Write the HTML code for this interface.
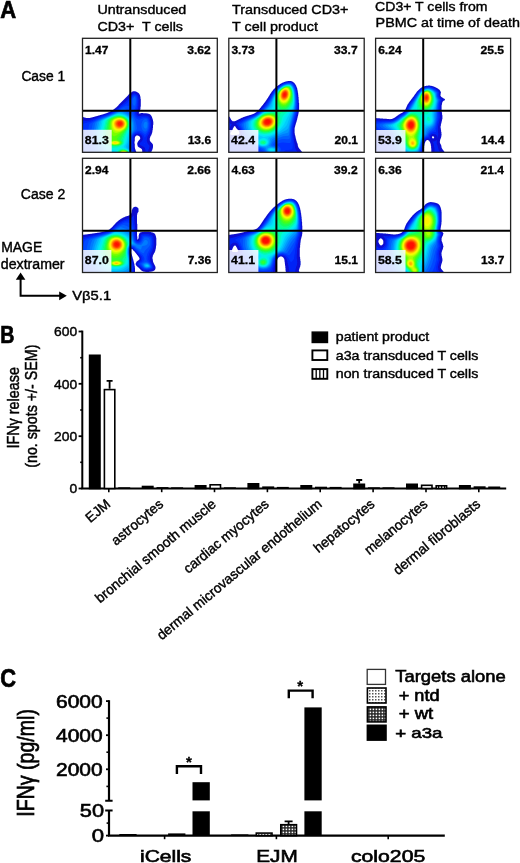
<!DOCTYPE html>
<html><head><meta charset="utf-8"><title>Figure</title>
<style>html,body{margin:0;padding:0;background:#fff;overflow:hidden}svg{display:block}text{font-family:'Liberation Sans', Arial, Helvetica, sans-serif;fill:#000;stroke:#000;stroke-width:0.4px}text[font-weight=bold]{stroke-width:0.3px}</style>
</head><body>
<svg width="520" height="863" viewBox="0 0 520 863">
<defs>
<filter id="bl" x="-20%" y="-20%" width="140%" height="140%"><feGaussianBlur stdDeviation="0.7"/></filter>
<filter id="bl2" x="-20%" y="-20%" width="140%" height="140%"><feGaussianBlur stdDeviation="0.5"/></filter>
<pattern id="pNtd" width="3" height="3" patternUnits="userSpaceOnUse"><rect width="3" height="3" fill="#fff"/><rect x="0" y="0" width="1.5" height="1.5" fill="#555"/></pattern>
<pattern id="pWt" width="3" height="3" patternUnits="userSpaceOnUse"><rect width="3" height="3" fill="#222"/><rect x="0.6" y="0.6" width="1.6" height="1.6" fill="#fff"/></pattern>
<pattern id="pHatch" width="3" height="10" patternUnits="userSpaceOnUse"><rect width="3" height="10" fill="#fff"/><rect x="0" y="0" width="1.2" height="10" fill="#000"/></pattern>
<clipPath id="cb1"><rect x="82.5" y="38.3" width="134.8" height="114.0"/></clipPath>
<clipPath id="cb2"><rect x="228.8" y="38.3" width="135.4" height="114.0"/></clipPath>
<clipPath id="cb3"><rect x="375.6" y="38.3" width="135.0" height="114.0"/></clipPath>
<clipPath id="cb4"><rect x="82.5" y="158.3" width="134.8" height="114.2"/></clipPath>
<clipPath id="cb5"><rect x="228.8" y="158.3" width="135.4" height="114.2"/></clipPath>
<clipPath id="cb6"><rect x="375.6" y="158.3" width="135.0" height="114.2"/></clipPath>
</defs>
<rect width="520" height="863" fill="#fff"/>
<text x="0.2" y="17.9" font-size="24" font-weight="bold" textLength="15.9" lengthAdjust="spacingAndGlyphs" style="stroke-width:0.7px">A</text>
<text x="97.4" y="14.4" font-size="13.6" textLength="88.9" lengthAdjust="spacingAndGlyphs">Untransduced</text>
<text x="97.4" y="31.3" font-size="13.6" textLength="85.6" lengthAdjust="spacingAndGlyphs">CD3+&#160; T cells</text>
<text x="232.1" y="14.4" font-size="13.6" textLength="116.3" lengthAdjust="spacingAndGlyphs">Transduced CD3+</text>
<text x="232.1" y="31.2" font-size="13.6" textLength="85.9" lengthAdjust="spacingAndGlyphs">T cell product</text>
<text x="375.1" y="10.8" font-size="13.6" textLength="112.5" lengthAdjust="spacingAndGlyphs">CD3+ T cells from</text>
<text x="375.6" y="26.5" font-size="13.6" textLength="144.4" lengthAdjust="spacingAndGlyphs">PBMC at time of death</text>
<text x="21.4" y="80.9" font-size="14" textLength="43.8" lengthAdjust="spacingAndGlyphs">Case 1</text>
<text x="20.8" y="198.8" font-size="14" textLength="44.4" lengthAdjust="spacingAndGlyphs">Case 2</text>
<text x="1.2" y="251.6" font-size="14" textLength="41.1" lengthAdjust="spacingAndGlyphs">MAGE</text>
<text x="0.8" y="268.8" font-size="14" textLength="63.8" lengthAdjust="spacingAndGlyphs">dextramer</text>
<text x="72.2" y="300.2" font-size="12.6" textLength="39.0" lengthAdjust="spacingAndGlyphs">V&#946;5.1</text>
<path d="M20.6,279 V295.7 H60" fill="none" stroke="#000" stroke-width="2"/>
<path d="M20.6,272.4 L15.8,279.8 L25.4,279.8Z" fill="#000"/>
<path d="M66.8,295.8 L59.2,291.4 L59.2,300.2Z" fill="#000"/>
<g clip-path="url(#cb1)">
<path d="M155.0,155.3 123.8,155.4 79.5,155.3 79.5,116.0 79.8,116.0 80.0,116.3 80.8,116.3 81.0,116.5 81.8,116.5 82.0,116.8 82.5,116.8 82.8,117.0 83.2,117.0 83.5,117.3 84.0,117.3 84.2,117.5 84.8,117.5 85.0,117.8 86.0,117.8 86.2,118.0 90.0,118.0 90.2,117.8 91.0,117.8 91.2,117.5 92.0,117.5 92.2,117.3 93.0,117.3 93.2,117.0 93.8,117.0 94.0,116.8 94.8,116.8 95.0,116.5 95.5,116.5 95.8,116.3 96.5,116.3 96.8,116.0 97.5,116.0 97.8,115.8 98.2,115.8 98.5,115.5 99.2,115.5 99.5,115.3 100.0,115.3 100.2,115.0 101.0,115.0 101.2,114.8 101.8,114.8 102.0,114.5 102.8,114.5 103.0,114.3 103.5,114.3 103.8,114.0 104.2,114.0 104.5,113.8 105.0,113.8 105.2,113.5 105.8,113.5 106.0,113.3 106.5,113.3 106.8,113.0 107.2,113.0 108.5,112.3 109.0,112.3 109.8,111.8 110.5,111.5 111.0,111.0 111.8,110.8 112.0,110.5 112.2,110.5 112.8,110.0 113.0,110.0 113.8,109.3 114.0,109.3 114.8,108.5 115.0,108.5 116.0,107.5 116.2,107.5 118.7,105.0 118.7,104.8 128.2,95.3 128.2,95.0 131.0,92.5 131.2,92.5 132.5,91.5 133.0,91.5 133.2,91.3 135.2,91.3 135.5,91.5 136.0,91.5 137.2,92.3 137.5,92.3 138.0,92.8 138.2,92.8 139.3,93.8 139.3,94.0 139.8,94.8 139.8,95.0 140.0,95.3 140.0,95.8 140.3,96.0 140.3,97.0 140.5,97.3 140.5,98.8 140.8,99.0 140.8,106.5 140.5,106.8 140.5,108.8 140.3,109.0 140.3,110.0 140.0,110.3 140.0,110.8 139.5,111.5 139.3,112.3 138.8,112.8 138.8,113.3 139.0,113.5 140.0,113.5 140.2,113.3 141.0,113.3 141.2,113.0 143.0,113.0 143.2,113.3 146.5,113.3 146.8,113.5 148.0,113.5 148.2,113.8 148.8,113.8 149.0,114.0 149.5,114.0 150.0,114.5 150.2,114.5 150.5,114.8 150.8,115.0 150.8,115.3 151.5,116.0 151.5,116.3 152.0,117.0 152.0,117.5 152.3,117.8 152.3,118.3 152.5,118.5 152.5,119.0 152.8,119.3 152.8,119.8 153.0,120.0 153.0,121.3 153.3,121.5 153.3,124.8 153.0,125.0 153.0,127.8 152.8,128.1 152.8,129.8 152.5,130.1 152.5,131.3 152.3,131.6 152.3,132.6 152.0,132.8 152.0,133.3 151.8,133.6 151.8,134.1 151.5,134.3 151.5,134.8 151.3,135.1 151.3,135.3 150.8,135.8 150.5,136.6 150.3,136.8 150.3,137.3 150.0,137.6 150.0,138.1 149.8,138.3 149.8,140.6 150.0,140.8 150.0,141.1 150.5,141.6 150.5,141.8 152.3,143.6 152.3,143.8 152.8,144.3 152.8,144.6 153.0,144.8 153.0,147.6 152.8,147.8 152.8,148.6 152.5,148.8 152.5,149.3 152.3,149.6 152.3,150.1 151.5,151.3 151.5,152.6 153.2,154.0 153.5,154.0 154.0,154.5 154.2,154.5 155.0,155.3ZM141.2,153.3 141.5,153.3 142.2,152.6 142.2,150.3 142.0,150.1 142.0,149.6 141.5,148.8 141.2,148.8 140.8,148.3 140.0,148.1 139.5,147.6 138.8,147.3 137.7,146.3 137.7,145.8 137.5,145.6 137.5,144.8 137.2,144.6 137.2,143.3 137.5,143.1 137.5,142.6 137.7,142.3 138.0,141.6 138.7,140.8 138.7,140.6 140.0,139.3 140.0,139.1 140.2,138.8 140.2,137.8 140.0,137.6 140.0,137.1 139.0,136.1 138.2,135.8 138.0,135.6 136.5,135.6 136.2,135.8 136.0,135.8 135.3,136.6 135.3,136.8 135.0,137.1 135.0,137.6 134.8,137.8 134.8,141.3 134.5,141.6 134.5,143.6 134.8,143.8 134.8,147.6 135.0,147.8 135.0,148.8 135.3,149.1 135.3,149.6 135.5,149.8 135.5,150.3 135.8,150.6 135.8,151.1 136.0,151.3 136.0,151.6 136.5,152.1 136.5,152.3 137.2,153.0 137.5,153.0 137.8,153.3 138.2,153.3 138.5,153.5 141.0,153.5 141.2,153.3Z" fill="#0a10d0" fill-rule="evenodd" filter="url(#bl2)"/>
<g filter="url(#bl)">
<path d="M149.0,155.3 144.2,155.3 145.0,154.4 145.4,153.3 145.4,150.3 145.2,149.3 144.8,148.1 144.0,147.0 143.2,146.5 140.0,145.1 139.7,144.1 139.7,143.6 140.1,142.8 142.0,140.9 142.6,139.8 142.7,139.1 142.5,137.3 141.9,135.8 140.5,134.6 139.0,133.9 138.2,133.7 136.2,133.9 135.0,134.6 134.1,135.8 133.4,137.6 133.4,140.6 133.2,141.3 133.1,143.6 133.3,144.6 133.2,147.8 133.4,149.3 134.4,152.8 135.5,154.6 136.3,155.3 123.8,155.4 79.5,155.3 79.5,119.6 84.0,120.6 85.8,120.8 90.2,120.2 96.5,117.8 103.2,115.6 109.5,113.2 113.0,111.5 117.4,108.5 120.0,106.3 120.5,105.7 127.2,100.2 129.2,98.0 130.8,96.0 132.1,94.5 133.0,93.9 133.5,93.5 134.2,93.3 135.2,93.5 136.0,93.9 137.3,94.8 137.9,96.0 138.4,98.0 138.7,100.0 138.5,105.5 138.3,106.5 138.2,107.8 137.7,109.8 136.7,111.8 136.5,112.5 136.5,113.8 136.8,114.5 137.7,115.5 138.8,115.9 140.2,116.0 142.2,115.5 143.0,115.6 145.5,115.5 147.2,115.9 148.2,116.3 148.8,116.6 149.6,117.8 150.7,120.8 151.0,122.5 151.1,123.8 150.9,124.8 150.9,126.8 150.5,129.1 149.9,131.8 149.4,133.1 149.1,133.8 147.9,135.8 147.2,137.6 146.8,140.6 146.9,141.6 147.4,142.8 148.0,143.9 149.2,145.4 149.6,146.1 149.2,148.1 148.3,150.1 148.1,151.1 148.2,153.3 148.5,154.3 149.2,155.3 149.0,155.3Z" fill="#0222f5" fill-rule="evenodd"/>
<path d="M134.0,155.3 123.8,155.4 86.8,155.3 84.6,150.3 83.1,145.1 82.2,139.6 81.9,133.8 82.2,128.6 82.6,125.3 83.0,123.7 90.5,121.7 96.8,118.8 101.0,117.1 108.0,114.7 113.5,112.1 118.0,109.3 120.8,107.3 121.8,106.4 127.5,102.5 129.2,100.6 131.5,97.0 132.8,95.5 134.2,94.6 135.5,95.0 136.5,95.7 137.1,97.0 137.6,100.0 137.4,104.8 136.9,107.5 136.4,109.3 135.4,111.0 135.0,112.3 135.1,113.8 135.6,115.3 136.1,116.0 136.9,116.8 137.8,117.4 138.5,117.6 140.2,117.7 142.2,117.1 145.2,116.9 147.0,117.2 147.8,117.5 148.5,118.3 149.4,120.5 149.9,122.5 150.0,123.5 149.8,126.8 149.4,128.8 148.7,131.6 147.8,133.3 146.6,135.1 145.5,136.8 145.0,138.0 144.3,136.6 142.9,134.6 141.2,133.2 139.2,132.4 138.0,132.3 135.8,132.9 134.4,133.8 133.3,135.3 132.6,137.6 132.5,140.3 132.2,141.3 132.1,143.6 132.3,144.8 132.1,147.8 132.4,149.8 133.3,153.1 134.1,155.3 134.0,155.3ZM144.8,143.8 143.3,143.6 144.5,142.7 144.8,143.8Z" fill="#0033ff" fill-rule="evenodd"/>
<path d="M132.8,155.3 123.8,155.4 94.5,155.3 92.9,152.8 91.6,150.3 90.5,147.6 89.6,144.8 88.9,141.8 88.4,138.8 88.1,135.8 88.1,132.8 88.6,127.5 89.2,124.3 89.5,124.0 92.8,121.9 96.8,119.7 101.2,117.8 108.2,115.2 113.8,112.6 118.5,109.9 122.6,107.3 124.0,106.6 126.8,105.6 128.2,106.0 128.8,106.0 129.2,105.8 129.8,104.8 130.4,101.8 132.2,97.8 133.5,96.3 134.2,95.8 134.5,95.7 135.7,96.3 136.0,96.8 136.5,98.5 136.8,100.5 136.6,103.0 136.3,105.3 135.2,108.5 134.0,110.3 133.6,111.5 133.5,112.5 133.7,113.8 134.4,115.8 135.3,117.0 136.5,118.4 137.8,119.3 138.8,119.7 140.0,119.6 142.2,118.6 144.2,118.1 145.2,118.0 147.0,118.3 147.5,118.8 148.5,120.8 149.0,122.8 149.1,123.5 148.9,126.5 148.6,128.6 148.1,130.1 147.6,131.3 147.0,132.4 145.2,134.2 145.0,134.3 142.0,132.0 140.8,131.3 139.8,130.9 138.8,130.8 136.5,131.4 135.2,132.0 133.8,133.3 132.7,134.8 132.2,136.0 131.9,137.6 131.8,140.3 131.5,141.3 131.4,143.6 131.5,145.1 131.3,147.8 131.5,149.6 132.7,154.3 132.9,155.3 132.8,155.3Z" fill="#0049ff" fill-rule="evenodd"/>
<path d="M134.2,105.9 133.5,105.3 132.8,104.0 132.4,102.5 132.4,100.8 132.4,100.0 133.0,98.5 134.0,97.3 134.5,97.0 135.0,97.3 135.5,98.5 135.8,100.8 135.7,102.8 135.2,104.5 135.0,105.1 134.2,105.9ZM131.8,155.3 123.8,155.4 99.0,155.3 96.6,152.3 94.6,148.8 93.1,145.1 91.9,140.8 91.4,136.8 91.3,132.6 91.7,128.6 92.7,123.8 93.7,122.8 95.3,121.5 97.0,120.5 99.5,119.2 103.0,117.7 110.4,114.8 114.0,113.1 120.8,109.6 123.5,108.5 124.0,108.4 124.8,108.7 127.0,110.1 129.2,111.7 131.0,113.3 132.2,114.8 133.2,116.3 134.6,118.8 135.4,120.8 136.1,123.3 136.6,125.8 136.9,128.6 136.9,129.3 133.8,132.2 132.5,133.8 131.8,135.5 131.3,137.1 131.1,140.1 130.9,141.3 130.7,143.6 130.8,145.1 130.5,147.8 130.8,149.6 131.9,153.3 132.0,155.1 132.0,155.3 131.8,155.3ZM145.8,131.6 145.0,131.6 144.2,131.4 143.5,130.9 142.8,130.3 141.8,128.6 141.3,126.3 141.5,123.8 142.3,121.5 143.0,120.5 143.8,119.7 145.0,119.2 146.2,119.3 146.8,119.7 147.7,121.3 148.2,123.3 148.1,126.3 147.7,128.3 146.8,130.5 146.2,131.2 145.8,131.6Z" fill="#0061ff" fill-rule="evenodd"/>
<path d="M131.0,155.3 102.8,155.3 102.0,154.6 99.4,151.8 97.1,148.3 95.4,144.6 94.2,140.3 93.7,136.1 93.7,131.8 94.4,127.0 95.2,123.3 95.5,122.8 97.3,121.3 99.8,119.8 101.5,118.9 110.5,115.2 118.5,111.4 121.5,110.3 122.8,110.2 124.8,111.2 127.2,112.7 129.5,114.5 130.8,115.7 131.8,117.0 132.6,118.3 133.3,119.8 134.2,122.8 134.6,126.5 134.6,129.6 131.8,133.9 131.1,135.6 130.7,137.3 130.5,140.1 130.2,141.3 130.0,143.8 129.8,147.8 130.0,148.8 130.9,151.6 131.3,153.1 131.3,154.8 131.2,155.3 131.0,155.3ZM146.0,128.6 145.5,128.6 145.0,128.5 144.2,127.8 143.8,126.8 143.5,125.5 143.7,124.0 144.2,122.8 145.0,121.9 145.8,121.7 146.2,121.8 146.8,122.2 147.2,123.0 147.3,123.5 147.2,126.3 146.5,128.3 146.0,128.6Z" fill="#007bff" fill-rule="evenodd"/>
<path d="M130.5,155.3 106.9,155.3 104.5,153.8 102.2,151.8 100.0,149.1 98.1,145.8 96.7,142.1 95.8,138.3 95.5,134.6 95.7,130.6 96.2,127.8 97.3,122.8 97.8,122.0 100.0,120.4 103.2,118.7 110.8,115.6 117.5,112.5 119.0,111.9 120.8,111.5 121.2,111.4 122.2,111.7 125.2,113.0 127.5,114.4 129.5,116.1 131.1,118.0 132.3,120.3 133.0,122.8 133.3,125.5 133.0,130.3 131.1,133.8 130.2,136.8 129.0,146.8 129.1,148.3 130.5,151.6 130.8,152.8 130.9,154.3 130.8,154.9 130.5,155.3Z" fill="#0097ff" fill-rule="evenodd"/>
<path d="M129.8,155.3 113.5,155.3 110.0,154.4 107.5,153.4 105.0,151.7 102.7,149.6 100.7,146.8 99.0,143.6 97.9,140.1 97.3,136.6 97.2,133.1 97.6,129.3 99.3,122.0 100.0,121.3 101.8,120.0 106.0,117.9 116.5,113.4 119.8,112.4 120.5,112.4 122.0,112.8 125.0,114.0 127.5,115.5 129.4,117.3 130.7,119.0 131.5,120.8 132.0,122.8 132.2,125.0 132.1,127.5 131.5,131.3 130.4,133.8 129.7,136.3 129.3,139.8 128.5,144.4 127.7,146.8 127.9,147.8 129.8,150.9 130.4,152.6 130.4,154.3 129.9,155.3 129.8,155.3Z" fill="#00b4ff" fill-rule="evenodd"/>
<path d="M129.2,155.3 116.3,155.3 115.0,154.2 114.0,153.7 109.8,152.4 107.5,151.3 105.2,149.7 103.2,147.6 101.4,144.8 100.1,142.1 99.2,138.8 98.8,135.3 98.8,132.1 99.3,128.8 101.0,121.8 101.0,121.5 101.8,120.8 103.5,119.7 107.0,117.9 116.8,113.8 119.2,113.2 122.0,113.7 124.8,114.7 127.2,116.3 129.1,118.0 130.2,119.8 131.0,121.8 131.4,124.0 131.3,126.3 130.9,129.1 129.0,136.3 128.5,139.8 128.2,141.0 127.6,143.1 126.2,145.8 126.0,146.8 126.1,147.3 126.4,147.8 128.8,150.1 129.8,151.8 130.0,152.8 130.1,153.8 129.7,154.8 129.4,155.3 129.2,155.3Z" fill="#00cefc" fill-rule="evenodd"/>
<path d="M128.8,155.3 117.4,155.3 115.5,152.8 114.8,152.1 113.8,151.6 110.2,150.7 108.0,149.6 105.6,147.8 103.5,145.3 102.1,143.1 101.0,140.1 100.4,137.1 100.2,133.8 100.3,131.8 100.6,129.8 102.4,122.0 102.7,121.0 103.6,120.3 107.0,118.4 113.8,115.4 117.0,114.2 118.5,113.9 121.8,114.4 124.5,115.3 125.8,116.0 127.0,116.9 128.9,118.8 129.9,120.5 130.5,122.5 130.7,124.5 130.5,126.8 130.0,128.8 128.5,133.8 126.4,142.6 125.7,144.1 124.3,146.1 124.1,146.8 124.2,147.3 124.7,147.8 127.8,149.8 128.5,150.6 129.2,151.5 129.6,152.6 129.7,153.6 129.3,154.8 129.0,155.3 128.8,155.3Z" fill="#00e5f8" fill-rule="evenodd"/>
<path d="M128.5,155.3 118.2,155.3 117.1,153.8 116.7,152.8 116.3,150.8 115.9,150.3 115.0,149.9 111.2,149.2 109.0,148.3 107.8,147.5 106.2,146.3 105.0,145.0 104.1,143.8 103.0,141.6 102.0,138.3 101.6,135.6 101.6,132.6 102.0,129.6 104.0,121.5 104.5,120.5 105.8,119.6 108.0,118.4 114.0,115.7 117.0,114.7 118.2,114.6 121.5,114.9 123.0,115.3 124.5,115.9 125.8,116.7 126.9,117.5 127.9,118.5 128.7,119.5 129.5,121.3 130.0,123.0 130.1,125.0 129.7,127.3 129.2,129.1 127.1,134.6 125.5,140.3 125.0,143.1 124.2,144.3 122.1,146.6 121.8,147.3 122.0,147.6 122.5,147.9 125.2,148.9 126.8,149.6 127.8,150.3 128.5,151.1 129.1,152.1 129.3,153.3 129.1,154.3 128.5,155.3Z" fill="#00f4e0" fill-rule="evenodd"/>
<path d="M116.0,147.8 113.2,147.9 112.0,147.7 110.5,147.2 107.8,145.8 106.5,144.8 105.8,144.1 104.8,142.3 103.3,137.6 102.9,134.6 103.1,131.6 103.5,129.3 104.7,125.0 105.3,122.0 105.6,121.0 106.2,120.0 107.7,119.0 110.5,117.6 114.8,115.8 117.0,115.2 118.8,115.1 120.5,115.3 122.5,115.7 124.5,116.5 126.1,117.5 127.5,118.8 128.5,120.3 129.1,121.8 129.5,123.5 129.4,125.5 129.1,127.0 128.6,128.6 126.4,133.3 125.4,135.8 124.2,139.8 124.0,142.6 123.7,143.6 122.8,144.6 120.8,146.0 118.2,147.2 116.0,147.8ZM128.0,155.3 118.8,155.3 118.0,154.3 117.6,153.3 117.5,152.1 117.8,151.1 118.2,150.3 118.8,149.8 119.5,149.3 120.5,149.0 121.8,148.8 123.0,148.9 124.5,149.2 125.8,149.6 126.8,150.1 127.7,150.8 128.4,151.6 128.8,152.3 129.0,153.1 128.9,154.1 128.5,154.8 128.1,155.3 128.0,155.3Z" fill="#00fbb5" fill-rule="evenodd"/>
<path d="M115.5,146.6 112.8,146.5 110.2,145.9 108.0,144.8 106.7,143.6 106.2,142.6 104.5,136.3 104.3,133.6 104.6,130.8 105.9,125.5 106.7,121.8 107.2,120.5 108.2,119.3 110.8,117.9 115.2,116.1 118.2,115.7 121.2,115.9 123.0,116.4 124.8,117.2 126.2,118.2 127.5,119.5 128.3,121.0 128.8,122.5 129.0,124.0 128.8,125.8 128.0,128.5 124.7,134.3 123.0,138.8 122.7,140.3 123.1,142.6 122.8,143.6 121.8,144.6 120.0,145.5 117.8,146.2 115.5,146.6ZM127.5,155.3 119.4,155.3 118.7,154.6 118.2,153.6 118.1,152.6 118.3,151.8 118.7,151.1 119.2,150.5 120.0,150.0 121.0,149.6 122.0,149.4 123.2,149.4 124.5,149.6 125.8,150.0 126.8,150.5 127.5,151.1 128.2,151.8 128.5,152.6 128.6,153.6 128.4,154.3 127.8,155.3 127.5,155.3Z" fill="#08ff88" fill-rule="evenodd"/>
<path d="M116.5,145.8 113.8,145.9 111.2,145.5 109.0,144.6 107.7,143.6 107.3,142.6 107.2,140.1 106.3,137.6 105.9,135.8 105.8,133.8 105.9,131.6 107.2,125.8 107.8,122.0 108.3,120.8 109.0,119.8 109.9,119.0 111.0,118.3 114.2,116.9 117.5,116.2 120.5,116.2 122.2,116.6 124.0,117.3 125.5,118.2 126.7,119.3 127.6,120.5 128.2,122.0 128.5,123.5 128.4,125.3 128.1,126.8 127.3,128.6 126.4,130.1 123.5,134.3 121.4,138.8 121.2,139.6 121.2,140.1 122.2,142.1 122.3,142.8 122.2,143.3 121.2,144.3 120.0,144.9 118.5,145.4 116.5,145.8ZM127.2,155.3 119.9,155.3 119.1,154.6 118.8,153.8 118.6,152.8 118.8,152.1 119.2,151.3 119.8,150.8 120.5,150.3 121.5,149.9 123.5,149.8 125.5,150.2 126.5,150.6 127.2,151.2 127.8,151.8 128.2,152.6 128.3,153.3 128.2,154.1 127.8,154.8 127.2,155.3Z" fill="#18ff58" fill-rule="evenodd"/>
<path d="M117.0,145.3 114.2,145.5 111.8,145.1 109.8,144.4 108.9,143.8 108.5,143.3 108.3,142.3 108.9,140.6 109.0,139.8 108.0,137.3 107.5,135.6 107.3,133.6 107.5,131.3 108.3,126.5 108.8,122.3 109.3,121.0 110.0,120.0 110.7,119.3 111.8,118.5 113.2,117.8 114.8,117.2 117.8,116.6 120.5,116.6 122.2,117.0 123.8,117.6 125.2,118.5 126.3,119.5 127.2,120.8 127.7,122.0 128.0,123.5 128.0,125.0 127.5,126.9 126.6,128.8 125.5,130.3 121.9,134.6 119.6,138.8 119.4,139.6 119.7,140.1 121.0,141.4 121.4,142.1 121.6,142.8 121.4,143.3 120.8,144.0 119.8,144.6 118.5,145.0 117.0,145.3ZM126.8,155.3 120.3,155.3 119.6,154.6 119.2,153.8 119.1,153.1 119.2,152.3 119.5,151.7 120.0,151.1 121.5,150.3 123.5,150.1 125.5,150.5 126.5,151.0 127.2,151.6 127.6,152.1 128.0,152.8 128.0,153.6 127.8,154.3 127.2,155.1 127.0,155.3 126.8,155.3Z" fill="#30ff30" fill-rule="evenodd"/>
<path d="M116.5,145.1 114.0,145.1 111.8,144.7 110.2,144.1 109.5,143.6 109.2,143.1 109.1,142.6 109.4,141.8 111.2,140.1 111.5,139.6 111.5,139.3 109.8,136.6 109.4,135.3 109.2,134.1 109.1,131.1 109.7,122.8 110.1,121.5 110.8,120.3 111.8,119.3 113.2,118.4 115.0,117.6 117.0,117.1 119.0,117.0 120.8,117.1 122.2,117.4 123.8,118.0 125.0,118.8 126.0,119.8 126.9,121.0 127.4,122.3 127.6,123.5 127.5,125.0 126.8,127.3 125.6,129.3 124.2,130.8 120.3,134.6 117.0,138.8 116.9,139.3 117.1,139.6 119.8,141.2 120.5,141.8 120.9,142.6 120.8,143.3 120.2,143.9 119.2,144.4 118.0,144.8 116.5,145.1ZM126.5,155.3 120.8,155.3 120.0,154.6 119.6,153.8 119.5,153.1 119.6,152.3 119.9,151.8 120.5,151.2 122.0,150.5 123.0,150.4 124.0,150.4 125.8,150.9 127.1,151.8 127.5,152.4 127.7,153.1 127.7,153.8 127.5,154.3 127.0,154.9 126.5,155.3Z" fill="#50ff10" fill-rule="evenodd"/>
<path d="M115.2,136.1 114.0,136.2 113.0,135.8 112.0,134.7 111.3,133.1 110.8,130.2 110.5,126.8 110.5,123.5 110.9,121.5 111.7,120.3 112.8,119.3 114.2,118.5 116.0,117.8 118.0,117.4 119.8,117.4 121.5,117.6 123.0,118.1 124.2,118.8 125.2,119.6 126.1,120.5 126.7,121.8 127.1,123.0 127.1,124.3 127.0,125.5 126.5,126.8 125.2,128.9 123.2,130.8 117.0,135.1 115.2,136.1ZM116.0,144.8 113.5,144.7 111.5,144.3 110.6,143.8 110.1,143.3 109.9,142.8 110.0,142.3 110.6,141.6 111.8,140.9 113.2,140.4 114.8,140.3 116.2,140.4 118.0,140.9 119.4,141.6 120.2,142.3 120.3,143.1 119.9,143.6 119.5,143.9 118.0,144.5 116.0,144.8ZM126.0,155.3 121.3,155.3 120.4,154.6 119.9,153.8 119.8,153.1 120.0,152.3 120.4,151.8 121.0,151.3 122.5,150.7 124.2,150.7 125.8,151.1 127.0,152.1 127.3,152.6 127.4,153.3 127.3,154.1 127.0,154.6 126.5,155.1 126.0,155.3Z" fill="#78ff00" fill-rule="evenodd"/>
<path d="M117.5,132.8 116.0,133.0 114.8,132.8 113.6,132.1 112.7,130.8 111.8,128.8 111.4,126.5 111.3,124.0 111.6,122.0 112.0,121.0 112.8,120.0 114.0,119.1 115.5,118.4 117.0,118.0 118.8,117.7 120.5,117.8 122.0,118.1 123.2,118.6 124.3,119.3 125.2,120.1 125.9,121.0 126.4,122.0 126.7,123.3 126.7,124.5 126.4,125.8 125.9,127.0 125.2,128.1 124.2,129.2 123.2,130.1 120.5,131.7 117.5,132.8ZM115.8,144.6 113.8,144.5 111.9,144.1 110.8,143.3 110.6,142.6 111.0,142.0 112.0,141.4 113.5,141.0 115.0,140.9 116.5,141.0 118.0,141.4 119.0,141.8 119.6,142.6 119.7,143.1 119.5,143.3 118.9,143.8 117.5,144.3 115.8,144.6ZM125.5,155.3 121.8,155.3 121.5,155.1 120.7,154.6 120.3,153.8 120.2,153.1 120.4,152.3 120.9,151.8 121.5,151.3 123.0,150.9 124.5,151.0 126.0,151.6 126.6,152.1 127.0,152.6 127.1,153.6 126.7,154.6 126.1,155.1 125.5,155.3Z" fill="#a8ff00" fill-rule="evenodd"/>
<path d="M119.0,131.4 117.5,131.5 116.0,131.4 114.8,130.8 113.9,130.1 113.0,128.8 112.4,127.3 112.1,125.5 112.0,123.5 112.2,122.3 112.6,121.3 113.4,120.3 114.3,119.5 115.5,118.9 117.0,118.4 118.5,118.1 120.0,118.1 121.2,118.3 122.5,118.7 123.7,119.3 124.6,120.0 125.5,121.0 126.0,122.0 126.2,123.0 126.3,124.3 126.1,125.5 125.7,126.5 125.0,127.6 124.0,128.8 123.0,129.6 121.8,130.3 120.5,130.9 119.0,131.4ZM115.8,144.3 113.8,144.2 112.3,143.8 111.5,143.3 111.4,143.1 111.4,142.6 111.8,142.1 112.8,141.6 115.0,141.2 116.2,141.3 117.5,141.6 118.5,142.1 119.0,142.6 119.0,143.1 118.9,143.3 118.2,143.8 117.2,144.1 115.8,144.3ZM125.0,155.3 122.4,155.3 121.4,154.8 120.9,154.3 120.6,153.6 120.6,152.8 120.8,152.3 121.8,151.5 123.2,151.1 124.8,151.3 125.9,151.8 126.5,152.3 126.8,152.8 126.8,153.8 126.5,154.3 126.1,154.8 125.0,155.3Z" fill="#d0ff00" fill-rule="evenodd"/>
<path d="M118.8,130.6 117.5,130.6 116.2,130.3 115.2,129.8 114.2,128.8 113.4,127.5 112.9,126.0 112.7,124.3 112.8,122.8 113.1,121.8 113.7,120.8 114.5,120.0 115.5,119.4 116.8,118.9 118.0,118.6 119.5,118.4 120.8,118.6 122.0,118.9 123.0,119.3 124.0,120.0 124.8,120.8 125.4,121.8 125.8,122.8 125.9,123.8 125.8,124.8 125.5,125.8 125.0,126.8 124.3,127.8 123.5,128.6 122.5,129.3 121.2,129.9 120.0,130.3 118.8,130.6ZM115.8,144.1 114.2,144.0 113.0,143.7 112.2,143.3 112.0,142.8 112.1,142.6 112.5,142.2 113.2,141.8 115.2,141.6 117.2,141.9 118.0,142.2 118.3,142.6 118.4,143.1 117.8,143.6 117.0,143.9 115.8,144.1ZM125.0,155.1 123.5,155.3 122.8,155.2 121.9,154.8 121.3,154.3 121.0,153.8 120.9,153.1 121.1,152.6 121.9,151.8 123.0,151.4 124.2,151.4 125.5,151.8 126.3,152.6 126.5,153.1 126.5,153.6 126.4,154.1 126.0,154.5 125.0,155.1Z" fill="#efff00" fill-rule="evenodd"/>
<path d="M119.2,129.8 118.0,129.8 116.8,129.5 115.8,129.0 114.9,128.3 114.2,127.4 113.7,126.3 113.4,125.0 113.3,123.5 113.5,122.5 113.9,121.5 114.4,120.8 115.3,120.0 116.2,119.5 117.5,119.1 118.8,118.8 120.0,118.8 121.2,119.0 122.2,119.4 123.2,119.9 124.0,120.5 124.7,121.3 125.1,122.0 125.4,123.0 125.5,124.0 125.3,125.0 125.0,126.0 124.3,127.0 123.5,127.9 122.5,128.7 121.5,129.2 120.2,129.6 119.2,129.8ZM116.8,143.6 115.5,143.8 114.2,143.7 113.1,143.3 112.8,142.8 113.2,142.3 114.0,142.1 115.2,141.9 116.4,142.1 117.2,142.3 117.7,142.8 117.4,143.3 116.8,143.6ZM124.0,155.1 122.5,154.8 122.0,154.6 121.5,154.1 121.3,153.6 121.3,153.1 121.5,152.6 122.0,152.1 123.0,151.7 124.2,151.7 125.3,152.1 126.0,152.7 126.2,153.6 125.8,154.3 125.0,154.8 124.0,155.1Z" fill="#ffef00" fill-rule="evenodd"/>
<path d="M120.2,129.1 119.0,129.2 118.0,129.1 117.0,128.8 116.2,128.4 115.5,127.8 114.9,127.0 114.1,125.3 114.0,123.3 114.2,122.3 114.5,121.5 115.8,120.3 116.6,119.8 117.8,119.4 118.8,119.2 120.0,119.2 121.2,119.4 122.2,119.8 123.2,120.3 124.0,121.0 124.5,121.8 124.9,122.8 125.1,123.8 124.9,124.8 124.6,125.8 124.0,126.8 123.2,127.5 122.2,128.3 120.2,129.1ZM116.0,143.3 114.4,143.3 113.9,143.1 113.9,142.8 114.1,142.6 114.8,142.4 116.0,142.4 116.7,142.8 116.6,143.1 116.0,143.3ZM124.0,154.8 122.8,154.6 121.9,154.1 121.7,153.6 121.7,153.1 122.2,152.3 123.2,151.9 124.2,151.9 125.2,152.3 125.7,152.8 125.9,153.6 125.6,154.1 125.0,154.6 124.0,154.8Z" fill="#ffd000" fill-rule="evenodd"/>
<path d="M119.8,128.6 118.8,128.6 117.8,128.4 117.0,128.1 116.2,127.5 115.5,126.8 115.1,126.0 114.7,125.0 114.5,124.0 114.6,123.0 114.8,122.3 115.2,121.5 115.8,120.9 117.2,120.0 119.2,119.6 121.2,119.8 122.2,120.2 123.0,120.7 123.7,121.3 124.2,122.0 124.6,123.5 124.5,124.5 124.3,125.3 123.9,126.0 123.2,126.9 121.8,128.0 120.8,128.4 119.8,128.6ZM124.8,154.3 123.8,154.5 122.8,154.3 122.4,154.1 122.1,153.6 122.2,152.8 122.8,152.4 123.5,152.2 124.2,152.2 125.0,152.6 125.4,153.1 125.5,153.6 125.2,154.1 124.8,154.3Z" fill="#ffb000" fill-rule="evenodd"/>
<path d="M120.8,127.8 119.0,128.0 117.5,127.6 116.4,126.8 115.5,125.5 115.1,124.0 115.3,122.5 116.1,121.3 117.2,120.5 119.0,120.0 120.0,120.0 121.0,120.1 122.0,120.5 122.8,121.0 123.3,121.5 123.8,122.3 124.1,123.0 124.2,123.8 124.0,124.8 123.7,125.5 123.2,126.3 122.5,126.9 121.8,127.4 120.8,127.8ZM124.2,154.1 123.5,154.2 123.0,154.0 122.6,153.6 122.7,153.1 123.0,152.7 123.5,152.6 124.0,152.6 124.6,152.8 124.9,153.1 125.0,153.6 124.8,153.9 124.2,154.1Z" fill="#ff9000" fill-rule="evenodd"/>
<path d="M120.5,127.3 119.0,127.4 117.8,127.0 116.8,126.3 116.0,125.0 115.7,123.8 116.0,122.5 116.8,121.4 118.0,120.7 119.5,120.4 121.2,120.6 122.0,121.0 122.7,121.5 123.5,122.8 123.7,123.5 123.6,124.3 123.1,125.5 122.0,126.7 120.5,127.3ZM123.8,153.4 123.7,153.3 123.9,153.3 123.8,153.4Z" fill="#ff7000" fill-rule="evenodd"/>
<path d="M120.2,126.8 119.0,126.8 118.0,126.4 117.0,125.6 116.5,124.5 116.4,123.3 116.8,122.4 117.5,121.5 118.5,121.0 120.0,120.9 121.2,121.1 122.0,121.5 122.5,122.0 123.0,123.0 123.1,124.3 122.5,125.5 121.5,126.4 120.2,126.8Z" fill="#ff5000" fill-rule="evenodd"/>
<path d="M120.5,126.1 119.5,126.2 118.5,125.9 117.8,125.3 117.3,124.5 117.1,123.5 117.3,122.8 117.8,122.2 118.5,121.7 119.5,121.4 120.8,121.5 121.7,122.0 122.3,122.8 122.5,123.8 122.2,124.8 121.5,125.6 120.5,126.1Z" fill="#ff3400" fill-rule="evenodd"/>
<path d="M120.5,125.3 119.8,125.4 119.2,125.3 118.7,125.0 118.2,124.5 118.0,124.0 118.0,123.3 118.3,122.8 118.9,122.3 119.8,122.1 120.5,122.2 121.2,122.5 121.6,123.0 121.7,123.5 121.6,124.3 121.2,124.9 120.5,125.3Z" fill="#ff1c00" fill-rule="evenodd"/>
</g>
<rect x="82.5" y="129.8" width="29.2" height="22.5" fill="#fdfdff" fill-opacity="0.86"/>
</g>
<path d="M130.3,38.3 V152.3 M82.5,110.7 H217.3" stroke="#000" stroke-width="2" fill="none"/>
<rect x="82.5" y="38.3" width="134.8" height="114.0" fill="none" stroke="#222" stroke-width="1.3"/>
<text x="85.1" y="53.8" font-size="11.6" font-weight="bold" textLength="23.4" lengthAdjust="spacingAndGlyphs">1.47</text>
<text x="210.8" y="53.8" font-size="11.6" text-anchor="end" font-weight="bold" textLength="23.6" lengthAdjust="spacingAndGlyphs">3.62</text>
<text x="84.8" y="143.6" font-size="11.6" font-weight="bold" textLength="24.0" lengthAdjust="spacingAndGlyphs">81.3</text>
<text x="211.1" y="143.6" font-size="11.6" text-anchor="end" font-weight="bold" textLength="23.4" lengthAdjust="spacingAndGlyphs">13.6</text>
<g clip-path="url(#cb2)">
<path d="M302.8,155.3 225.8,155.3 225.8,115.0 226.6,115.5 227.1,115.5 227.8,116.0 228.3,116.0 228.8,116.5 229.1,116.5 230.1,117.5 230.1,117.8 230.8,119.0 230.8,119.3 231.1,119.5 231.1,119.8 232.6,121.3 234.8,121.3 235.1,121.0 235.6,121.0 235.8,120.8 236.1,120.8 236.3,120.5 236.6,120.5 236.8,120.3 237.1,120.3 237.3,120.0 238.1,119.8 238.3,119.5 238.6,119.5 238.8,119.3 239.6,119.0 239.8,118.8 240.6,118.5 241.8,117.8 242.3,117.8 243.6,117.0 244.1,117.0 244.3,116.8 244.8,116.8 245.1,116.5 245.6,116.5 245.8,116.3 246.3,116.3 246.6,116.0 247.1,116.0 247.3,115.8 248.1,115.8 248.3,115.5 248.8,115.5 249.1,115.3 249.6,115.3 249.8,115.0 250.6,115.0 250.8,114.8 251.3,114.8 251.6,114.5 252.1,114.5 252.8,114.0 253.3,114.0 254.1,113.5 254.8,113.3 256.1,112.3 256.3,112.3 259.8,108.8 259.8,108.5 261.0,107.3 261.0,107.0 263.0,104.8 263.0,104.5 263.8,103.8 263.8,103.5 265.3,101.8 265.3,101.5 265.8,101.0 265.8,100.8 266.5,100.0 266.5,99.8 267.0,99.3 267.0,99.0 268.0,97.8 268.3,97.0 269.3,95.8 269.5,95.0 270.0,94.5 270.0,94.3 270.5,93.8 270.5,93.5 271.0,93.0 271.0,92.8 271.5,92.3 271.5,92.0 273.0,90.3 273.0,90.0 276.1,87.0 276.3,87.0 277.3,86.0 277.6,86.0 278.3,85.3 278.6,85.3 279.1,84.8 279.3,84.8 280.6,83.8 281.3,83.5 281.8,83.0 282.1,83.0 282.8,82.5 283.3,82.5 284.1,82.0 284.6,82.0 284.8,81.8 285.3,81.8 285.6,81.5 286.3,81.5 286.6,81.3 287.6,81.3 287.8,81.0 291.1,81.0 291.3,81.3 291.8,81.3 292.6,81.8 292.8,81.8 293.6,82.5 293.8,82.5 294.1,82.8 294.6,83.3 294.6,83.5 295.3,84.3 295.6,85.0 296.1,85.5 296.1,85.8 296.3,86.0 296.3,86.5 296.8,87.3 296.8,87.8 297.1,88.0 297.1,88.5 297.3,88.8 297.3,89.8 297.6,90.0 297.6,91.0 297.8,91.3 297.8,92.5 298.1,92.8 298.1,94.5 298.3,94.8 298.3,96.8 298.6,97.0 298.6,99.5 298.8,99.8 298.8,102.8 299.1,103.0 299.1,110.3 298.8,110.5 298.8,112.3 298.6,112.5 298.6,113.5 298.3,113.8 298.3,114.8 298.1,115.0 298.1,115.8 297.8,116.0 297.8,116.8 297.6,117.0 297.6,117.8 297.3,118.0 297.3,119.0 297.1,119.3 297.1,120.0 296.8,120.3 296.8,120.8 296.6,121.0 296.6,121.8 296.3,122.0 296.3,122.5 296.1,122.8 296.1,123.3 295.8,123.5 295.8,124.0 295.6,124.3 295.6,125.0 295.3,125.3 295.3,125.8 295.1,126.0 295.1,126.8 294.8,127.0 294.8,128.1 294.6,128.3 294.6,133.1 294.8,133.3 294.8,134.6 295.1,134.8 295.1,135.6 295.3,135.8 295.3,136.6 295.6,136.8 295.6,137.8 295.8,138.1 295.8,138.8 296.1,139.1 296.1,139.8 296.3,140.1 296.3,140.8 296.6,141.1 296.6,141.6 296.8,141.8 296.8,142.3 297.3,143.1 297.3,143.6 297.6,143.8 297.6,144.3 297.8,144.6 297.8,145.8 298.1,146.1 298.1,146.8 298.6,147.6 298.6,147.8 299.3,148.6 299.3,148.8 300.6,150.1 300.6,150.3 301.6,151.3 301.6,151.6 302.3,152.3 302.6,153.1 302.8,153.3 302.8,153.8 303.1,154.1 303.1,155.1 302.8,155.3ZM237.0,134.8 238.3,134.8 238.6,134.5 238.8,134.5 239.3,134.1 239.3,132.3 239.0,132.1 239.0,131.6 238.8,131.3 238.8,131.1 238.3,130.6 238.3,130.3 236.5,128.6 236.5,128.3 236.0,127.8 236.0,127.5 235.5,127.0 235.5,126.8 235.1,126.3 234.8,126.3 234.6,126.1 233.8,126.8 233.8,127.0 233.6,127.3 233.6,127.5 232.8,128.8 232.8,129.3 232.6,129.6 232.3,130.3 231.8,130.8 231.8,131.1 230.8,132.3 230.8,132.6 230.3,133.3 230.3,134.3 230.8,134.8 231.3,134.8 231.6,135.0 236.8,135.0 237.0,134.8Z" fill="#0a10d0" fill-rule="evenodd" filter="url(#bl2)"/>
<g filter="url(#bl)">
<path d="M299.1,155.3 225.8,155.3 225.8,119.0 227.1,119.5 228.4,121.8 230.0,123.3 230.8,123.9 232.0,124.3 231.1,125.3 229.6,128.3 227.9,130.6 227.1,132.1 226.9,133.1 226.9,134.8 227.1,135.8 227.6,136.5 228.3,137.3 229.0,137.8 231.1,138.4 236.8,138.0 239.3,137.2 240.5,136.3 241.3,135.1 241.4,134.3 241.2,131.8 240.7,130.6 239.9,129.1 238.6,127.5 237.1,125.0 236.6,124.4 235.7,123.8 235.9,123.5 242.3,119.6 244.1,118.7 247.8,117.1 251.1,116.1 253.8,115.0 255.6,114.1 257.1,113.0 260.6,109.8 264.3,105.8 267.7,101.0 270.7,95.8 274.1,90.5 276.4,88.0 278.8,86.1 282.3,83.8 284.6,82.8 286.1,82.3 287.8,82.1 288.3,81.9 290.6,82.0 291.3,82.2 292.3,82.7 293.6,83.8 294.3,84.8 295.3,86.5 296.3,89.3 296.6,91.3 296.9,91.8 296.9,92.8 297.1,93.3 297.1,94.8 297.3,95.3 297.4,97.0 297.6,97.5 297.5,99.8 297.7,100.3 297.7,103.0 297.9,103.8 297.6,109.5 297.4,110.3 297.3,111.5 296.8,114.0 295.8,117.5 295.5,119.3 293.7,125.5 293.2,128.1 293.0,133.3 294.1,141.6 294.9,145.6 294.9,146.6 295.2,148.1 296.0,150.1 299.3,154.6 299.2,155.3 299.1,155.3Z" fill="#0222f5" fill-rule="evenodd"/>
<path d="M275.3,155.3 268.3,155.3 266.3,154.9 264.1,154.2 262.3,153.4 258.3,151.3 252.6,149.2 247.8,146.9 243.6,144.5 240.2,142.1 239.0,141.1 241.3,138.5 241.9,137.6 242.6,135.8 242.7,134.1 242.4,131.8 241.8,130.1 240.8,128.2 239.6,126.5 238.3,124.0 241.3,121.7 244.6,119.6 248.1,118.0 252.8,116.2 255.8,114.7 257.6,113.5 261.3,110.3 264.9,106.5 267.3,103.4 269.4,100.0 272.8,93.8 274.8,90.8 276.8,88.6 279.1,86.7 282.6,84.3 284.6,83.5 286.3,82.9 288.6,82.5 290.3,82.6 291.8,83.3 293.1,84.3 294.6,86.5 295.2,88.0 295.7,89.5 296.4,93.5 296.4,94.8 296.7,95.5 296.7,97.0 296.9,97.8 296.8,99.8 297.0,100.5 296.9,103.0 297.1,104.0 296.8,109.3 295.8,113.8 292.8,125.3 292.3,128.1 292.0,133.3 292.4,137.8 292.8,145.6 292.3,148.9 292.1,149.3 290.3,149.8 286.8,150.0 285.8,150.2 284.8,150.8 282.2,152.8 280.6,153.8 278.1,154.7 275.3,155.3Z" fill="#0033ff" fill-rule="evenodd"/>
<path d="M274.1,154.1 271.6,154.2 269.1,154.0 266.8,153.4 265.1,152.7 263.8,151.8 261.3,149.7 256.8,147.9 254.3,146.6 252.8,145.3 249.7,142.3 244.7,138.6 244.3,138.2 244.1,137.8 243.9,134.6 243.2,131.1 242.3,128.8 240.5,125.8 240.0,124.5 240.0,124.3 242.3,122.2 244.8,120.4 248.3,118.7 253.1,116.7 256.1,115.2 258.1,113.9 263.3,109.3 265.7,106.8 268.0,103.8 270.0,100.3 272.8,95.0 275.1,91.3 277.1,89.0 279.3,87.1 282.8,84.7 284.8,83.9 286.3,83.4 288.6,83.1 290.3,83.2 291.6,83.8 292.6,84.5 293.3,85.5 294.1,86.8 295.1,89.5 295.6,92.0 296.1,95.8 296.1,97.0 296.3,98.0 296.3,99.8 296.4,100.8 296.4,103.0 296.5,104.0 296.1,109.3 295.7,111.3 292.1,125.0 291.5,127.8 291.1,133.3 291.2,138.1 290.8,141.6 290.3,142.8 289.6,143.0 287.8,143.1 284.1,142.5 282.1,142.5 279.6,143.0 277.6,143.8 277.1,144.5 277.1,145.1 277.6,145.6 279.6,147.1 280.4,148.1 280.9,149.3 280.8,150.6 279.9,151.8 278.5,152.8 276.3,153.6 274.1,154.1Z" fill="#0049ff" fill-rule="evenodd"/>
<path d="M274.3,153.3 272.6,153.5 270.6,153.4 268.8,153.2 267.1,152.6 265.3,151.6 263.5,149.6 262.8,149.0 261.9,148.6 257.8,147.1 256.6,146.5 255.3,145.6 253.9,144.1 252.3,141.4 251.6,140.4 247.3,136.9 245.6,135.2 245.1,134.0 244.3,131.3 243.7,129.6 241.5,124.8 242.3,123.8 243.4,122.5 245.8,120.8 248.3,119.4 254.6,116.6 258.1,114.5 262.2,111.0 264.9,108.5 267.0,106.3 268.6,104.2 270.1,101.5 273.2,95.3 275.5,91.5 277.3,89.4 278.6,88.3 281.1,86.3 283.6,84.8 285.8,84.0 287.3,83.7 288.8,83.5 290.1,83.6 291.3,84.1 292.1,84.8 292.9,85.8 293.7,87.0 294.6,89.5 295.2,92.3 295.7,95.8 295.7,97.0 295.8,98.0 295.8,99.8 295.9,100.8 295.8,103.0 296.0,104.0 295.5,109.0 295.1,111.0 292.0,123.0 290.8,127.8 289.9,137.6 289.6,138.6 289.3,138.9 287.6,139.2 283.6,139.0 281.3,139.3 279.1,140.0 276.8,141.0 275.3,141.8 274.3,142.6 273.2,144.1 273.1,144.6 273.2,145.1 273.8,145.6 276.8,146.9 278.1,147.7 279.0,148.8 279.3,149.8 279.1,150.8 278.1,151.9 276.6,152.7 274.3,153.3Z" fill="#0061ff" fill-rule="evenodd"/>
<path d="M273.8,152.8 272.3,153.0 270.6,152.9 269.1,152.6 267.8,152.2 266.8,151.7 266.0,151.1 265.4,150.3 264.6,148.8 264.1,148.3 258.8,146.7 257.3,145.9 256.2,145.1 255.5,144.3 254.9,143.3 253.9,140.3 253.3,139.2 252.4,138.3 249.6,136.1 248.1,134.8 246.8,133.3 245.6,131.6 244.0,127.5 243.8,125.8 243.8,124.0 244.0,123.5 245.3,122.2 247.3,120.7 250.6,118.9 254.8,116.9 258.3,114.8 264.1,110.0 266.6,107.8 268.3,105.8 269.1,104.5 270.6,101.8 273.6,95.5 275.8,91.8 277.6,89.7 278.8,88.5 281.3,86.6 283.8,85.1 286.6,84.2 288.8,83.9 290.1,84.0 291.1,84.5 291.8,85.1 292.6,86.0 293.3,87.3 294.3,89.8 294.8,92.3 295.2,95.8 295.5,100.8 295.4,103.0 295.5,104.3 294.9,109.0 290.5,126.0 290.2,127.8 289.7,131.6 289.1,134.8 288.7,135.6 288.3,135.8 283.3,136.3 280.3,137.2 275.1,139.6 273.9,140.3 273.1,141.2 272.3,142.3 271.3,144.3 271.1,145.1 271.2,145.6 271.8,146.1 275.3,147.1 276.7,147.8 277.8,148.8 278.2,149.8 277.9,150.8 277.1,151.7 275.6,152.4 273.8,152.8Z" fill="#007bff" fill-rule="evenodd"/>
<path d="M273.8,152.3 272.3,152.5 270.8,152.4 269.6,152.2 268.3,151.8 267.1,151.1 266.5,150.3 266.2,149.6 266.1,148.2 265.8,147.8 265.1,147.5 261.8,147.0 259.8,146.4 258.1,145.6 256.8,144.6 256.1,143.6 255.7,142.6 255.5,139.6 255.0,138.3 254.3,137.5 251.3,135.3 249.6,133.8 248.1,132.1 247.1,130.3 246.3,128.6 245.9,126.8 245.7,124.8 245.9,123.0 247.1,121.8 248.8,120.5 255.0,117.3 258.6,115.1 264.7,110.3 267.3,108.0 268.8,106.3 269.8,104.8 271.1,102.3 273.6,96.5 275.5,93.0 277.1,90.8 279.1,88.7 281.3,86.9 283.8,85.4 285.8,84.7 287.6,84.4 288.8,84.3 290.1,84.4 290.8,84.8 291.6,85.4 292.3,86.3 292.9,87.3 293.9,89.8 294.4,92.3 294.8,96.0 295.1,101.0 294.9,103.0 295.0,104.3 294.4,109.0 290.6,122.8 289.4,127.5 288.9,130.8 288.3,132.4 287.1,132.9 283.3,133.9 281.1,134.8 273.3,138.6 272.3,139.3 271.6,140.3 270.6,143.1 269.3,145.6 269.2,146.1 269.3,146.3 270.1,146.6 273.3,147.2 275.1,147.7 276.5,148.6 276.9,149.1 277.2,149.6 277.2,150.1 277.0,150.6 276.4,151.3 275.3,151.9 273.8,152.3Z" fill="#0097ff" fill-rule="evenodd"/>
<path d="M265.3,146.6 262.8,146.5 260.6,146.1 258.7,145.3 257.3,144.1 256.8,143.1 256.6,142.1 256.7,141.1 257.2,138.8 257.1,137.9 256.6,137.3 256.1,136.8 253.1,134.8 251.6,133.5 250.1,132.1 249.1,130.6 248.1,128.6 247.6,126.5 247.5,124.5 247.8,122.5 248.6,121.5 250.8,120.0 255.1,117.7 258.8,115.3 261.3,113.4 266.5,109.5 268.6,107.8 269.5,106.8 270.4,105.3 271.3,103.3 273.6,97.5 275.8,93.3 276.5,92.0 277.9,90.3 280.1,88.3 282.3,86.6 283.6,85.8 285.3,85.2 286.6,84.8 288.8,84.6 290.3,84.9 291.3,85.7 292.0,86.5 293.1,88.5 293.6,90.0 294.1,92.5 294.5,96.0 294.7,101.0 294.5,104.3 293.9,108.8 291.4,116.8 288.3,128.2 287.5,129.1 286.3,129.9 282.6,131.9 276.8,135.3 272.1,137.6 270.8,138.3 270.3,138.8 270.1,139.3 269.7,142.6 268.9,144.3 268.1,145.3 267.3,145.9 266.3,146.4 265.3,146.6ZM272.1,152.1 269.9,151.8 268.2,151.1 267.7,150.6 267.3,149.8 267.4,149.1 267.6,148.6 268.1,148.1 269.1,147.7 271.6,147.5 273.1,147.7 274.3,148.0 275.3,148.5 275.9,149.1 276.2,149.6 276.3,150.1 276.1,150.6 275.6,151.1 274.1,151.8 272.1,152.1Z" fill="#00b4ff" fill-rule="evenodd"/>
<path d="M264.1,146.1 262.1,146.0 260.3,145.5 258.8,144.6 257.8,143.6 257.5,142.6 257.5,141.6 258.0,140.3 259.2,138.3 259.3,137.8 259.2,137.3 258.5,136.6 255.1,134.5 253.4,133.3 251.8,131.8 250.7,130.3 249.7,128.3 249.1,126.3 249.1,124.0 249.5,122.0 249.9,121.5 251.1,120.5 257.1,117.0 264.3,111.7 266.6,110.3 269.1,109.1 270.4,108.0 271.1,107.2 271.6,106.1 272.3,102.8 273.2,100.0 274.0,97.8 275.4,94.8 276.8,92.3 277.7,91.0 280.3,88.4 282.6,86.8 284.1,85.9 285.3,85.5 287.8,85.0 289.1,85.0 290.3,85.3 291.2,86.0 292.4,87.8 293.1,89.5 293.5,91.3 293.9,94.0 294.2,98.3 294.3,101.0 294.1,104.5 293.3,108.8 292.6,110.8 289.7,117.0 287.3,123.9 286.3,125.7 285.0,127.3 282.4,129.6 279.0,132.3 275.3,134.6 273.3,135.6 269.7,137.1 268.5,137.8 268.2,138.3 268.2,138.8 268.8,140.8 268.9,141.8 268.7,142.8 268.4,143.6 267.7,144.6 266.8,145.3 265.6,145.8 264.1,146.1ZM272.6,151.6 270.6,151.5 269.1,150.8 268.4,150.1 268.3,149.6 268.5,149.1 269.1,148.6 269.8,148.3 271.6,148.1 273.6,148.4 274.9,149.1 275.3,149.8 275.1,150.6 274.1,151.2 272.6,151.6Z" fill="#00cefc" fill-rule="evenodd"/>
<path d="M265.3,136.8 264.3,137.0 263.3,136.9 258.6,135.0 255.5,133.3 254.2,132.3 253.1,131.3 252.3,130.3 251.5,129.1 251.0,127.8 250.6,126.5 250.5,125.3 250.6,123.8 250.8,122.5 251.3,121.3 252.8,120.1 257.3,117.2 261.8,113.9 264.8,111.9 266.1,111.3 269.8,110.1 271.5,109.0 272.3,108.0 272.9,106.5 273.3,104.5 273.6,100.8 274.4,98.0 276.3,93.8 277.0,92.5 278.3,90.8 279.6,89.4 281.1,88.1 282.6,87.1 284.1,86.2 286.8,85.4 289.1,85.3 290.1,85.6 290.8,86.1 291.4,86.8 292.4,88.8 293.2,91.3 293.6,94.0 293.9,98.3 293.8,101.3 293.6,104.5 292.8,108.1 287.5,117.3 284.0,124.5 282.4,126.8 280.5,129.1 277.3,131.9 274.1,134.0 270.6,135.4 265.3,136.8ZM263.8,145.6 261.8,145.4 260.0,144.8 258.8,143.8 258.4,143.1 258.3,142.3 258.4,141.6 258.7,140.8 259.8,139.6 261.6,138.5 262.8,138.0 263.6,137.8 264.3,137.9 264.8,138.1 266.6,139.3 267.6,140.6 267.9,141.3 268.0,142.1 267.7,143.3 266.8,144.5 265.6,145.2 263.8,145.6ZM272.3,151.1 271.1,151.0 270.1,150.6 269.5,150.1 269.5,149.6 270.1,149.0 271.3,148.7 272.8,148.8 273.9,149.3 274.3,149.8 274.1,150.4 273.5,150.8 272.3,151.1Z" fill="#00e5f8" fill-rule="evenodd"/>
<path d="M267.1,135.1 265.3,135.2 263.8,135.2 262.3,134.9 260.6,134.5 258.8,133.8 257.3,133.1 256.1,132.3 254.8,131.3 253.8,130.2 253.0,129.1 252.4,127.8 252.0,126.5 251.9,125.3 251.9,123.8 252.2,122.5 252.6,121.3 252.9,120.8 254.8,119.3 261.8,114.3 263.6,113.2 265.1,112.4 271.1,110.8 272.2,110.3 273.1,109.7 273.9,108.5 274.3,107.0 274.5,105.3 274.6,99.5 274.8,98.3 276.0,95.0 277.7,92.0 278.6,90.9 280.6,88.8 282.8,87.2 284.1,86.5 285.6,85.9 286.8,85.7 289.1,85.6 289.8,85.8 290.7,86.5 291.8,88.0 292.5,90.0 293.1,92.5 293.4,96.0 293.5,98.5 293.4,101.3 293.1,104.5 292.7,105.8 291.6,108.1 290.1,110.5 284.8,117.5 284.1,119.1 281.7,124.8 280.5,126.8 278.9,128.8 276.3,131.3 273.6,133.0 270.6,134.3 267.1,135.1ZM263.8,145.1 262.6,145.1 261.3,144.8 260.2,144.3 259.4,143.6 259.1,142.8 259.2,141.8 259.6,141.0 260.3,140.3 261.8,139.6 263.6,139.3 264.6,139.5 265.3,139.8 266.1,140.3 266.6,140.8 267.0,141.6 267.2,142.3 267.0,143.1 266.8,143.6 266.3,144.1 265.6,144.6 263.8,145.1ZM272.3,150.1 271.6,150.1 271.4,149.8 272.1,149.7 272.4,149.8 272.3,150.1Z" fill="#00f4e0" fill-rule="evenodd"/>
<path d="M266.8,134.1 263.6,134.0 260.6,133.4 257.8,132.1 256.6,131.3 255.6,130.4 254.6,129.3 254.0,128.3 253.6,127.3 253.2,126.0 253.1,124.8 253.2,123.5 253.5,122.3 254.0,121.0 254.4,120.3 255.1,119.7 261.6,114.9 263.8,113.5 264.6,113.2 266.6,112.6 272.8,111.4 273.9,111.0 274.8,110.5 275.4,109.5 275.7,108.0 275.4,101.0 275.5,97.8 276.3,95.3 277.5,92.8 278.8,91.0 280.7,89.0 282.8,87.5 284.1,86.7 285.6,86.2 286.8,86.0 289.1,86.0 289.8,86.2 290.9,87.3 291.9,89.0 292.6,91.5 292.9,94.0 293.1,98.5 293.0,101.3 292.6,103.6 291.8,105.3 290.4,107.8 288.8,110.0 287.1,112.0 284.0,114.8 283.0,116.0 282.3,117.5 281.2,122.0 280.4,124.3 279.2,126.5 277.7,128.6 275.3,130.8 272.8,132.3 269.8,133.5 266.8,134.1ZM263.6,144.6 262.6,144.6 261.6,144.3 260.8,144.0 260.3,143.5 260.0,143.1 259.9,142.3 260.2,141.6 260.8,140.9 262.1,140.3 263.6,140.2 264.9,140.6 265.9,141.3 266.3,142.3 266.0,143.3 265.1,144.2 263.6,144.6Z" fill="#00fbb5" fill-rule="evenodd"/>
<path d="M267.3,133.1 264.3,133.2 261.3,132.6 259.8,132.0 258.6,131.4 256.6,129.8 255.2,128.1 254.7,127.0 254.4,125.8 254.3,124.5 254.4,123.3 255.1,121.0 255.8,119.8 256.7,119.0 261.3,115.5 263.6,114.1 265.6,113.5 267.8,113.0 270.6,112.7 275.8,112.4 276.8,112.2 277.5,111.8 277.9,111.0 277.8,110.0 276.5,103.5 276.1,99.8 276.3,96.5 277.1,94.3 277.7,93.0 278.9,91.3 280.8,89.3 283.1,87.6 284.3,86.9 286.6,86.3 288.1,86.2 289.6,86.4 290.6,87.3 291.6,89.3 292.2,91.5 292.6,94.3 292.7,98.5 292.5,100.8 292.1,102.0 291.3,104.1 290.4,105.8 289.4,107.3 288.3,108.6 287.1,109.9 285.1,111.3 281.3,113.1 280.4,113.8 280.1,115.0 280.2,119.8 279.8,122.3 279.4,123.8 278.7,125.3 277.1,127.8 275.1,129.8 272.8,131.3 270.1,132.5 267.3,133.1ZM264.1,143.9 262.8,144.0 262.1,143.8 261.5,143.6 260.9,142.8 260.9,142.3 261.1,141.9 261.7,141.3 262.6,141.0 263.6,141.0 264.6,141.3 265.2,142.1 265.3,142.8 264.8,143.5 264.1,143.9Z" fill="#08ff88" fill-rule="evenodd"/>
<path d="M283.3,109.8 281.8,109.8 280.6,109.2 279.3,107.9 278.4,106.0 277.5,103.5 276.9,100.8 276.8,98.0 277.0,95.5 277.9,93.3 279.0,91.5 281.1,89.3 282.3,88.3 284.3,87.1 285.8,86.6 287.8,86.5 289.3,86.7 290.1,87.3 290.9,88.5 291.6,90.0 291.9,91.5 292.3,94.3 292.4,96.3 292.2,98.5 292.0,99.5 291.4,101.5 290.6,103.3 289.6,105.0 288.6,106.5 287.3,107.8 286.1,108.7 284.6,109.5 283.3,109.8ZM266.6,132.3 263.8,132.2 261.1,131.6 258.8,130.4 257.1,128.9 255.9,127.0 255.5,126.0 255.3,124.8 255.5,122.8 256.3,120.5 257.4,119.0 261.1,116.1 262.6,115.1 264.8,114.2 267.8,113.5 271.1,113.3 274.1,113.6 275.3,113.9 276.3,114.3 277.3,115.1 278.1,116.0 278.6,117.3 279.0,118.8 279.0,120.3 278.8,122.0 278.4,123.8 277.7,125.3 276.8,126.8 275.7,128.1 274.6,129.1 273.1,130.2 271.6,131.0 270.1,131.6 268.3,132.1 266.6,132.3ZM263.3,142.9 262.6,142.8 262.6,142.5 263.1,142.2 263.5,142.3 263.6,142.6 263.5,142.8 263.3,142.9Z" fill="#18ff58" fill-rule="evenodd"/>
<path d="M284.1,107.8 282.6,107.8 281.1,107.2 279.8,106.0 278.8,104.3 277.9,102.0 277.5,99.8 277.4,97.3 277.6,95.0 278.1,93.5 279.2,91.8 280.3,90.4 281.8,89.0 283.3,87.9 284.6,87.3 286.6,86.8 288.2,86.8 289.3,87.1 289.8,87.5 290.6,88.6 291.3,90.3 291.8,92.8 292.0,94.3 291.9,96.3 291.7,97.5 291.2,99.5 290.6,101.3 289.8,102.9 288.8,104.4 287.8,105.6 286.6,106.7 285.3,107.4 284.1,107.8ZM266.3,131.6 263.8,131.4 261.6,130.8 259.5,129.8 257.8,128.3 256.8,126.5 256.3,124.5 256.4,122.5 257.2,120.5 258.0,119.3 258.9,118.3 261.0,116.5 262.8,115.5 265.1,114.6 267.8,114.0 270.6,113.9 273.1,114.2 275.1,115.0 276.1,115.6 276.9,116.5 277.6,117.8 278.0,119.0 278.1,120.5 278.0,122.0 277.6,123.5 277.0,125.0 276.2,126.3 275.1,127.7 273.8,128.8 272.6,129.7 271.1,130.5 269.6,131.0 268.1,131.4 266.3,131.6Z" fill="#30ff30" fill-rule="evenodd"/>
<path d="M284.8,106.1 283.3,106.3 281.8,105.9 280.6,105.0 279.4,103.5 278.6,101.6 278.0,99.5 277.9,97.3 278.1,95.0 278.5,93.5 279.3,92.0 280.5,90.5 281.8,89.3 283.3,88.2 284.8,87.4 286.6,87.0 288.1,87.1 289.1,87.5 289.6,88.0 290.5,89.3 291.0,90.5 291.3,91.9 291.5,93.5 291.5,95.0 291.2,96.8 290.3,100.0 289.6,101.5 288.8,102.9 287.8,104.1 286.8,105.0 285.8,105.7 284.8,106.1ZM266.8,130.8 264.6,130.8 262.3,130.3 260.3,129.3 258.8,128.1 257.8,126.5 257.2,124.8 257.2,123.0 257.8,121.0 258.8,119.3 260.5,117.5 262.3,116.3 264.6,115.2 267.1,114.6 269.6,114.4 271.8,114.6 273.8,115.2 274.8,115.8 275.8,116.6 276.5,117.5 277.0,118.8 277.3,120.0 277.3,121.5 277.0,123.0 276.5,124.3 275.9,125.5 274.9,126.8 273.8,127.9 272.7,128.8 271.3,129.6 269.8,130.2 268.3,130.6 266.8,130.8Z" fill="#50ff10" fill-rule="evenodd"/>
<path d="M284.8,104.8 283.3,105.0 282.1,104.6 280.8,103.8 279.8,102.6 279.0,101.0 278.6,99.3 278.4,97.3 278.5,95.3 278.9,93.5 279.3,92.5 280.6,90.8 281.5,89.8 283.3,88.5 284.8,87.7 286.1,87.4 287.6,87.4 288.3,87.5 289.1,88.2 289.8,89.2 290.4,90.3 290.7,91.5 291.0,93.0 290.8,96.0 290.0,99.0 289.3,100.5 288.6,101.8 287.8,102.8 286.8,103.7 285.8,104.4 284.8,104.8ZM267.8,130.1 265.6,130.2 263.6,129.9 261.6,129.2 260.1,128.2 258.8,126.8 258.1,125.3 257.9,123.5 258.2,121.8 259.0,120.0 260.1,118.5 261.8,117.1 263.6,116.1 265.6,115.4 267.8,114.9 270.1,114.9 272.1,115.2 273.3,115.7 274.3,116.3 275.2,117.0 275.9,118.0 276.3,119.0 276.6,120.3 276.6,121.5 276.3,123.0 275.8,124.3 275.1,125.5 274.3,126.6 273.3,127.6 272.1,128.5 270.8,129.1 269.3,129.7 267.8,130.1Z" fill="#78ff00" fill-rule="evenodd"/>
<path d="M284.3,103.8 283.1,103.8 281.8,103.4 280.8,102.6 280.0,101.5 279.3,100.1 278.9,98.5 278.8,96.8 279.0,94.8 279.8,92.3 280.7,91.0 282.1,89.6 283.6,88.5 284.8,87.9 286.1,87.6 287.3,87.7 288.1,88.0 288.9,88.8 289.6,89.7 290.0,90.8 290.4,92.0 290.5,93.3 290.3,96.0 289.5,98.8 288.8,100.2 288.1,101.3 287.3,102.2 286.3,103.0 285.3,103.6 284.3,103.8ZM266.8,129.6 264.8,129.5 263.1,129.1 261.4,128.3 260.1,127.1 259.1,125.8 258.7,124.3 258.6,122.8 259.1,121.0 260.0,119.5 261.3,118.1 262.8,117.0 264.6,116.1 266.6,115.5 268.6,115.3 270.6,115.4 272.3,115.9 273.3,116.3 274.3,117.1 275.1,118.0 275.6,119.0 275.9,120.0 276.0,121.3 275.8,122.5 275.4,123.8 274.8,125.0 274.1,126.0 273.1,127.0 272.1,127.8 270.8,128.5 269.6,129.0 268.3,129.4 266.8,129.6Z" fill="#a8ff00" fill-rule="evenodd"/>
<path d="M284.8,102.8 283.6,103.0 282.6,102.8 281.6,102.3 280.6,101.3 279.9,100.0 279.5,98.8 279.2,97.3 279.3,95.5 279.6,93.8 280.2,92.3 280.8,91.3 281.6,90.3 283.8,88.7 285.1,88.1 286.6,87.9 287.3,88.1 288.1,88.6 288.8,89.4 289.4,90.3 289.7,91.3 290.0,92.5 290.0,95.0 289.3,97.8 288.2,100.0 287.4,101.0 286.6,101.9 285.8,102.4 284.8,102.8ZM268.3,128.8 266.3,129.0 264.6,128.8 263.1,128.4 261.6,127.6 260.5,126.5 259.7,125.3 259.3,124.0 259.3,122.5 259.7,121.0 260.4,119.8 261.6,118.5 263.1,117.3 264.8,116.4 266.6,115.9 268.3,115.7 270.1,115.8 271.3,116.0 272.3,116.4 273.4,117.0 274.2,117.8 274.8,118.8 275.2,119.8 275.4,120.8 275.3,122.0 275.0,123.3 274.6,124.3 274.0,125.3 273.1,126.3 272.1,127.2 270.8,127.9 269.6,128.5 268.3,128.8Z" fill="#d0ff00" fill-rule="evenodd"/>
<path d="M284.6,102.1 283.6,102.2 282.6,102.0 281.6,101.4 280.8,100.6 280.2,99.5 279.8,98.2 279.6,96.8 279.7,95.3 280.0,93.8 280.4,92.5 281.1,91.3 281.7,90.5 283.1,89.4 284.1,88.8 285.1,88.4 286.3,88.3 287.1,88.5 287.8,89.0 288.6,89.8 289.0,90.5 289.6,92.5 289.6,95.0 288.9,97.5 287.8,99.7 286.3,101.2 285.6,101.7 284.6,102.1ZM268.1,128.3 266.3,128.5 264.8,128.3 263.3,127.9 262.1,127.2 261.1,126.3 260.3,125.0 259.9,123.8 259.9,122.3 260.4,120.8 261.2,119.5 262.3,118.4 263.6,117.5 265.1,116.7 266.8,116.2 268.6,116.1 270.1,116.2 271.3,116.5 272.3,116.9 273.2,117.5 273.8,118.2 274.3,119.0 274.7,120.0 274.9,121.0 274.8,122.0 274.5,123.3 274.0,124.3 272.6,126.1 270.6,127.5 269.3,128.0 268.1,128.3Z" fill="#efff00" fill-rule="evenodd"/>
<path d="M284.6,101.4 283.6,101.4 282.6,101.2 281.8,100.7 281.1,99.9 280.6,99.0 280.2,97.8 280.0,96.5 280.1,95.3 280.3,94.0 280.7,92.8 281.4,91.5 282.1,90.5 283.1,89.7 284.2,89.0 285.1,88.8 286.1,88.7 286.8,88.9 287.6,89.4 288.2,90.0 288.7,90.8 289.2,92.5 289.2,94.8 288.7,97.0 287.6,99.1 286.1,100.7 284.6,101.4ZM268.1,127.8 266.6,128.0 265.1,127.8 263.8,127.5 262.5,126.8 261.6,125.9 260.9,124.8 260.5,123.5 260.5,122.3 260.9,121.0 261.6,119.8 262.4,118.8 263.6,117.9 265.1,117.1 266.6,116.7 268.1,116.5 269.6,116.5 271.6,117.1 272.4,117.5 273.2,118.3 273.7,119.0 274.2,120.0 274.3,121.0 274.3,122.0 274.0,123.0 273.6,124.0 272.9,125.0 272.2,125.8 270.3,127.1 268.1,127.8Z" fill="#ffef00" fill-rule="evenodd"/>
<path d="M284.8,100.6 283.8,100.8 283.1,100.7 282.3,100.3 281.6,99.7 281.0,98.8 280.6,97.8 280.4,96.5 280.4,95.3 280.7,94.0 281.1,92.9 281.6,91.8 282.3,90.9 283.1,90.1 284.1,89.5 285.1,89.2 285.8,89.2 287.1,89.6 287.6,90.0 288.2,90.8 288.8,92.5 288.8,94.5 288.4,96.5 287.6,98.3 286.3,99.8 284.8,100.6ZM268.1,127.3 266.6,127.5 265.3,127.4 264.1,127.0 262.8,126.3 262.0,125.5 261.4,124.5 261.1,123.5 261.1,122.3 261.4,121.0 261.9,120.0 262.8,119.0 263.8,118.2 265.1,117.5 266.6,117.0 268.1,116.8 269.3,116.9 271.3,117.5 272.1,117.9 272.8,118.5 273.3,119.3 273.6,120.0 273.8,120.8 273.8,121.8 273.3,123.5 272.7,124.5 272.0,125.3 270.3,126.6 269.3,127.0 268.1,127.3Z" fill="#ffd000" fill-rule="evenodd"/>
<path d="M284.6,100.1 283.8,100.1 283.1,100.0 282.3,99.6 281.7,99.0 281.3,98.3 280.9,97.3 280.8,96.3 280.8,95.0 281.1,93.8 281.5,92.8 282.6,91.0 284.1,90.0 285.1,89.7 285.8,89.7 286.6,89.9 287.1,90.2 288.0,91.3 288.4,92.8 288.5,94.5 288.0,96.5 287.1,98.2 285.8,99.5 284.6,100.1ZM268.3,126.8 267.1,127.0 265.8,126.9 264.6,126.6 263.6,126.1 262.8,125.5 262.1,124.6 261.7,123.8 261.6,122.8 261.7,121.8 262.0,120.8 262.7,119.8 263.6,118.9 264.6,118.2 265.8,117.6 267.1,117.3 268.3,117.2 270.3,117.5 271.8,118.3 272.9,119.5 273.2,120.3 273.3,121.3 273.0,123.0 272.5,124.0 271.9,124.8 270.3,126.0 268.3,126.8Z" fill="#ffb000" fill-rule="evenodd"/>
<path d="M284.8,99.4 284.1,99.5 283.3,99.4 282.6,99.1 282.1,98.6 281.6,97.8 281.3,97.0 281.2,95.3 281.6,93.3 282.7,91.5 283.3,90.9 284.1,90.4 284.8,90.2 285.6,90.1 286.7,90.5 287.6,91.5 288.0,92.8 288.1,94.3 287.7,96.0 287.1,97.5 286.1,98.6 284.8,99.4ZM268.3,126.4 267.1,126.5 266.1,126.5 265.1,126.3 264.1,125.8 263.3,125.3 262.7,124.5 262.3,123.8 262.1,122.8 262.2,121.8 262.6,120.8 263.0,120.0 263.8,119.2 264.8,118.5 265.8,118.0 266.8,117.7 268.1,117.6 269.8,117.8 271.4,118.5 271.9,119.0 272.4,119.8 272.8,121.3 272.7,122.3 272.5,123.0 271.6,124.5 270.1,125.7 268.3,126.4Z" fill="#ff9000" fill-rule="evenodd"/>
<path d="M284.6,98.8 283.8,98.9 283.3,98.8 282.3,98.0 281.9,97.3 281.7,96.5 281.6,94.8 282.1,93.0 283.1,91.7 284.3,90.8 285.6,90.6 286.6,91.0 287.3,92.0 287.6,93.0 287.7,94.5 287.3,96.0 286.6,97.4 285.6,98.4 284.6,98.8ZM266.8,126.1 265.8,125.9 264.8,125.6 263.9,125.0 263.3,124.4 262.8,123.5 262.7,122.8 262.7,121.8 263.0,121.0 263.4,120.3 264.1,119.5 265.1,118.8 266.1,118.4 267.3,118.0 268.3,118.0 269.3,118.1 270.3,118.4 271.5,119.3 272.1,120.3 272.3,121.5 271.9,123.0 271.1,124.3 269.8,125.3 268.3,125.9 266.8,126.1Z" fill="#ff7000" fill-rule="evenodd"/>
<path d="M284.8,98.1 283.8,98.3 283.3,98.1 282.8,97.7 282.1,96.5 282.0,95.0 282.3,93.5 283.1,92.3 284.1,91.5 284.6,91.2 285.3,91.1 286.1,91.3 286.8,92.1 287.2,93.0 287.3,94.3 287.0,95.5 286.6,96.6 285.8,97.5 284.8,98.1ZM267.3,125.6 265.6,125.3 264.8,125.0 264.1,124.4 263.6,123.8 263.3,123.0 263.2,122.3 263.3,121.5 263.7,120.8 264.2,120.0 265.6,119.0 267.3,118.5 268.3,118.4 269.3,118.6 270.6,119.2 271.4,120.0 271.7,121.0 271.7,122.3 271.1,123.5 270.1,124.5 268.8,125.2 267.3,125.6Z" fill="#ff5000" fill-rule="evenodd"/>
<path d="M284.6,97.6 283.8,97.6 283.0,97.0 282.5,96.0 282.5,94.8 282.8,93.5 283.6,92.5 284.3,91.9 285.3,91.7 286.1,92.1 286.6,92.7 286.8,93.5 286.8,94.5 286.5,95.5 286.1,96.4 285.3,97.2 284.6,97.6ZM267.3,125.1 265.8,124.9 265.1,124.5 264.5,124.0 264.1,123.5 263.8,122.8 263.9,121.5 264.6,120.3 266.1,119.3 267.8,118.9 269.3,119.1 270.3,119.6 271.0,120.5 271.2,121.5 271.1,122.5 270.4,123.5 269.6,124.3 268.6,124.8 267.3,125.1Z" fill="#ff3400" fill-rule="evenodd"/>
<path d="M284.3,96.8 283.8,96.7 283.3,96.2 283.0,95.5 283.1,94.5 283.4,93.5 284.0,92.8 284.6,92.5 285.3,92.5 285.8,92.8 286.1,93.3 286.3,94.0 286.2,94.8 285.6,96.1 285.1,96.6 284.3,96.8ZM268.3,124.3 267.1,124.5 266.0,124.3 265.1,123.7 264.5,122.8 264.5,121.8 264.9,120.8 265.7,120.0 266.8,119.5 268.1,119.3 269.1,119.5 270.1,120.2 270.5,121.0 270.6,122.0 270.1,123.0 269.3,123.8 268.3,124.3Z" fill="#ff1c00" fill-rule="evenodd"/>
<path d="M284.8,95.6 284.3,95.7 284.1,95.5 283.8,94.8 284.1,94.0 284.5,93.5 284.8,93.5 285.3,93.7 285.5,94.3 285.3,95.0 284.8,95.6ZM267.8,123.8 266.8,123.8 266.0,123.5 265.3,122.8 265.2,122.0 265.4,121.3 266.0,120.5 266.8,120.1 267.8,119.9 268.6,120.0 269.3,120.4 269.8,121.0 269.9,121.5 269.7,122.3 269.3,123.0 268.6,123.5 267.8,123.8Z" fill="#ff1000" fill-rule="evenodd"/>
</g>
<rect x="228.8" y="130.0" width="29.6" height="22.3" fill="#fdfdff" fill-opacity="0.86"/>
</g>
<path d="M276.4,38.3 V152.3 M228.8,110.7 H364.2" stroke="#000" stroke-width="2" fill="none"/>
<rect x="228.8" y="38.3" width="135.4" height="114.0" fill="none" stroke="#222" stroke-width="1.3"/>
<text x="231.4" y="53.8" font-size="11.6" font-weight="bold" textLength="23.4" lengthAdjust="spacingAndGlyphs">3.73</text>
<text x="357.7" y="53.8" font-size="11.6" text-anchor="end" font-weight="bold" textLength="23.6" lengthAdjust="spacingAndGlyphs">33.7</text>
<text x="231.1" y="143.6" font-size="11.6" font-weight="bold" textLength="24.0" lengthAdjust="spacingAndGlyphs">42.4</text>
<text x="358.0" y="143.6" font-size="11.6" text-anchor="end" font-weight="bold" textLength="23.4" lengthAdjust="spacingAndGlyphs">20.1</text>
<g clip-path="url(#cb3)">
<path d="M445.4,155.3 430.9,155.3 431.1,155.1 431.1,154.1 431.3,153.8 431.3,148.6 431.1,148.3 431.1,145.8 430.8,145.6 430.8,144.3 430.6,144.1 430.6,143.6 430.3,143.3 430.3,142.8 429.8,142.1 429.8,141.8 429.3,141.3 429.3,141.1 428.9,140.6 428.6,140.6 427.9,140.1 426.9,140.1 425.6,141.3 425.6,141.6 425.1,142.3 425.1,142.8 424.6,143.6 424.6,144.3 424.4,144.6 424.4,145.6 424.1,145.8 424.1,147.8 423.9,148.1 423.9,154.8 424.1,155.1 424.1,155.3 372.6,155.3 372.6,117.8 372.9,117.8 373.1,118.0 376.4,118.0 376.6,118.3 379.6,118.3 379.9,118.5 382.9,118.5 383.1,118.8 386.6,118.8 386.9,119.0 389.4,119.0 389.6,119.3 390.4,119.3 390.6,119.0 391.9,119.0 392.1,118.8 392.6,118.8 393.9,118.0 394.1,118.0 394.4,117.8 394.6,117.8 395.1,117.3 395.4,117.3 396.1,116.5 396.4,116.5 396.9,116.0 397.1,116.0 397.9,115.3 398.1,115.3 398.9,114.5 399.6,114.3 400.1,113.8 400.4,113.8 401.1,113.3 401.4,113.3 401.6,113.0 402.4,112.8 402.9,112.3 403.1,112.3 404.8,110.5 404.8,110.3 405.3,109.8 405.6,109.0 405.8,108.8 405.8,108.5 406.1,108.3 406.1,107.8 406.8,106.5 406.8,106.0 407.3,105.3 407.6,104.5 408.6,103.3 408.6,103.0 409.6,101.8 409.6,101.5 410.6,100.5 410.6,100.3 411.3,99.5 411.3,99.3 412.3,98.3 412.3,98.0 413.8,96.3 413.8,96.0 414.3,95.5 414.3,95.3 414.8,94.8 414.8,94.5 415.6,93.8 415.6,93.5 416.1,93.0 416.1,92.8 416.8,92.0 416.8,91.8 420.4,88.3 420.6,88.3 421.9,87.3 422.1,87.3 422.9,86.8 423.4,86.8 424.1,86.3 424.9,86.3 425.1,86.0 425.9,86.0 426.1,85.8 427.9,85.8 428.1,85.5 429.9,85.5 430.1,85.8 431.4,85.8 431.6,86.0 432.4,86.0 432.6,86.3 433.1,86.3 433.4,86.5 433.9,86.5 435.1,87.3 435.6,87.3 435.9,87.5 436.1,87.5 436.6,88.0 437.4,88.3 437.6,88.5 437.9,88.5 438.6,89.3 438.9,89.3 439.9,90.3 439.9,90.5 440.4,91.0 440.6,91.8 440.9,92.0 440.9,93.3 440.6,93.5 440.6,94.8 440.4,95.0 440.4,95.5 440.9,96.3 440.9,96.5 442.1,97.5 442.4,97.5 442.9,98.0 443.1,98.0 443.6,98.5 444.4,98.8 444.9,99.3 444.9,99.5 445.1,99.8 444.4,100.6 443.6,100.8 442.4,102.0 442.4,102.5 442.1,102.8 442.1,103.5 441.9,103.8 441.9,105.0 441.6,105.3 441.6,111.8 441.9,112.0 441.9,113.3 442.1,113.5 442.1,115.0 442.4,115.3 442.4,119.0 442.1,119.3 442.1,120.3 441.9,120.5 441.9,121.3 441.6,121.5 441.6,122.3 441.4,122.5 441.4,123.3 441.1,123.5 441.1,124.3 440.9,124.5 440.9,125.8 440.6,126.0 440.6,128.3 440.9,128.6 440.9,130.1 441.1,130.3 441.1,131.8 441.4,132.1 441.4,134.1 441.6,134.3 441.6,135.1 441.4,135.3 441.4,136.6 441.1,136.8 441.1,137.6 440.9,137.8 440.9,138.3 440.4,139.1 440.4,139.6 440.1,139.8 440.1,140.6 439.9,140.8 439.9,143.1 440.4,143.8 440.4,144.1 440.9,144.6 440.9,144.8 441.1,145.1 441.1,145.6 441.4,145.8 441.4,147.1 441.6,147.3 441.6,147.8 442.1,148.6 442.1,148.8 442.6,149.3 442.6,149.6 443.4,150.3 443.4,150.6 444.1,151.3 444.1,151.6 444.6,152.1 444.9,152.8 445.4,153.6 445.4,155.3ZM433.3,138.6 434.1,137.8 434.1,137.1 433.6,136.6 433.4,136.6 433.1,136.3 432.6,136.3 431.9,136.8 431.9,137.3 432.1,137.6 432.1,137.8 433.1,138.8 433.3,138.6Z" fill="#0a10d0" fill-rule="evenodd" filter="url(#bl2)"/>
<g filter="url(#bl)">
<path d="M422.1,155.3 372.6,155.3 372.6,120.9 375.4,120.7 376.4,120.8 378.6,120.6 379.6,120.7 382.1,120.5 382.9,120.6 385.9,120.4 386.6,120.6 388.6,120.5 389.4,120.6 390.4,120.6 392.1,120.3 393.1,119.9 395.4,118.8 397.9,117.0 399.6,115.6 403.9,113.0 405.6,111.3 407.1,108.8 408.7,105.3 410.7,102.3 413.9,98.0 415.8,95.0 417.7,92.3 420.6,89.3 422.4,88.1 424.6,87.1 426.6,86.6 427.9,86.6 428.6,86.4 429.4,86.5 429.9,86.7 430.9,86.8 431.9,87.1 433.4,87.7 435.4,88.7 437.1,89.8 438.2,90.8 439.2,92.5 439.0,95.0 439.2,96.3 439.9,97.7 441.9,99.8 440.9,101.3 440.1,105.0 439.7,112.0 440.1,116.3 440.0,118.0 438.1,126.0 437.9,128.6 438.0,132.3 438.2,133.1 438.2,134.8 437.7,137.1 437.4,138.0 437.2,136.6 436.9,135.8 436.4,135.1 435.6,134.5 433.9,133.9 432.4,134.1 430.9,134.9 430.2,135.8 429.9,136.6 429.9,137.6 430.2,138.8 430.1,138.9 428.4,138.4 426.6,138.6 425.9,139.0 424.8,140.3 423.5,143.1 422.9,145.6 422.8,147.1 422.6,148.1 422.1,155.3ZM436.9,139.8 436.7,139.6 436.9,139.4 436.9,139.8ZM441.6,155.3 434.4,155.3 434.6,153.8 434.4,148.3 434.1,147.3 434.0,145.6 433.7,144.6 433.6,143.8 432.6,141.6 432.9,141.4 433.9,141.5 434.6,141.3 435.4,140.9 436.6,139.7 436.8,139.8 436.7,143.1 436.8,144.3 437.9,146.5 438.1,148.1 438.5,149.3 439.2,150.8 441.6,154.3 441.8,154.8 441.8,155.3 441.6,155.3Z" fill="#0222f5" fill-rule="evenodd"/>
<path d="M420.9,155.3 389.6,155.3 388.2,151.8 387.0,148.1 386.0,143.8 385.1,138.3 384.4,136.3 383.4,135.1 382.0,134.1 375.4,131.1 372.6,129.6 372.6,123.1 375.1,122.5 381.9,121.7 382.9,121.7 385.6,121.4 386.6,121.5 390.6,121.4 393.4,120.7 395.9,119.4 398.4,117.6 400.0,116.3 404.3,113.5 406.1,111.8 407.7,109.3 409.4,105.8 411.5,102.5 415.1,97.5 417.6,93.5 418.4,92.5 420.9,89.8 422.6,88.6 424.6,87.7 426.9,87.2 428.1,87.2 429.1,87.1 431.6,87.8 433.1,88.4 434.9,89.3 436.6,90.6 437.6,91.5 438.3,92.5 438.2,95.0 438.3,96.3 439.1,98.2 440.5,99.8 439.7,102.0 439.2,105.0 438.6,112.0 438.8,116.5 438.7,117.8 436.8,125.8 436.3,128.8 436.0,131.8 435.9,132.0 433.4,132.3 432.1,132.7 431.1,133.2 430.1,133.9 429.4,134.8 429.0,135.8 428.7,137.1 426.6,137.6 425.9,137.9 425.1,138.6 423.9,140.2 422.8,142.8 422.1,145.6 420.9,155.3Z" fill="#0033ff" fill-rule="evenodd"/>
<path d="M419.9,155.3 396.0,155.3 393.9,151.6 392.2,147.3 391.0,143.1 389.8,136.8 389.4,135.6 388.9,134.6 387.9,133.3 386.6,132.4 380.2,129.6 377.9,128.1 377.0,127.3 376.3,126.3 376.0,125.5 376.0,124.5 376.7,124.0 378.1,123.4 381.6,122.7 382.9,122.6 385.4,122.2 390.4,122.1 392.4,121.6 393.9,121.1 395.9,120.0 397.1,119.3 400.4,116.8 404.5,114.0 406.6,112.0 408.3,109.5 410.0,106.0 414.2,99.8 418.0,93.8 418.7,92.8 421.4,90.1 422.9,89.0 424.9,88.1 426.9,87.7 429.1,87.6 431.6,88.4 434.6,89.9 436.1,91.0 437.1,92.0 437.6,92.8 437.5,94.8 437.6,96.3 438.4,98.3 439.6,100.0 439.0,101.8 438.4,105.0 437.8,112.0 437.7,117.8 437.2,120.8 436.2,124.5 435.3,127.8 434.4,130.1 433.7,130.6 431.1,131.9 429.8,132.8 428.6,134.3 427.9,136.1 426.4,136.7 425.4,137.3 424.6,138.1 423.4,139.8 422.2,142.6 421.6,145.3 419.9,155.3Z" fill="#0049ff" fill-rule="evenodd"/>
<path d="M418.9,155.3 399.9,155.3 398.5,153.6 397.2,151.6 396.1,149.6 395.1,147.3 393.6,142.8 392.1,135.6 391.8,134.6 391.2,133.6 390.3,132.6 389.0,131.6 383.2,128.8 381.4,127.7 380.6,127.0 380.0,126.3 379.7,125.5 379.7,124.8 380.3,124.3 381.6,123.8 385.4,123.0 390.6,122.6 392.6,122.1 393.9,121.7 396.1,120.5 397.3,119.8 400.6,117.2 404.9,114.4 406.9,112.5 407.8,111.3 408.9,109.5 410.4,106.5 412.5,103.3 414.6,100.1 418.4,94.1 419.8,92.3 421.6,90.4 423.6,89.1 424.9,88.6 426.9,88.1 429.1,88.1 431.4,88.8 432.9,89.5 434.4,90.4 435.8,91.5 436.8,92.5 437.0,93.0 436.9,94.8 437.1,96.5 437.9,98.5 438.7,100.0 438.8,100.3 437.9,104.8 437.0,112.0 437.0,116.8 436.7,118.8 436.2,121.8 435.5,124.3 434.4,127.3 431.9,130.1 430.1,131.3 428.9,132.4 428.0,133.6 427.2,135.3 425.9,136.1 424.9,136.9 422.9,139.6 421.6,142.8 419.7,152.1 418.9,155.3Z" fill="#0061ff" fill-rule="evenodd"/>
<path d="M417.6,155.3 403.4,155.3 402.6,154.6 401.1,153.2 399.6,151.3 398.2,149.1 397.1,146.8 396.2,144.6 395.4,142.1 393.9,135.1 393.0,133.1 391.9,131.8 390.6,130.8 385.7,128.3 384.1,127.3 383.1,126.3 382.8,125.8 382.6,125.0 383.6,124.4 385.1,123.8 388.1,123.4 390.6,123.2 392.9,122.6 394.1,122.1 397.4,120.3 400.9,117.6 405.1,114.7 407.1,112.8 408.4,111.3 409.3,109.8 411.0,106.8 417.4,96.3 419.4,93.3 420.3,92.3 421.9,90.6 423.9,89.3 425.1,88.8 427.1,88.4 429.1,88.5 430.4,88.8 432.6,89.8 434.1,90.8 435.6,92.0 436.3,92.8 436.5,93.5 436.4,94.8 436.6,96.5 437.4,98.8 438.1,100.3 437.3,104.8 436.3,112.0 436.1,117.5 435.7,120.5 434.8,124.3 433.8,126.0 432.4,127.7 428.7,130.8 427.5,132.6 426.6,134.5 424.4,136.5 422.6,139.1 421.2,142.6 420.4,146.6 419.0,151.8 418.4,153.8 417.6,155.3Z" fill="#007bff" fill-rule="evenodd"/>
<path d="M412.9,155.3 408.4,155.3 407.1,154.9 405.9,154.4 404.5,153.6 403.4,152.6 402.1,151.4 401.0,150.1 399.9,148.4 398.0,144.8 396.8,141.1 395.4,134.7 394.4,132.6 393.4,131.3 392.2,130.3 386.6,127.0 385.6,126.0 385.4,125.2 385.4,125.0 385.9,124.8 387.3,124.3 390.9,123.7 392.9,123.1 394.6,122.4 397.8,120.5 402.3,117.0 405.4,115.0 407.7,112.8 409.8,110.0 417.8,96.3 419.6,93.5 420.7,92.3 422.1,90.9 423.9,89.7 425.1,89.2 427.1,88.8 429.1,88.8 430.4,89.2 432.6,90.3 434.0,91.3 435.8,93.0 435.9,93.3 436.0,95.0 436.2,96.8 437.6,100.5 435.2,114.0 435.0,119.5 434.7,121.8 433.9,124.0 432.6,126.0 431.1,127.3 427.9,129.3 426.9,130.3 426.2,131.8 425.6,134.1 423.9,136.1 422.3,138.6 421.4,140.6 420.9,142.3 420.0,146.6 419.0,149.8 418.4,151.6 417.6,153.0 415.4,154.4 412.9,155.3Z" fill="#0097ff" fill-rule="evenodd"/>
<path d="M412.9,153.6 411.6,153.7 410.1,153.7 408.6,153.5 407.4,153.0 406.1,152.4 404.9,151.6 402.6,149.6 400.6,146.8 399.1,143.6 397.9,140.1 396.6,134.3 395.6,132.1 394.9,131.0 393.6,129.9 389.0,126.8 388.3,126.0 388.0,125.3 393.4,123.4 396.9,121.7 405.8,115.0 408.0,113.0 410.2,110.3 412.8,106.0 418.1,96.5 419.9,93.8 421.1,92.3 422.1,91.2 422.9,90.7 423.9,90.0 425.1,89.5 427.1,89.1 429.1,89.2 431.1,89.9 432.4,90.6 433.9,91.8 435.3,93.3 435.8,96.8 437.0,100.5 435.7,108.0 435.4,109.4 434.5,111.8 434.1,113.3 434.0,115.0 434.2,119.3 433.8,121.8 433.0,123.8 432.4,124.8 431.6,125.6 430.1,126.6 426.8,128.1 426.2,128.6 425.6,129.2 424.9,131.1 424.2,134.3 421.9,138.3 421.1,140.3 420.5,142.3 419.6,146.6 418.1,150.5 417.6,151.4 416.1,152.4 414.4,153.2 412.9,153.6Z" fill="#00b4ff" fill-rule="evenodd"/>
<path d="M412.9,152.3 411.6,152.4 410.4,152.4 409.1,152.1 407.9,151.7 405.5,150.3 403.4,148.2 401.5,145.6 400.0,142.6 399.0,139.6 397.7,134.1 396.8,131.8 395.4,129.9 391.4,126.8 390.8,126.0 390.5,125.5 392.1,124.5 394.9,123.3 398.4,121.2 402.6,117.7 405.9,115.4 409.2,112.3 410.6,110.5 412.0,108.5 419.4,95.0 420.2,93.8 422.4,91.4 423.9,90.3 425.4,89.7 427.1,89.4 429.1,89.5 430.4,89.9 432.1,90.9 433.6,92.1 434.9,93.5 435.3,96.8 436.4,100.8 435.4,106.6 433.5,111.0 433.1,112.8 433.0,114.8 433.3,119.0 433.1,121.5 432.7,122.5 432.2,123.5 430.9,124.9 429.1,125.8 425.9,126.5 425.4,126.9 424.7,127.5 424.2,128.6 423.8,129.8 422.9,135.1 421.4,138.1 420.9,139.6 420.2,142.1 419.2,146.3 418.1,149.3 417.6,150.1 416.1,151.2 414.6,151.9 412.9,152.3Z" fill="#00cefc" fill-rule="evenodd"/>
<path d="M413.1,151.3 411.9,151.4 410.6,151.3 408.4,150.7 406.1,149.3 405.0,148.3 404.0,147.1 402.3,144.6 400.9,141.6 400.0,138.8 398.8,133.8 398.0,131.8 396.6,129.7 393.4,126.5 393.0,125.8 392.9,125.3 393.8,124.5 398.5,121.5 402.9,118.0 405.9,115.8 408.5,113.5 411.1,110.8 413.4,107.8 415.9,102.3 419.6,95.3 420.4,94.0 422.4,91.7 423.9,90.5 425.4,89.9 427.4,89.6 429.1,89.8 430.9,90.5 432.1,91.3 433.4,92.5 434.4,93.7 435.6,100.0 435.4,102.5 434.9,105.0 434.1,107.2 432.4,111.0 431.9,112.8 431.8,114.5 432.5,119.0 432.2,121.3 431.9,122.3 431.4,123.1 430.6,123.8 429.9,124.3 429.1,124.6 428.1,124.7 425.1,124.6 424.4,124.9 423.9,125.5 423.4,126.8 422.9,128.6 421.6,136.3 420.3,139.8 418.9,146.3 418.4,147.6 417.6,149.1 416.6,149.9 414.9,150.9 413.1,151.3Z" fill="#00e5f8" fill-rule="evenodd"/>
<path d="M413.4,150.6 412.1,150.7 410.9,150.6 409.6,150.2 408.6,149.8 406.6,148.4 404.7,146.3 403.2,143.8 401.8,140.8 401.0,138.3 399.8,133.6 399.1,131.7 398.0,129.8 395.4,126.5 395.1,125.8 395.1,125.0 395.5,124.3 398.9,121.9 403.0,118.3 406.4,115.8 411.6,111.3 413.6,110.3 414.5,109.5 415.0,108.8 415.3,107.8 415.8,104.0 417.0,101.0 419.9,95.3 420.7,94.0 422.6,91.8 424.1,90.7 425.4,90.2 427.4,89.9 429.1,90.1 430.1,90.5 431.8,91.5 433.1,92.8 433.6,93.5 434.1,94.8 434.8,98.8 434.7,101.8 434.1,104.8 433.1,107.2 431.0,111.3 430.4,113.0 430.4,114.8 431.4,118.8 431.5,119.8 431.3,120.8 430.9,121.8 430.4,122.5 429.6,123.0 428.6,123.3 427.6,123.1 426.8,122.8 424.1,120.8 423.6,120.9 423.4,121.2 423.0,122.3 422.6,124.0 420.4,137.8 418.5,146.3 417.6,148.2 416.9,148.9 415.1,150.0 413.4,150.6Z" fill="#00f4e0" fill-rule="evenodd"/>
<path d="M413.9,149.8 412.9,150.0 411.6,150.0 410.4,149.7 409.4,149.4 408.4,148.8 407.3,148.1 405.6,146.1 404.5,144.1 403.2,141.3 402.1,138.3 400.2,132.1 399.3,130.1 397.3,126.8 396.9,125.8 397.0,125.0 397.3,124.3 398.1,123.3 402.2,119.5 410.9,112.6 411.9,112.3 415.4,111.6 416.5,111.0 417.0,110.3 417.1,109.3 416.9,102.8 417.8,100.3 420.1,95.5 420.8,94.3 422.5,92.3 424.4,90.9 425.6,90.4 426.6,90.2 427.4,90.1 428.9,90.3 430.1,90.8 431.6,91.8 432.7,93.0 433.2,94.0 433.8,96.3 434.1,98.5 434.1,101.0 433.7,103.3 432.9,105.5 431.9,107.7 428.4,112.9 427.4,114.1 426.9,114.4 426.4,114.4 423.9,114.1 422.4,114.1 421.4,114.4 420.9,115.0 420.7,116.5 421.4,122.3 421.4,125.5 420.8,130.3 419.6,137.0 419.4,139.8 418.8,144.1 418.1,146.3 417.4,147.6 415.9,149.0 414.9,149.5 413.9,149.8ZM429.1,121.1 428.4,121.1 427.9,120.8 427.4,120.3 427.1,119.5 427.0,118.8 427.1,117.8 427.4,117.0 427.9,116.7 428.4,116.7 429.1,117.3 429.9,118.7 430.0,119.5 429.9,120.2 429.6,120.7 429.1,121.1Z" fill="#00fbb5" fill-rule="evenodd"/>
<path d="M426.1,111.6 424.4,111.8 422.4,111.5 420.9,110.8 419.9,110.0 419.0,108.5 418.3,106.5 418.0,104.0 417.9,101.5 418.8,99.0 420.0,96.3 421.0,94.5 422.1,93.0 422.9,92.2 424.4,91.1 425.6,90.6 427.4,90.4 428.9,90.6 429.9,91.0 431.1,91.8 432.0,92.8 432.7,94.5 433.2,96.3 433.5,98.0 433.5,100.0 433.2,102.0 432.8,103.8 432.1,105.5 431.3,107.0 430.1,108.7 428.6,110.2 427.4,111.1 426.1,111.6ZM413.6,149.3 411.6,149.4 409.6,148.8 407.8,147.6 406.4,145.8 405.5,144.3 404.7,142.3 403.0,137.8 401.3,132.3 400.4,130.3 398.8,127.0 398.4,125.5 398.7,124.5 399.4,123.3 402.5,119.8 403.8,118.5 407.9,115.3 410.1,113.8 411.4,113.4 413.1,113.2 414.9,113.3 416.4,113.7 417.4,114.4 418.4,115.5 419.3,117.3 420.0,119.5 420.4,121.8 420.6,124.3 420.5,126.8 420.2,129.3 418.7,136.8 418.6,138.3 418.7,141.8 418.5,143.8 418.1,145.3 417.6,146.6 416.4,147.9 415.1,148.8 413.6,149.3Z" fill="#08ff88" fill-rule="evenodd"/>
<path d="M425.6,110.1 424.1,110.1 422.6,109.6 421.4,108.9 420.4,107.8 419.6,106.3 419.1,104.5 418.8,102.5 418.8,100.3 419.4,98.5 420.6,95.8 421.3,94.5 422.9,92.5 424.6,91.2 425.6,90.8 427.6,90.6 428.9,90.8 429.9,91.3 430.9,92.0 431.5,92.8 432.2,94.5 432.7,96.5 432.9,98.5 432.9,100.5 432.6,102.3 432.0,104.0 431.3,105.5 430.4,107.0 429.4,108.1 428.1,109.1 426.9,109.8 425.6,110.1ZM413.6,148.8 412.6,148.9 411.6,148.9 409.9,148.3 408.4,147.3 407.0,145.6 406.1,143.6 404.8,139.8 402.1,132.1 400.0,127.3 399.7,125.8 399.8,124.8 400.4,123.5 403.8,119.0 407.6,116.0 409.4,114.7 410.4,114.3 412.1,114.1 413.6,114.2 415.1,114.6 416.4,115.3 417.4,116.3 418.4,117.8 419.2,119.8 419.7,121.8 419.9,124.0 419.9,126.5 419.6,129.1 417.9,136.8 417.8,138.3 418.3,142.1 418.1,144.1 417.5,145.8 416.6,147.1 415.4,148.1 413.6,148.8Z" fill="#18ff58" fill-rule="evenodd"/>
<path d="M426.6,108.6 425.1,108.8 423.6,108.5 422.4,107.8 421.4,106.9 420.5,105.5 420.0,104.0 419.6,102.0 419.6,100.0 419.8,98.5 420.8,96.0 421.4,94.8 422.7,93.0 423.4,92.4 424.6,91.5 425.9,91.0 427.4,90.8 429.2,91.3 430.4,92.0 430.9,92.7 431.5,94.0 432.1,95.8 432.4,97.5 432.4,99.3 432.3,101.0 431.9,102.5 431.4,104.0 430.6,105.3 429.9,106.4 428.9,107.4 427.9,108.1 426.6,108.6ZM413.6,148.4 411.9,148.4 410.1,147.9 408.6,146.8 407.5,145.3 406.7,143.3 405.5,138.6 401.2,128.1 400.7,126.0 400.9,124.8 401.5,123.3 403.0,121.0 404.9,118.5 407.6,116.4 408.9,115.5 410.1,115.1 411.6,114.8 413.1,114.9 414.6,115.3 415.9,116.0 416.9,117.0 417.9,118.4 418.6,120.0 419.1,122.0 419.4,124.0 419.3,126.5 419.0,129.1 418.4,131.6 417.2,135.3 417.0,136.6 417.0,138.1 417.7,142.1 417.6,144.3 417.0,145.8 416.1,147.0 414.9,147.9 413.6,148.4Z" fill="#30ff30" fill-rule="evenodd"/>
<path d="M426.6,107.6 425.4,107.7 424.1,107.4 422.9,106.8 421.9,105.8 421.1,104.5 420.6,103.0 420.3,101.3 420.2,99.3 420.4,98.0 421.0,96.3 421.7,94.8 423.0,93.0 423.9,92.3 424.9,91.6 425.9,91.3 427.4,91.1 428.6,91.3 429.4,91.7 429.9,92.0 430.6,93.1 431.3,94.5 431.7,96.0 431.9,97.5 432.0,99.3 431.5,102.0 431.0,103.3 430.4,104.6 429.6,105.6 428.6,106.5 427.6,107.2 426.6,107.6ZM413.9,147.8 412.1,148.0 410.6,147.6 409.1,146.6 408.1,145.3 407.7,144.3 407.3,143.1 406.8,139.6 406.5,138.1 402.5,129.3 401.9,127.5 401.6,126.3 401.7,124.8 402.3,123.3 403.6,121.0 405.4,118.8 406.7,117.5 408.4,116.4 409.9,115.8 411.4,115.5 412.9,115.5 414.1,115.9 415.4,116.6 416.4,117.5 417.3,118.8 418.0,120.3 418.5,122.0 418.8,124.0 418.8,126.5 418.4,129.1 417.8,131.6 416.4,135.3 416.1,136.6 416.2,138.1 417.2,141.8 417.3,143.1 417.2,144.1 416.8,145.3 415.9,146.6 415.0,147.3 413.9,147.8Z" fill="#50ff10" fill-rule="evenodd"/>
<path d="M426.9,106.6 425.6,106.7 424.4,106.5 423.4,105.9 422.5,105.0 421.7,103.8 421.2,102.5 420.9,100.8 420.8,99.0 421.0,97.3 421.3,96.3 421.9,95.0 423.1,93.3 423.9,92.5 424.9,91.9 425.9,91.5 427.4,91.3 428.4,91.5 429.1,91.9 429.6,92.3 430.3,93.3 430.9,94.5 431.3,95.8 431.5,97.3 431.6,98.8 431.1,101.5 430.2,103.8 429.5,104.8 428.6,105.6 427.9,106.2 426.9,106.6ZM413.1,147.6 411.6,147.5 410.4,146.9 409.3,146.1 408.5,144.8 408.1,143.8 407.8,142.6 407.8,139.1 407.6,137.8 407.2,136.8 405.1,133.2 403.7,130.3 402.7,127.8 402.4,126.0 402.5,124.5 403.2,122.8 404.4,120.8 405.8,119.0 407.1,117.8 408.4,117.0 409.9,116.3 411.4,116.1 412.6,116.1 413.9,116.5 415.1,117.2 416.1,118.1 416.9,119.3 417.6,120.8 418.1,122.5 418.4,124.3 418.3,126.8 417.8,129.3 417.0,131.8 415.4,135.3 415.1,136.6 415.3,137.8 416.4,140.3 416.7,141.6 416.9,142.8 416.7,144.1 416.3,145.3 415.4,146.5 414.4,147.2 413.1,147.6Z" fill="#78ff00" fill-rule="evenodd"/>
<path d="M426.6,105.8 425.6,105.9 424.4,105.5 423.6,105.0 422.7,104.0 422.0,102.8 421.6,101.5 421.4,100.0 421.3,98.5 421.5,97.0 421.8,95.8 422.5,94.5 423.4,93.3 425.0,92.0 426.1,91.7 427.4,91.6 428.8,92.0 429.5,92.8 430.1,93.8 430.9,96.0 431.1,97.3 431.2,98.8 430.8,101.3 430.3,102.5 429.7,103.5 428.4,105.0 427.6,105.5 426.6,105.8ZM413.4,147.1 412.1,147.1 410.9,146.7 409.9,146.0 409.0,144.8 408.6,143.6 408.4,142.3 408.5,141.1 409.0,138.3 408.9,137.3 408.3,136.3 406.1,133.4 404.9,131.3 403.6,128.6 403.1,126.3 403.1,124.8 403.6,123.3 404.5,121.5 405.7,119.8 407.1,118.4 408.4,117.5 409.6,116.9 411.1,116.6 412.4,116.7 413.6,117.0 414.9,117.7 415.7,118.5 416.6,119.7 417.2,121.0 417.7,122.5 417.9,124.3 417.8,127.0 417.2,129.8 416.1,132.3 414.2,135.6 413.9,136.6 414.1,137.6 415.6,140.0 416.1,141.3 416.4,142.8 416.3,144.1 416.0,145.1 415.2,146.1 414.4,146.7 413.4,147.1Z" fill="#a8ff00" fill-rule="evenodd"/>
<path d="M426.6,105.1 425.6,105.1 424.6,104.8 423.9,104.3 423.1,103.5 422.4,102.3 422.0,101.0 421.8,99.8 421.8,98.3 422.0,96.8 422.4,95.3 423.5,93.5 424.3,92.8 425.1,92.3 426.1,91.9 427.1,91.8 427.9,92.0 428.5,92.3 429.2,93.0 429.9,94.0 430.6,96.0 430.8,98.5 430.5,100.8 429.6,102.8 428.3,104.3 427.4,104.9 426.6,105.1ZM411.6,136.2 410.9,136.2 409.4,135.4 407.9,134.2 406.6,132.8 405.5,131.1 404.5,129.1 403.9,127.3 403.7,125.8 403.8,124.3 404.4,122.8 405.2,121.3 406.3,119.8 407.6,118.6 408.8,117.8 410.1,117.3 411.4,117.1 412.6,117.3 413.9,117.7 414.9,118.4 415.7,119.3 416.5,120.5 417.0,121.8 417.3,123.3 417.5,125.0 417.4,126.5 417.1,128.3 416.6,129.8 415.9,131.3 415.1,132.7 413.9,134.2 412.6,135.5 411.6,136.2ZM413.6,146.6 412.9,146.7 412.1,146.7 410.9,146.2 409.7,145.1 409.1,143.6 409.1,141.8 409.6,140.1 410.6,138.4 411.1,138.0 411.6,137.8 412.1,137.8 412.9,138.2 414.4,139.4 415.4,140.7 415.9,142.1 416.0,143.6 415.6,144.8 414.9,145.8 413.6,146.6Z" fill="#d0ff00" fill-rule="evenodd"/>
<path d="M426.9,104.3 425.9,104.4 425.1,104.2 424.4,103.8 423.6,103.1 422.9,102.0 422.5,101.0 422.3,99.8 422.2,98.5 422.5,96.0 423.0,94.8 423.4,94.0 424.1,93.3 425.1,92.5 426.1,92.2 426.9,92.1 427.6,92.3 428.1,92.5 428.9,93.2 429.4,93.9 430.2,95.8 430.5,98.0 430.3,100.0 429.5,102.0 428.4,103.5 427.6,104.1 426.9,104.3ZM411.9,134.3 410.9,134.5 409.6,134.2 408.4,133.5 407.4,132.6 406.2,131.1 405.2,129.3 404.5,127.5 404.3,126.0 404.3,124.8 404.7,123.3 405.4,121.8 406.4,120.4 407.4,119.3 408.6,118.4 409.9,117.9 411.1,117.6 412.4,117.7 413.4,118.0 414.4,118.6 415.1,119.3 415.9,120.4 416.4,121.5 416.9,123.0 417.1,124.5 417.0,126.0 416.8,127.5 416.4,129.1 415.7,130.6 414.9,131.9 413.9,133.0 412.9,133.8 411.9,134.3ZM413.6,146.1 412.4,146.2 411.1,145.8 410.3,145.1 409.7,143.8 409.6,142.3 409.9,141.1 410.6,140.1 411.6,139.4 412.6,139.3 413.9,139.9 414.9,141.0 415.4,142.1 415.5,143.3 415.2,144.6 414.6,145.5 413.6,146.1Z" fill="#efff00" fill-rule="evenodd"/>
<path d="M427.1,103.6 426.4,103.8 425.6,103.7 424.9,103.4 424.1,102.8 423.5,102.0 423.1,101.2 422.6,99.0 422.7,96.8 423.1,95.5 423.5,94.5 424.1,93.7 424.8,93.0 425.8,92.5 426.4,92.5 427.6,92.7 428.4,93.2 428.9,93.8 429.8,95.5 430.1,97.5 430.0,99.5 429.4,101.5 428.4,102.8 427.1,103.6ZM411.6,133.3 410.6,133.4 409.4,133.1 408.4,132.5 407.4,131.6 406.4,130.2 405.6,128.8 405.0,127.3 404.8,125.8 404.9,124.5 405.3,123.0 405.9,121.8 406.9,120.5 407.9,119.5 409.1,118.7 410.1,118.3 411.4,118.1 412.4,118.2 413.4,118.6 414.4,119.3 415.1,120.0 415.7,121.0 416.2,122.3 416.5,123.5 416.7,124.8 416.6,126.3 416.4,127.6 415.9,129.1 415.2,130.3 414.6,131.3 413.6,132.3 412.6,133.0 411.6,133.3ZM413.4,145.6 412.4,145.7 411.4,145.3 410.6,144.6 410.3,143.8 410.2,142.8 410.4,141.8 411.1,140.8 411.9,140.3 412.6,140.3 413.6,140.6 414.4,141.3 414.9,142.3 415.0,143.3 414.8,144.3 414.3,145.1 413.4,145.6Z" fill="#ffef00" fill-rule="evenodd"/>
<path d="M426.9,103.1 426.1,103.1 425.4,103.0 424.7,102.5 424.2,102.0 423.4,100.5 423.0,98.5 423.2,96.5 423.9,94.7 424.4,94.0 425.1,93.3 426.4,92.9 427.6,93.2 428.6,94.1 429.4,95.5 429.8,97.5 429.7,99.3 429.1,101.0 428.1,102.4 426.9,103.1ZM410.9,132.6 409.9,132.4 408.9,131.9 407.9,131.2 407.1,130.3 406.3,129.1 405.7,127.8 405.4,126.5 405.3,125.3 405.5,124.0 405.9,122.8 406.6,121.5 407.4,120.5 408.4,119.7 409.4,119.1 410.4,118.7 411.6,118.6 412.6,118.8 413.6,119.3 414.4,119.9 415.1,120.8 415.6,121.8 416.0,123.0 416.2,124.3 416.2,125.5 416.0,127.0 415.7,128.3 415.1,129.5 414.4,130.6 413.6,131.4 412.6,132.1 411.9,132.4 410.9,132.6ZM413.1,145.1 412.4,145.1 411.6,144.8 411.2,144.3 410.9,143.6 410.8,142.8 411.1,142.1 411.6,141.4 412.1,141.2 412.9,141.2 413.6,141.5 414.1,142.1 414.4,142.8 414.4,143.6 414.2,144.3 413.7,144.8 413.1,145.1Z" fill="#ffd000" fill-rule="evenodd"/>
<path d="M427.1,102.4 426.6,102.5 425.9,102.5 425.1,102.2 424.6,101.7 423.7,100.3 423.4,98.5 423.5,96.8 424.1,95.0 425.1,93.8 425.6,93.5 426.4,93.4 427.4,93.5 428.4,94.4 429.1,95.7 429.4,97.3 429.4,99.0 428.9,100.5 428.1,101.7 427.1,102.4ZM412.1,131.6 411.1,131.8 410.1,131.7 409.1,131.3 408.1,130.6 407.4,129.7 406.6,128.6 406.1,127.3 405.8,126.0 405.8,124.8 406.0,123.8 406.5,122.5 407.1,121.5 408.0,120.5 408.9,119.9 409.9,119.4 410.9,119.1 411.9,119.1 412.6,119.3 413.4,119.7 414.1,120.3 414.7,121.0 415.3,122.0 415.6,123.0 415.8,124.3 415.7,126.5 414.9,128.8 414.4,129.8 413.6,130.6 412.9,131.2 412.1,131.6ZM413.1,144.2 412.4,144.2 412.1,144.1 411.8,143.6 411.8,142.8 412.4,142.3 413.0,142.3 413.5,142.8 413.6,143.6 413.1,144.2Z" fill="#ffb000" fill-rule="evenodd"/>
<path d="M426.9,101.9 426.1,101.9 425.6,101.8 424.7,101.0 424.0,99.8 423.7,98.3 423.9,96.8 424.4,95.3 425.4,94.2 426.4,93.8 427.4,94.0 428.2,94.8 428.8,96.0 429.1,97.5 429.0,99.0 428.5,100.3 427.9,101.3 426.9,101.9ZM412.1,130.8 411.4,131.0 410.4,131.0 409.4,130.7 408.6,130.2 407.7,129.3 407.0,128.3 406.6,127.3 406.3,126.0 406.3,124.8 406.5,123.8 406.9,122.8 407.5,121.8 408.3,120.8 409.1,120.2 409.9,119.9 410.9,119.6 411.6,119.6 412.4,119.8 413.1,120.1 413.9,120.7 414.9,122.2 415.4,124.0 415.3,126.3 414.7,128.3 413.6,129.8 412.9,130.4 412.1,130.8Z" fill="#ff9000" fill-rule="evenodd"/>
<path d="M426.4,101.3 425.5,101.0 424.8,100.3 424.3,99.0 424.1,97.8 424.4,96.4 424.9,95.3 425.6,94.6 426.6,94.3 427.6,94.8 428.2,95.5 428.7,96.8 428.7,98.0 428.5,99.3 428.0,100.3 427.4,101.0 426.4,101.3ZM411.4,130.3 410.6,130.3 409.9,130.2 409.1,129.8 408.2,129.1 407.6,128.2 407.1,127.3 406.8,126.3 406.8,125.3 406.8,124.3 407.1,123.4 408.1,121.7 408.9,121.0 409.6,120.5 411.1,120.1 411.9,120.2 412.6,120.4 413.9,121.4 414.7,123.0 415.0,124.8 414.7,126.8 413.9,128.6 412.9,129.7 412.1,130.1 411.4,130.3Z" fill="#ff7000" fill-rule="evenodd"/>
<path d="M426.9,100.6 426.1,100.6 425.4,100.1 424.9,99.4 424.6,98.3 424.6,97.0 425.0,96.0 425.6,95.2 426.4,94.9 427.1,95.1 427.6,95.5 428.1,96.3 428.3,97.3 428.3,98.3 428.0,99.3 427.6,100.0 426.9,100.6ZM411.6,129.6 410.9,129.7 410.1,129.5 408.8,128.8 408.2,128.1 407.7,127.3 407.3,125.5 407.5,123.8 408.2,122.3 409.4,121.2 410.1,120.8 410.9,120.6 412.1,120.8 413.4,121.6 414.1,122.8 414.5,124.5 414.4,126.3 413.8,127.8 412.9,128.9 411.6,129.6Z" fill="#ff5000" fill-rule="evenodd"/>
<path d="M426.6,99.8 426.1,99.8 425.6,99.4 425.2,98.8 425.1,98.0 425.1,97.2 425.4,96.5 425.9,95.8 426.4,95.6 426.9,95.7 427.4,96.1 427.7,96.8 427.9,97.5 427.8,98.3 427.5,99.0 427.1,99.6 426.6,99.8ZM411.6,128.9 410.4,128.9 409.1,128.2 408.2,127.0 407.8,125.5 407.9,124.0 408.6,122.6 409.6,121.7 410.9,121.2 412.1,121.4 413.0,122.0 413.7,123.0 414.1,124.5 414.0,126.0 413.5,127.3 412.6,128.3 411.6,128.9Z" fill="#ff3400" fill-rule="evenodd"/>
<path d="M426.9,98.6 426.4,98.7 426.1,98.5 425.8,98.0 425.9,97.2 426.1,96.8 426.4,96.7 426.9,96.8 427.1,97.3 427.1,98.0 426.9,98.6ZM411.6,128.1 410.6,128.2 409.6,127.7 408.8,126.8 408.4,125.5 408.4,124.3 409.0,123.0 409.9,122.2 410.9,121.8 411.9,122.0 412.6,122.5 413.2,123.3 413.5,124.5 413.5,125.8 413.1,126.8 412.4,127.7 411.6,128.1Z" fill="#ff1c00" fill-rule="evenodd"/>
<path d="M411.4,127.3 410.6,127.3 409.9,126.9 409.3,126.3 409.0,125.3 409.1,124.3 409.5,123.5 410.1,122.9 410.9,122.6 411.6,122.7 412.2,123.0 412.6,123.6 412.9,124.5 412.9,125.5 412.6,126.3 412.1,126.9 411.4,127.3Z" fill="#ff1000" fill-rule="evenodd"/>
</g>
<rect x="375.6" y="130.0" width="29.9" height="22.3" fill="#fdfdff" fill-opacity="0.86"/>
</g>
<path d="M423.2,38.3 V152.3 M375.6,110.7 H510.6" stroke="#000" stroke-width="2" fill="none"/>
<rect x="375.6" y="38.3" width="135.0" height="114.0" fill="none" stroke="#222" stroke-width="1.3"/>
<text x="378.2" y="53.8" font-size="11.6" font-weight="bold" textLength="23.4" lengthAdjust="spacingAndGlyphs">6.24</text>
<text x="504.1" y="53.8" font-size="11.6" text-anchor="end" font-weight="bold" textLength="23.6" lengthAdjust="spacingAndGlyphs">25.5</text>
<text x="377.9" y="143.6" font-size="11.6" font-weight="bold" textLength="24.0" lengthAdjust="spacingAndGlyphs">53.9</text>
<text x="504.4" y="143.6" font-size="11.6" text-anchor="end" font-weight="bold" textLength="23.4" lengthAdjust="spacingAndGlyphs">14.4</text>
<g clip-path="url(#cb4)">
<path d="M134.0,275.3 79.5,275.3 79.5,235.3 80.8,235.3 81.0,235.0 82.5,235.0 82.8,234.8 84.5,234.8 84.8,234.5 86.5,234.5 86.8,234.3 88.2,234.3 88.5,234.0 90.2,234.0 90.5,233.8 92.0,233.8 92.2,233.5 93.5,233.5 93.8,233.3 95.2,233.3 95.5,233.0 97.0,233.0 97.2,232.8 98.5,232.8 98.8,232.5 100.0,232.5 100.2,232.3 101.2,232.3 101.5,232.0 102.2,232.0 102.5,231.8 103.2,231.8 103.5,231.5 104.2,231.5 104.5,231.3 105.2,231.3 105.5,231.0 106.0,231.0 106.2,230.8 106.8,230.8 107.0,230.5 107.5,230.5 108.2,230.0 109.0,229.8 109.5,229.3 109.8,229.3 111.0,228.0 111.2,228.0 113.0,226.3 113.0,226.1 115.5,223.6 115.5,223.3 116.5,222.3 116.8,222.3 118.2,220.8 118.5,220.8 119.2,220.0 119.5,220.0 120.2,219.3 120.5,219.3 121.0,218.8 121.8,218.5 122.0,218.3 122.2,218.3 122.8,217.8 123.5,217.5 123.8,217.3 124.2,217.3 125.5,216.5 126.0,216.5 126.2,216.3 126.8,216.3 127.0,216.0 127.8,216.0 128.0,215.8 128.5,215.8 128.8,215.5 129.2,215.5 129.8,215.0 130.0,215.0 130.7,214.3 130.7,214.1 131.2,213.6 131.2,213.3 131.5,213.1 131.5,212.1 131.7,211.8 131.7,210.6 132.0,210.3 132.0,209.8 132.5,209.1 132.7,208.3 133.2,207.8 133.2,207.6 133.5,207.5 134.0,207.0 134.5,207.0 134.8,206.8 136.2,206.8 137.0,207.3 137.2,207.3 138.3,208.3 138.3,208.6 138.5,208.8 138.5,211.8 137.5,213.1 137.5,213.3 137.3,213.6 137.3,214.6 137.0,214.8 137.0,223.8 137.3,224.1 137.3,230.8 137.0,231.1 137.0,236.3 137.3,236.6 137.3,239.1 137.5,239.3 137.5,239.6 137.8,239.8 138.0,239.6 138.0,239.3 138.5,238.6 138.5,238.1 138.7,237.8 138.7,235.3 139.0,235.1 139.0,234.3 139.2,234.1 139.5,233.3 140.2,232.5 140.5,232.5 140.8,232.3 141.5,232.3 141.8,232.0 143.5,232.0 143.8,231.8 149.2,231.8 149.5,232.0 150.8,232.0 151.0,232.3 151.8,232.3 152.0,232.5 152.8,232.5 154.0,233.3 154.2,233.3 154.8,233.8 154.8,234.1 155.3,234.6 155.3,234.8 155.5,235.1 155.5,235.6 155.8,235.8 155.8,236.3 156.0,236.6 156.0,237.6 156.3,237.8 156.3,245.6 156.0,245.8 156.0,247.6 155.8,247.8 155.8,249.1 155.5,249.3 155.5,250.1 155.3,250.3 155.3,251.1 154.8,251.8 154.8,252.3 154.5,252.6 154.5,252.8 154.0,253.3 154.0,253.6 153.8,253.8 153.8,254.1 153.5,254.3 153.5,254.6 152.8,255.8 152.8,256.8 152.5,257.1 152.5,259.1 152.8,259.3 152.8,260.6 153.0,260.8 153.0,261.8 153.3,262.1 153.3,262.6 153.5,262.8 153.5,263.1 153.8,263.3 153.8,263.6 154.0,263.8 154.0,264.1 154.8,265.3 154.8,265.6 155.0,265.8 155.0,266.1 155.3,266.3 155.3,266.8 155.5,267.1 155.5,268.6 155.3,268.8 155.3,269.3 155.0,269.6 155.0,269.8 154.0,270.8 153.8,270.8 153.0,271.3 152.5,271.3 152.2,271.6 151.5,271.6 151.2,271.8 149.5,271.8 149.2,272.1 145.5,272.1 145.2,271.8 143.8,271.8 143.5,271.6 143.0,271.6 142.8,271.3 142.0,271.1 141.2,270.3 141.0,270.3 140.5,269.8 140.5,269.6 138.2,267.3 138.0,267.3 136.0,265.3 136.0,265.1 135.7,264.8 135.7,263.3 136.5,262.1 136.5,261.8 137.0,261.3 137.2,261.3 138.0,260.5 138.2,260.5 139.5,259.3 139.5,258.3 139.2,258.1 139.2,257.6 138.7,257.1 138.7,256.8 138.0,256.1 138.0,255.8 137.0,254.8 137.0,254.6 136.2,253.8 136.2,253.6 135.2,252.6 135.2,252.3 133.8,250.8 133.5,250.8 133.2,250.6 133.2,250.3 132.7,249.8 132.7,249.6 132.5,249.3 132.0,248.8 131.8,248.8 131.3,249.6 131.3,252.8 131.5,253.1 131.5,254.1 131.8,254.3 131.8,254.8 132.0,255.1 132.0,255.8 132.3,256.1 132.3,256.8 132.5,257.1 132.5,257.6 132.8,257.8 132.8,258.6 133.0,258.8 133.0,259.3 133.3,259.6 133.3,260.3 133.5,260.6 133.5,261.3 133.8,261.6 133.8,262.3 134.0,262.6 134.0,263.3 134.3,263.6 134.3,264.3 134.5,264.6 134.5,265.8 134.8,266.1 134.8,267.6 135.0,267.8 135.0,272.3 134.8,272.6 134.8,273.3 134.5,273.6 134.5,274.1 134.3,274.3 134.3,274.8 134.0,275.1 134.0,275.3Z" fill="#0a10d0" fill-rule="evenodd" filter="url(#bl2)"/>
<g filter="url(#bl)">
<path d="M132.0,275.3 79.5,275.3 79.5,238.1 81.0,237.9 83.8,237.2 84.8,237.1 85.8,236.8 88.5,236.2 89.2,236.0 92.2,235.4 94.5,234.8 95.5,234.7 96.2,234.4 97.2,234.4 98.0,234.1 100.2,233.7 105.5,232.3 108.0,231.5 109.8,230.7 112.2,228.9 114.0,227.3 114.5,226.6 116.6,224.8 117.2,224.0 120.2,221.9 122.2,220.7 124.5,219.7 126.5,219.0 130.8,217.9 132.2,217.1 133.0,216.3 133.8,215.4 133.9,215.8 134.6,223.8 135.0,225.1 135.1,226.6 135.4,230.1 135.2,231.1 135.6,236.3 135.9,237.3 136.0,239.3 136.6,240.6 137.0,240.9 137.8,241.1 138.5,241.0 139.1,240.6 139.9,239.3 140.3,238.3 140.5,236.1 140.9,235.1 141.2,234.4 141.5,234.3 144.8,233.9 148.3,234.1 150.0,234.5 152.0,235.2 152.5,235.6 152.9,236.1 153.2,236.8 153.7,238.8 153.8,240.6 153.8,244.6 153.5,246.6 152.6,250.3 150.4,255.1 150.0,256.8 150.0,258.8 150.0,259.6 150.4,261.1 151.0,262.3 152.7,265.3 153.2,266.8 153.3,267.8 152.8,268.7 152.0,269.1 150.5,269.7 147.8,270.1 146.2,270.1 144.5,269.9 143.0,269.4 142.2,268.8 139.5,266.2 138.8,265.8 137.5,264.7 137.1,264.1 137.8,262.7 139.4,261.6 140.9,260.1 141.1,259.3 140.9,257.8 140.5,256.8 139.8,255.8 138.2,254.2 137.0,252.6 136.4,252.1 136.0,251.5 134.1,249.8 133.4,248.8 132.8,248.2 132.2,248.0 131.5,248.0 131.0,248.4 130.5,249.3 130.5,252.8 130.7,253.6 130.8,254.3 131.2,255.6 131.5,257.1 131.9,258.3 131.9,258.8 132.3,260.1 132.3,260.6 132.7,262.1 133.3,265.1 133.5,267.8 133.6,268.6 133.5,271.6 132.4,274.6 132.2,275.3 132.0,275.3Z" fill="#0222f5" fill-rule="evenodd"/>
<path d="M131.0,275.3 82.3,275.3 80.8,273.1 79.5,270.8 79.5,240.5 81.2,240.0 84.0,238.9 89.5,237.2 90.8,237.0 94.8,235.8 101.8,234.2 108.2,232.2 111.0,230.8 114.5,228.1 115.2,227.3 117.4,225.6 118.0,224.9 120.0,223.5 122.2,222.3 125.0,221.1 127.0,220.6 132.0,219.7 133.0,224.1 133.4,225.3 133.7,227.1 134.0,229.6 134.0,230.8 134.6,236.3 134.9,237.6 135.0,239.3 135.7,240.8 136.2,241.5 137.0,241.9 138.0,242.1 139.0,241.9 139.8,241.5 141.0,239.6 141.5,238.3 141.9,236.3 142.2,235.6 142.5,235.4 145.0,235.2 148.0,235.4 149.8,235.9 151.2,236.6 151.5,236.8 151.8,237.3 152.3,239.6 152.4,244.3 151.8,247.8 151.2,249.6 149.1,253.8 148.8,254.8 148.4,256.8 148.3,259.1 148.4,259.8 148.9,261.1 151.6,265.1 152.0,266.1 152.2,267.3 152.2,267.8 152.0,268.1 150.2,268.8 147.8,269.2 146.5,269.3 144.8,269.0 143.8,268.7 142.8,268.1 140.2,265.4 138.5,264.1 138.8,263.4 140.2,262.6 141.5,261.4 142.2,260.6 142.5,259.3 142.4,258.1 142.2,257.3 141.7,256.3 140.8,255.1 139.1,253.6 136.6,250.8 134.8,249.3 134.0,248.3 132.8,247.3 132.0,247.3 131.2,247.4 130.5,248.0 130.0,249.1 129.9,253.1 131.6,260.3 132.1,263.3 132.5,265.3 132.7,268.8 132.4,271.3 131.2,274.3 131.0,275.3Z" fill="#0033ff" fill-rule="evenodd"/>
<path d="M129.8,275.3 92.5,275.3 89.4,271.8 86.9,268.1 84.8,263.8 83.4,259.3 83.0,256.8 82.7,254.6 82.7,250.1 83.3,245.6 84.5,241.1 86.2,239.9 88.0,239.1 91.8,237.7 96.5,236.2 101.8,234.8 108.5,232.7 111.5,231.2 113.2,230.0 118.8,225.6 120.5,224.5 123.8,223.1 125.8,222.6 127.5,222.4 128.5,222.6 130.8,223.7 131.8,225.6 132.9,229.6 132.9,230.8 134.4,239.8 135.2,241.5 136.2,242.4 137.2,242.9 138.2,243.0 139.2,242.9 140.3,242.3 141.0,241.6 141.9,240.1 142.6,238.6 143.2,236.5 145.2,236.3 147.8,236.5 149.4,237.1 150.5,237.7 151.0,239.1 151.2,240.3 151.4,242.3 151.3,244.3 150.9,246.3 150.1,248.6 148.0,252.6 147.3,254.1 146.7,256.6 146.5,259.1 146.6,259.8 147.0,260.6 147.6,261.3 149.8,263.5 150.8,264.8 151.4,266.3 151.4,267.6 150.0,268.2 148.2,268.6 147.0,268.7 144.8,268.4 144.0,268.1 143.2,267.6 140.8,264.6 140.2,264.1 140.2,263.8 143.2,261.6 144.2,260.3 144.4,259.6 144.4,258.8 144.2,257.8 143.9,257.1 142.7,255.3 140.0,252.9 137.4,250.3 135.2,248.6 134.6,247.8 133.8,247.1 133.2,246.8 132.5,246.6 131.2,246.8 130.2,247.5 129.5,248.8 129.4,249.6 129.4,252.8 129.7,254.6 130.6,258.6 131.3,262.6 131.8,265.6 131.9,268.8 131.5,271.3 130.3,274.1 129.9,275.3 129.8,275.3Z" fill="#0049ff" fill-rule="evenodd"/>
<path d="M128.5,275.3 98.8,275.3 96.2,273.3 94.6,271.8 93.1,270.1 90.6,266.6 88.6,262.6 87.3,258.3 86.7,254.1 86.6,251.8 86.7,249.6 87.0,247.3 87.5,245.1 88.9,240.6 90.0,239.7 91.8,238.8 95.0,237.5 106.2,234.1 108.8,233.2 110.5,232.4 113.6,230.6 116.5,228.3 119.5,226.3 121.5,225.4 123.2,224.9 124.2,225.1 127.0,226.3 129.0,227.3 131.0,228.5 131.4,229.3 132.2,232.6 133.9,240.3 134.5,241.5 135.0,242.2 135.8,242.9 136.5,243.4 137.5,243.8 138.8,243.9 139.8,243.7 140.8,243.3 141.9,242.1 144.2,237.8 144.5,237.6 145.2,237.4 147.0,237.6 147.8,237.8 148.8,238.3 149.8,239.7 150.1,241.1 150.2,243.6 149.8,245.4 148.5,247.3 145.2,250.6 144.5,251.5 143.8,253.2 142.8,253.0 141.0,252.1 138.8,250.3 138.0,249.6 135.9,248.1 135.0,247.1 133.8,246.2 132.5,246.0 131.2,246.2 130.2,246.8 129.6,247.6 129.2,248.6 129.0,249.3 129.0,253.1 130.5,260.6 130.8,262.6 131.1,265.6 131.1,269.1 130.7,271.1 128.7,275.3 128.5,275.3ZM148.5,268.1 146.8,268.2 145.0,267.9 144.2,267.6 143.6,267.1 142.6,265.8 141.9,264.1 142.0,263.8 144.0,262.4 145.2,261.9 146.8,262.1 148.0,262.7 149.1,263.6 150.0,264.6 150.6,265.6 150.8,266.6 150.8,267.3 150.0,267.7 148.5,268.1Z" fill="#0061ff" fill-rule="evenodd"/>
<path d="M125.2,275.3 104.7,275.3 102.2,274.1 99.8,272.4 97.5,270.5 95.4,268.3 93.6,265.8 92.0,263.1 90.9,260.3 90.1,257.6 89.6,254.6 89.5,251.1 89.9,247.6 90.8,243.8 92.3,240.1 93.8,239.0 96.8,237.6 108.8,233.7 110.8,232.8 114.0,231.0 117.2,228.7 120.5,227.2 121.0,227.2 122.8,227.7 125.8,228.8 128.2,230.2 130.8,231.9 131.8,234.4 132.7,237.8 133.1,239.8 133.4,240.8 134.0,241.9 134.6,242.8 136.2,244.1 137.5,244.7 139.0,245.0 140.2,245.0 141.2,244.7 142.0,244.2 142.5,243.6 144.5,240.3 145.2,240.1 146.2,240.1 147.0,240.5 147.6,241.3 147.9,242.3 147.8,243.1 147.6,243.8 147.1,244.6 146.5,245.1 145.2,245.6 142.8,245.9 142.1,246.3 141.6,247.3 141.0,249.4 140.0,249.3 136.8,247.5 135.8,246.6 134.8,245.8 133.8,245.4 132.5,245.3 131.2,245.6 130.2,246.2 129.4,247.1 128.8,248.3 128.6,249.1 128.6,253.1 130.0,260.6 130.3,262.8 130.5,265.8 130.3,269.1 129.7,271.1 128.0,273.8 127.2,274.3 125.2,275.3ZM148.8,267.6 148.0,267.8 146.8,267.8 145.0,267.4 144.5,267.2 143.9,266.6 143.3,265.6 143.1,264.8 143.1,264.1 144.2,263.3 145.5,263.0 146.8,262.9 148.0,263.4 148.8,264.0 149.5,264.8 150.0,265.6 150.2,266.3 150.2,267.1 148.8,267.6Z" fill="#007bff" fill-rule="evenodd"/>
<path d="M116.2,275.1 114.0,275.1 111.5,274.8 109.0,274.3 106.8,273.6 104.5,272.6 102.5,271.4 100.5,270.0 98.6,268.3 97.1,266.6 95.6,264.6 94.3,262.3 93.3,260.1 92.6,257.8 92.1,255.3 91.9,253.1 91.9,250.6 92.3,247.8 93.0,245.1 94.4,241.1 94.9,239.8 95.2,239.4 97.0,238.4 100.0,237.1 108.9,234.1 111.0,233.2 117.8,229.5 119.0,229.1 122.2,229.9 125.5,231.2 128.2,232.8 130.8,234.7 132.0,238.0 132.4,239.8 132.9,241.1 134.0,243.0 135.5,244.6 135.2,244.8 134.0,244.6 132.8,244.6 130.8,245.3 130.0,245.8 129.2,246.6 128.4,248.6 128.2,249.6 128.2,253.3 129.5,260.8 129.8,265.1 129.7,267.3 129.4,269.1 128.8,270.6 125.8,272.4 122.8,273.8 119.5,274.7 116.2,275.1ZM135.8,244.9 135.3,244.8 135.5,244.6 135.8,244.8 135.8,244.9ZM148.0,267.3 146.8,267.4 145.2,267.0 144.8,266.7 144.2,266.1 144.0,265.3 144.0,264.8 144.2,264.3 145.4,263.8 146.8,263.6 147.5,263.8 148.4,264.3 149.3,265.3 149.6,266.1 149.7,266.6 149.6,266.8 148.0,267.3Z" fill="#0097ff" fill-rule="evenodd"/>
<path d="M117.8,272.8 115.5,273.0 113.2,272.9 111.0,272.6 109.0,272.1 106.8,271.3 104.8,270.3 103.0,269.2 101.2,267.8 99.6,266.3 98.2,264.6 97.0,262.8 95.9,260.8 95.1,258.8 94.5,256.6 94.1,254.3 94.0,252.1 94.2,249.3 94.7,246.6 95.8,243.3 97.4,239.3 98.8,238.4 100.2,237.7 104.0,236.2 109.2,234.3 111.5,233.4 116.2,231.1 117.8,230.7 120.8,231.2 123.5,232.1 126.2,233.5 128.5,235.1 130.1,236.6 131.0,237.7 132.2,241.1 133.3,243.3 133.1,243.6 130.8,244.6 129.5,245.7 128.6,247.1 128.0,248.8 127.8,253.3 128.8,259.1 129.2,263.1 129.1,266.1 128.8,267.6 128.5,268.1 126.0,269.9 123.5,271.2 120.8,272.2 117.8,272.8ZM148.0,266.9 146.8,266.9 145.2,266.4 144.8,265.8 144.8,265.1 145.5,264.6 146.2,264.3 147.2,264.3 147.8,264.5 148.7,265.3 149.1,266.3 148.8,266.6 148.0,266.9Z" fill="#00b4ff" fill-rule="evenodd"/>
<path d="M116.2,271.1 114.2,271.1 112.2,270.9 110.2,270.5 108.5,270.0 106.8,269.2 105.0,268.3 103.2,267.1 101.8,265.8 100.4,264.3 99.2,262.8 98.2,261.1 97.3,259.3 96.7,257.6 96.2,255.6 96.0,253.8 95.9,251.8 96.1,249.1 96.7,246.6 98.4,241.6 99.5,239.1 100.5,238.3 104.0,236.7 109.5,234.6 114.2,232.6 116.5,231.9 119.2,232.2 121.8,232.8 124.0,233.7 126.2,235.0 128.1,236.6 129.6,238.3 131.0,240.3 132.0,242.6 131.7,243.1 130.0,244.5 128.9,245.8 128.2,247.1 127.6,248.8 127.4,253.3 128.3,259.1 128.6,262.1 128.5,264.3 128.2,265.8 127.5,266.5 126.0,267.6 122.8,269.5 119.5,270.6 116.2,271.1ZM147.8,266.3 146.8,266.3 146.2,266.1 145.8,265.6 146.5,265.1 147.5,265.0 148.3,265.8 148.3,266.1 147.8,266.3Z" fill="#00cefc" fill-rule="evenodd"/>
<path d="M115.5,269.3 113.8,269.3 112.0,269.1 108.8,268.2 105.8,266.7 104.2,265.6 103.0,264.6 101.9,263.3 100.7,261.8 99.1,258.8 98.1,255.6 97.8,253.8 97.7,252.1 97.9,249.6 98.4,246.8 100.8,240.3 101.6,238.6 103.2,237.6 105.0,236.8 114.2,233.1 115.5,232.8 118.0,233.0 120.5,233.5 123.0,234.4 125.0,235.5 126.7,236.8 128.1,238.3 129.5,240.3 130.6,242.6 130.4,243.1 128.8,245.2 128.1,246.3 127.5,247.9 127.2,249.1 127.1,253.3 128.0,261.1 127.9,263.3 127.8,264.2 126.9,265.1 125.8,266.0 124.2,266.9 122.5,267.7 119.0,268.9 117.2,269.2 115.5,269.3Z" fill="#00e5f8" fill-rule="evenodd"/>
<path d="M118.2,267.6 115.0,267.8 111.8,267.5 108.5,266.5 106.0,265.1 104.8,264.1 103.7,262.8 101.5,259.8 100.2,256.8 99.5,253.6 99.5,250.6 100.0,247.6 102.4,240.3 103.5,238.3 104.2,237.7 106.2,236.7 112.8,234.2 114.5,233.7 117.2,233.7 119.8,234.1 122.0,234.9 124.0,235.9 125.8,237.2 127.2,238.8 128.6,241.1 129.4,243.1 127.7,246.3 127.2,247.8 126.9,249.1 126.7,253.3 127.3,259.3 127.3,261.3 127.3,262.1 127.1,262.6 126.6,263.6 126.0,264.3 124.2,265.6 122.8,266.4 121.2,266.9 118.2,267.6Z" fill="#00f4e0" fill-rule="evenodd"/>
<path d="M117.8,266.8 114.8,266.9 111.8,266.5 109.2,265.7 107.3,264.6 106.1,263.3 102.9,258.8 101.8,256.3 101.2,253.6 101.1,250.8 101.6,247.8 103.7,240.8 104.6,238.8 105.8,237.6 107.5,236.7 111.5,235.1 113.8,234.4 116.2,234.3 118.8,234.6 121.0,235.2 123.2,236.3 125.0,237.6 126.3,239.1 127.6,241.1 128.5,243.3 128.3,244.1 127.2,246.6 126.6,248.8 126.3,253.3 126.6,256.8 126.6,259.3 125.9,261.1 125.4,263.3 124.5,264.6 122.8,265.6 120.2,266.4 117.8,266.8Z" fill="#00fbb5" fill-rule="evenodd"/>
<path d="M118.0,266.3 115.0,266.4 112.2,266.0 110.0,265.3 108.4,264.3 107.6,263.3 106.6,261.1 104.2,257.6 103.4,255.6 102.9,253.6 102.8,250.8 103.1,247.8 104.8,241.6 105.7,239.3 106.6,238.1 107.8,237.1 111.4,235.6 113.2,235.1 115.8,234.9 118.2,235.1 120.5,235.7 122.8,236.8 124.5,238.1 125.8,239.6 126.9,241.6 127.7,243.8 127.6,244.6 126.5,247.8 126.3,249.1 125.9,253.3 125.9,257.3 124.3,260.3 124.3,261.1 124.5,262.6 124.3,263.6 123.4,264.6 122.0,265.4 120.2,265.9 118.0,266.3Z" fill="#08ff88" fill-rule="evenodd"/>
<path d="M119.0,265.8 116.5,266.0 113.8,265.9 111.2,265.2 109.6,264.3 109.1,263.8 108.7,263.1 108.6,262.3 108.7,261.1 108.5,260.3 106.7,258.1 105.9,256.8 105.1,255.1 104.6,253.3 104.4,250.6 104.6,247.3 105.4,243.3 106.4,240.1 107.4,238.6 108.9,237.3 110.8,236.4 113.0,235.7 115.5,235.5 118.0,235.6 120.2,236.2 122.2,237.1 124.0,238.5 125.3,240.1 126.4,242.1 127.0,244.3 127.0,245.1 126.0,248.8 125.2,254.9 124.3,256.8 122.6,259.1 122.3,259.8 122.4,260.6 123.5,262.3 123.6,263.3 123.1,264.1 122.2,264.8 120.8,265.4 119.0,265.8Z" fill="#18ff58" fill-rule="evenodd"/>
<path d="M118.5,265.6 115.8,265.7 113.2,265.4 111.2,264.8 110.5,264.3 109.9,263.8 109.6,263.1 109.7,262.3 111.1,260.3 111.1,259.8 110.8,259.3 108.8,257.5 107.5,255.8 106.6,253.8 106.0,251.3 105.7,248.6 105.9,245.8 106.6,242.3 107.5,240.1 108.5,238.6 109.8,237.6 111.5,236.7 113.8,236.1 116.0,236.0 118.2,236.2 120.2,236.8 122.0,237.6 123.5,238.8 124.9,240.6 125.8,242.3 126.3,244.3 126.4,245.6 125.6,248.6 125.0,252.1 124.0,254.0 122.8,256.0 119.7,259.3 119.7,259.6 120.0,260.1 121.8,261.3 122.5,262.1 122.9,262.8 122.8,263.6 122.1,264.3 121.3,264.8 120.0,265.3 118.5,265.6Z" fill="#30ff30" fill-rule="evenodd"/>
<path d="M116.8,257.8 115.0,258.0 113.2,257.7 111.8,257.1 110.2,256.0 109.0,254.5 107.9,252.6 107.2,250.3 106.8,248.1 106.8,245.8 107.2,243.6 107.8,241.3 108.7,239.6 109.8,238.4 111.2,237.5 113.0,236.8 115.0,236.5 117.0,236.5 119.0,236.9 120.8,237.5 122.4,238.6 123.7,239.8 124.7,241.3 125.4,243.1 125.8,245.1 125.7,246.6 125.0,249.6 124.2,251.2 123.2,252.8 121.8,254.6 120.0,256.2 118.5,257.2 116.8,257.8ZM118.5,265.3 117.0,265.5 115.2,265.4 113.8,265.2 112.5,264.9 111.5,264.4 110.7,263.8 110.4,263.3 110.5,262.6 111.2,261.6 112.5,260.9 114.0,260.4 115.5,260.2 117.0,260.3 119.0,260.7 120.5,261.3 121.7,262.1 122.1,262.6 122.2,263.1 122.1,263.6 121.7,264.1 120.5,264.8 118.5,265.3Z" fill="#50ff10" fill-rule="evenodd"/>
<path d="M117.0,255.6 115.2,255.8 113.8,255.5 112.2,254.9 111.0,254.0 109.8,252.6 108.8,251.1 108.1,249.3 107.7,247.6 107.6,245.6 107.9,243.6 108.5,241.6 109.2,240.1 110.2,238.8 111.4,238.1 113.0,237.4 114.8,237.0 116.8,236.9 118.5,237.2 120.2,237.8 121.8,238.7 123.0,239.8 124.1,241.3 124.7,242.8 125.1,244.6 125.1,246.3 124.8,248.1 124.0,249.8 123.1,251.3 121.8,252.8 120.2,254.0 118.8,254.9 117.0,255.6ZM118.5,265.1 115.8,265.2 113.2,264.8 112.2,264.4 111.5,263.9 111.1,263.3 111.1,262.8 111.7,262.1 112.8,261.5 114.0,261.1 115.5,260.9 117.2,260.9 118.8,261.1 120.2,261.7 121.2,262.3 121.6,263.1 121.5,263.6 121.2,263.9 120.2,264.6 118.5,265.1Z" fill="#78ff00" fill-rule="evenodd"/>
<path d="M116.0,254.1 114.5,253.9 113.0,253.4 111.8,252.7 110.5,251.6 109.6,250.3 108.9,248.8 108.5,247.3 108.4,245.6 108.5,243.8 109.0,242.1 109.7,240.6 110.5,239.4 111.6,238.6 113.0,237.9 114.5,237.5 116.2,237.4 118.0,237.5 119.5,238.0 121.0,238.7 122.2,239.7 123.2,240.9 124.0,242.3 124.5,243.8 124.6,245.3 124.4,246.8 124.0,248.3 123.2,249.8 122.0,251.2 120.8,252.3 119.2,253.2 117.5,253.9 116.0,254.1ZM118.5,264.8 116.0,265.0 113.8,264.7 112.3,264.1 111.9,263.6 111.8,263.1 112.0,262.6 112.5,262.1 114.2,261.4 116.5,261.2 118.8,261.5 119.8,261.9 120.5,262.3 120.9,262.8 121.0,263.3 120.8,263.8 120.2,264.2 118.5,264.8Z" fill="#a8ff00" fill-rule="evenodd"/>
<path d="M116.8,252.8 115.2,252.8 114.0,252.5 112.8,252.0 111.5,251.1 110.6,250.1 109.8,248.8 109.3,247.6 109.1,246.1 109.1,244.6 109.3,243.1 109.8,241.6 110.6,240.3 111.5,239.3 112.7,238.6 114.0,238.1 115.5,237.8 117.0,237.8 118.5,238.1 120.0,238.7 121.2,239.5 122.4,240.6 123.2,241.8 123.7,243.1 124.0,244.6 124.0,246.1 123.6,247.6 123.0,248.8 122.1,250.1 121.0,251.1 119.8,251.9 118.2,252.5 116.8,252.8ZM116.8,264.8 115.0,264.7 113.5,264.3 113.0,264.1 112.5,263.6 112.4,263.3 112.5,262.8 113.0,262.3 113.8,262.0 115.0,261.7 116.2,261.6 117.5,261.6 118.8,261.9 119.8,262.3 120.3,262.8 120.5,263.3 120.4,263.6 119.8,264.1 118.5,264.6 116.8,264.8Z" fill="#d0ff00" fill-rule="evenodd"/>
<path d="M117.2,251.8 116.0,251.9 114.8,251.7 113.5,251.3 112.5,250.7 111.5,249.9 110.7,248.8 110.1,247.6 109.7,246.3 109.6,244.8 109.8,243.3 110.2,242.1 110.9,240.8 111.5,240.1 112.5,239.3 113.8,238.6 115.0,238.3 116.5,238.2 118.0,238.4 119.2,238.8 120.5,239.5 121.5,240.3 122.5,241.5 123.2,242.8 123.5,244.1 123.5,245.3 123.3,246.6 122.9,247.8 122.1,249.1 121.1,250.1 120.0,250.9 118.8,251.5 117.2,251.8ZM117.0,264.6 115.5,264.5 114.0,264.2 113.1,263.6 113.0,263.1 113.4,262.6 114.2,262.2 115.2,261.9 116.5,261.8 117.8,262.0 118.8,262.2 119.4,262.6 119.9,263.1 119.8,263.6 119.2,264.1 118.2,264.4 117.0,264.6Z" fill="#efff00" fill-rule="evenodd"/>
<path d="M117.2,251.1 116.0,251.1 115.0,251.0 113.8,250.5 112.8,250.0 112.0,249.3 111.2,248.3 110.7,247.3 110.3,246.1 110.2,244.8 110.4,243.6 110.7,242.3 111.4,241.1 112.0,240.3 113.0,239.5 114.0,239.1 115.2,238.7 116.5,238.7 117.8,238.8 119.0,239.2 120.2,239.8 121.2,240.6 122.0,241.6 122.7,242.8 123.0,244.1 123.0,245.3 122.9,246.3 122.4,247.6 121.7,248.6 120.8,249.5 119.8,250.2 118.5,250.8 117.2,251.1ZM117.2,264.3 115.8,264.3 114.5,264.1 113.8,263.6 113.7,263.1 114.0,262.7 114.8,262.4 116.5,262.1 118.2,262.4 119.0,262.8 119.2,263.1 119.2,263.6 118.9,263.8 118.2,264.1 117.2,264.3Z" fill="#ffef00" fill-rule="evenodd"/>
<path d="M117.8,250.3 116.5,250.4 115.5,250.4 114.5,250.1 113.5,249.6 112.7,249.1 112.0,248.3 111.3,247.3 111.0,246.3 110.8,245.3 110.8,244.1 111.1,242.8 111.5,241.8 112.1,241.1 112.8,240.3 113.8,239.7 114.8,239.3 116.0,239.1 117.2,239.1 118.5,239.4 119.5,239.9 120.5,240.5 121.3,241.3 121.9,242.3 122.3,243.3 122.5,244.3 122.5,245.6 122.1,246.8 121.6,247.8 121.0,248.6 120.0,249.4 119.0,249.9 117.8,250.3ZM116.8,264.1 115.8,264.0 114.9,263.8 114.5,263.6 114.4,263.3 114.5,263.1 115.2,262.6 116.5,262.4 117.8,262.6 118.5,263.1 118.6,263.3 118.4,263.6 118.0,263.8 116.8,264.1Z" fill="#ffd000" fill-rule="evenodd"/>
<path d="M116.8,249.8 115.8,249.8 114.8,249.5 113.8,249.1 113.0,248.5 111.9,247.1 111.5,246.1 111.3,245.1 111.4,244.1 111.6,243.1 112.0,242.1 112.5,241.3 113.2,240.6 114.0,240.1 115.0,239.7 116.0,239.6 117.2,239.6 118.2,239.8 119.2,240.2 120.1,240.8 120.9,241.6 121.4,242.3 121.8,243.3 122.0,244.3 122.0,245.3 121.8,246.3 121.3,247.3 120.7,248.1 120.0,248.7 119.0,249.3 118.0,249.6 116.8,249.8ZM117.2,263.6 116.0,263.6 115.4,263.3 115.8,263.0 116.8,262.9 117.4,263.1 117.5,263.3 117.2,263.6Z" fill="#ffb000" fill-rule="evenodd"/>
<path d="M117.8,249.1 116.0,249.2 114.2,248.6 112.9,247.6 112.1,246.1 111.9,244.3 112.3,242.6 112.8,241.8 113.5,241.1 115.0,240.2 116.0,240.0 117.0,240.0 118.8,240.5 120.3,241.6 120.9,242.3 121.3,243.3 121.5,244.1 121.5,245.1 121.3,246.1 121.0,246.8 120.4,247.6 119.6,248.3 118.8,248.8 117.8,249.1Z" fill="#ff9000" fill-rule="evenodd"/>
<path d="M117.5,248.6 116.0,248.6 114.4,248.1 113.2,247.0 112.8,246.3 112.5,245.6 112.4,244.1 113.0,242.4 114.0,241.3 115.5,240.6 117.2,240.5 118.2,240.8 119.0,241.1 120.3,242.3 121.0,243.8 121.0,245.3 120.8,246.1 120.3,246.8 119.8,247.5 119.0,248.0 117.5,248.6Z" fill="#ff7000" fill-rule="evenodd"/>
<path d="M116.8,248.1 115.2,247.8 114.1,247.1 113.2,245.9 113.0,244.6 113.2,243.2 114.0,242.1 115.1,241.3 116.5,241.0 118.0,241.2 119.2,241.9 120.1,243.1 120.4,243.8 120.5,244.6 120.2,245.8 119.4,247.1 118.2,247.8 116.8,248.1Z" fill="#ff5000" fill-rule="evenodd"/>
<path d="M117.5,247.4 116.2,247.4 115.2,247.1 114.2,246.3 113.7,245.3 113.6,244.1 114.0,243.1 114.8,242.2 115.8,241.7 117.0,241.5 118.2,241.9 119.2,242.7 119.8,243.8 119.9,245.1 119.4,246.1 118.7,246.8 117.5,247.4Z" fill="#ff3400" fill-rule="evenodd"/>
<path d="M117.8,246.6 117.0,246.7 116.0,246.6 115.2,246.3 114.6,245.6 114.3,244.8 114.4,243.8 114.8,243.1 115.5,242.5 116.5,242.2 117.5,242.3 118.4,242.8 119.0,243.5 119.2,244.3 119.1,245.3 118.5,246.1 117.8,246.6Z" fill="#ff1c00" fill-rule="evenodd"/>
<path d="M117.2,245.8 116.5,245.8 116.0,245.7 115.5,245.3 115.3,244.8 115.2,244.3 115.4,243.8 115.8,243.4 116.2,243.1 117.0,243.0 117.5,243.2 118.0,243.6 118.3,244.1 118.3,244.6 118.2,245.1 117.8,245.6 117.2,245.8Z" fill="#ff1000" fill-rule="evenodd"/>
</g>
<rect x="82.5" y="250.0" width="28.9" height="22.5" fill="#fdfdff" fill-opacity="0.86"/>
</g>
<path d="M130.4,158.3 V272.5 M82.5,230.8 H217.3" stroke="#000" stroke-width="2" fill="none"/>
<rect x="82.5" y="158.3" width="134.8" height="114.2" fill="none" stroke="#222" stroke-width="1.3"/>
<text x="85.1" y="173.8" font-size="11.6" font-weight="bold" textLength="23.4" lengthAdjust="spacingAndGlyphs">2.94</text>
<text x="210.8" y="173.8" font-size="11.6" text-anchor="end" font-weight="bold" textLength="23.6" lengthAdjust="spacingAndGlyphs">2.66</text>
<text x="84.8" y="263.8" font-size="11.6" font-weight="bold" textLength="24.0" lengthAdjust="spacingAndGlyphs">87.0</text>
<text x="211.1" y="263.8" font-size="11.6" text-anchor="end" font-weight="bold" textLength="23.4" lengthAdjust="spacingAndGlyphs">7.36</text>
<g clip-path="url(#cb5)">
<path d="M303.3,275.3 285.8,275.3 285.8,270.8 285.5,270.6 285.5,268.1 285.3,267.8 285.3,265.8 285.0,265.6 285.0,263.8 284.8,263.6 284.8,261.8 284.5,261.6 284.5,260.1 284.3,259.8 284.3,259.1 284.0,258.8 284.0,258.6 283.5,258.1 283.5,257.8 282.3,256.8 282.1,256.8 281.8,256.6 280.1,256.6 279.8,256.8 279.6,256.8 279.1,257.3 278.8,257.3 278.1,258.1 278.1,258.3 277.6,258.8 277.3,259.6 277.1,259.8 277.1,260.6 276.8,260.8 276.8,261.8 276.6,262.1 276.6,264.1 276.3,264.3 276.3,266.8 276.1,267.1 276.1,275.3 225.8,275.3 225.8,235.3 227.1,235.3 227.3,235.0 229.1,235.0 229.3,234.8 230.8,234.8 231.1,234.5 232.3,234.5 232.6,234.3 234.1,234.3 234.3,234.0 235.6,234.0 235.8,233.8 237.1,233.8 237.3,233.5 238.3,233.5 238.6,233.3 239.6,233.3 239.8,233.0 240.6,233.0 240.8,232.8 241.8,232.8 242.1,232.5 242.8,232.5 243.1,232.3 243.8,232.3 244.1,232.0 244.6,232.0 244.8,231.8 245.6,231.8 245.8,231.5 246.6,231.5 246.8,231.3 247.3,231.3 247.6,231.0 248.3,231.0 248.6,230.8 249.3,230.8 249.6,230.5 250.6,230.5 250.8,230.3 251.8,230.3 252.1,230.0 253.3,230.0 253.6,229.8 254.3,229.8 254.6,229.5 255.1,229.5 255.8,229.0 256.3,229.0 256.8,228.5 257.1,228.5 259.8,225.8 259.8,225.6 260.5,224.8 260.5,224.6 261.0,224.1 261.0,223.8 261.5,223.3 261.5,223.1 262.5,221.8 262.8,221.1 263.8,219.8 263.8,219.6 264.3,219.1 264.3,218.8 265.8,217.1 265.8,216.8 266.8,215.6 266.8,215.3 267.5,214.6 267.5,214.3 268.3,213.6 268.3,213.3 269.3,212.3 269.3,212.1 271.5,209.8 271.5,209.6 274.3,206.8 274.6,206.8 276.1,205.3 276.3,205.3 277.3,204.3 277.6,204.3 279.3,202.8 279.6,202.8 280.1,202.3 280.3,202.3 280.8,201.8 281.1,201.8 282.3,200.8 282.6,200.8 282.8,200.5 283.1,200.5 284.3,199.8 284.8,199.8 285.1,199.5 285.6,199.5 285.8,199.3 286.6,199.3 286.8,199.0 288.1,199.0 288.3,198.8 292.1,198.8 292.3,199.0 293.3,199.0 294.1,199.5 294.6,199.5 295.1,200.0 295.3,200.0 296.1,200.8 296.3,200.8 296.8,201.3 296.8,201.6 297.6,202.3 297.6,202.6 298.1,203.1 298.1,203.3 298.3,203.6 298.3,203.8 299.1,205.1 299.1,205.6 299.3,205.8 299.3,206.3 299.6,206.6 299.6,207.1 299.8,207.3 299.8,207.8 300.1,208.1 300.1,209.1 300.3,209.3 300.3,210.1 300.6,210.3 300.6,211.3 300.8,211.6 300.8,212.8 301.1,213.1 301.1,214.6 301.3,214.8 301.3,216.6 301.6,216.8 301.6,218.8 301.8,219.1 301.8,221.6 302.1,221.8 302.1,225.6 302.3,225.8 302.3,233.8 302.1,234.1 302.1,235.6 301.8,235.8 301.8,236.6 301.6,236.8 301.6,237.3 301.3,237.6 301.3,238.3 301.1,238.6 301.1,239.3 300.8,239.6 300.8,240.6 300.6,240.8 300.6,242.6 300.3,242.8 300.3,244.8 300.1,245.1 300.1,247.6 299.8,247.8 299.8,256.8 300.1,257.1 300.1,258.8 300.3,259.1 300.3,260.8 300.6,261.1 300.6,265.1 300.3,265.3 300.3,266.3 300.1,266.6 300.1,267.1 299.8,267.3 299.8,267.8 299.6,268.1 299.6,268.6 299.3,268.8 299.3,269.3 299.1,269.6 299.1,270.3 298.8,270.6 298.8,270.8 299.3,271.6 299.3,271.8 301.6,273.8 301.8,273.8 303.3,275.3ZM237.3,251.8 237.6,251.8 238.0,251.3 238.0,250.1 237.8,249.8 237.5,249.1 237.3,248.8 237.3,248.6 237.0,248.3 236.8,247.6 236.5,247.3 236.5,247.1 236.0,246.6 236.0,246.3 235.3,245.6 234.6,245.6 233.3,246.8 233.3,247.1 232.6,248.3 232.6,248.8 232.1,249.6 232.1,250.1 231.8,250.3 231.8,251.1 232.3,251.8 232.8,251.8 233.1,252.0 237.1,252.0 237.3,251.8Z" fill="#0a10d0" fill-rule="evenodd" filter="url(#bl2)"/>
<g filter="url(#bl)">
<path d="M297.6,275.3 289.4,275.3 289.2,270.8 288.9,269.3 288.8,267.8 288.5,266.8 288.3,265.3 288.0,264.6 287.9,263.6 287.5,262.6 287.4,261.6 287.0,260.6 286.8,259.6 286.1,258.1 284.9,256.6 283.3,255.6 282.1,255.2 279.8,255.4 278.8,255.8 277.3,257.1 276.5,258.1 275.8,259.3 275.1,261.8 274.9,263.3 274.6,264.1 274.3,266.1 273.9,267.1 273.1,271.8 272.7,275.3 225.8,275.3 225.8,238.8 227.3,238.8 229.6,238.4 236.1,236.8 242.3,234.7 248.3,232.5 252.6,231.2 254.6,230.8 256.8,229.9 257.8,229.3 260.7,226.6 263.6,222.7 270.5,212.6 272.3,210.6 272.6,210.0 274.6,207.8 275.3,207.3 277.7,205.1 279.6,203.6 282.6,201.6 284.6,200.6 286.3,200.0 287.3,199.7 288.3,199.7 288.8,199.5 291.6,199.6 292.1,199.8 292.8,199.8 294.1,200.4 295.8,201.6 297.2,203.6 298.2,205.6 299.2,208.6 299.3,209.3 300.0,212.1 300.0,213.1 300.2,213.6 300.2,214.8 300.4,215.3 300.4,216.8 300.6,217.3 300.6,219.1 300.8,219.6 300.8,221.8 301.0,222.3 300.9,225.6 301.1,226.6 300.7,233.1 300.4,233.8 300.3,234.8 298.6,240.5 298.0,243.8 297.8,244.8 297.6,246.6 297.3,247.8 296.7,257.1 297.2,262.3 297.1,263.8 296.8,265.3 295.7,268.6 295.3,270.3 295.3,271.6 295.6,272.6 296.4,274.1 297.6,275.3ZM233.6,255.3 237.1,255.0 238.1,254.7 239.1,254.0 239.8,253.1 240.2,252.3 240.3,251.6 240.1,249.3 238.6,245.8 237.8,244.6 237.1,243.6 236.3,243.1 235.6,242.8 234.3,242.7 233.3,242.8 232.6,243.1 230.6,244.8 229.4,247.1 228.6,249.1 228.4,250.1 228.5,252.1 229.0,253.3 229.6,254.1 230.3,254.6 231.1,255.0 232.3,255.3 233.6,255.3Z" fill="#0222f5" fill-rule="evenodd"/>
<path d="M266.8,273.6 263.6,273.7 260.3,273.4 257.3,272.8 254.6,271.8 251.1,269.9 247.3,267.5 244.1,265.0 241.5,262.6 239.8,260.6 238.1,258.3 238.2,258.1 240.3,255.8 241.4,253.8 241.7,252.8 241.8,251.8 241.5,249.1 239.8,245.0 238.4,242.6 237.1,241.2 235.1,240.1 235.0,239.8 238.6,237.9 245.8,234.6 250.3,232.8 254.8,231.5 257.1,230.6 258.1,229.9 261.1,227.2 263.3,224.6 267.6,218.6 271.1,213.1 272.8,211.1 273.3,210.3 275.0,208.3 278.0,205.6 280.1,203.9 282.3,202.4 284.8,201.1 287.3,200.3 288.3,200.3 289.1,200.1 291.3,200.2 292.8,200.5 294.6,201.5 295.5,202.3 296.1,203.1 297.4,205.3 298.1,207.3 298.6,208.8 299.5,213.8 299.6,214.8 299.8,215.6 299.8,216.8 300.0,217.6 299.9,219.1 300.1,219.8 300.1,221.8 300.2,222.6 300.1,225.8 300.2,226.8 299.7,232.8 299.2,234.6 297.3,240.1 296.3,244.6 296.0,246.3 295.7,247.6 293.8,259.3 291.8,261.6 291.1,262.2 290.8,262.1 289.6,260.3 289.0,259.1 288.0,257.6 287.0,256.6 285.8,255.5 283.8,254.6 282.6,254.3 280.1,254.5 279.1,254.8 277.6,255.7 276.6,256.6 275.1,258.9 274.1,261.6 273.9,263.1 273.6,263.8 273.1,265.8 271.6,269.9 270.1,272.8 269.8,273.1 266.8,273.6Z" fill="#0033ff" fill-rule="evenodd"/>
<path d="M264.8,270.8 262.3,270.9 259.8,270.5 257.6,269.7 255.3,268.5 254.1,267.6 252.8,266.3 249.6,262.4 246.3,259.1 244.8,257.3 243.2,255.1 243.1,252.1 242.7,249.3 242.4,248.1 239.8,241.3 239.8,240.8 239.9,239.6 242.1,237.8 246.1,235.5 250.6,233.4 255.8,231.7 257.6,230.9 258.8,230.1 261.6,227.6 264.9,223.6 268.1,219.1 271.7,213.3 273.2,211.6 273.8,210.6 275.3,208.8 276.1,208.2 277.1,207.1 280.3,204.3 283.3,202.3 285.1,201.4 286.6,201.0 289.1,200.6 291.3,200.7 292.6,201.0 294.3,201.9 295.1,202.6 295.7,203.3 297.0,205.6 297.8,208.1 298.6,211.1 299.0,213.8 299.4,217.8 299.4,219.1 299.6,220.1 299.5,221.8 299.6,222.8 299.4,225.8 299.5,226.8 298.8,232.6 298.0,235.3 296.2,240.1 294.5,246.1 293.6,249.1 291.0,253.1 289.3,255.2 288.3,255.1 286.1,254.2 284.3,253.7 282.6,253.5 279.3,254.0 277.1,255.3 275.8,256.6 274.3,258.8 273.3,261.6 273.1,262.8 272.2,265.6 271.1,267.8 270.4,268.8 269.8,269.5 268.6,270.0 266.8,270.5 264.8,270.8Z" fill="#0049ff" fill-rule="evenodd"/>
<path d="M265.1,269.6 263.6,269.7 261.8,269.6 260.3,269.4 258.8,268.9 257.6,268.3 256.3,267.5 255.2,266.6 254.2,265.3 251.3,260.3 246.7,254.8 245.4,252.8 244.3,250.6 243.0,246.1 242.9,244.8 242.8,241.8 243.2,239.1 243.7,238.3 244.6,237.6 246.3,236.3 248.8,234.9 251.8,233.6 255.1,232.6 257.8,231.3 259.1,230.4 262.1,227.8 265.6,223.8 268.1,220.4 272.1,213.8 273.6,211.8 274.1,211.0 275.6,209.2 277.3,207.4 280.3,204.8 283.6,202.6 285.1,201.8 286.6,201.4 289.3,201.0 291.1,201.1 292.6,201.4 293.6,202.0 294.6,202.8 295.3,203.6 296.1,204.8 296.7,206.1 297.6,208.8 298.4,212.6 298.9,217.8 298.9,219.1 299.1,220.1 299.0,221.8 299.1,222.8 298.8,225.8 298.9,227.1 298.7,228.8 298.0,232.6 297.5,234.3 294.1,242.3 292.3,244.9 287.5,252.6 287.2,252.8 286.3,252.9 282.6,252.7 279.8,253.2 278.6,253.7 276.8,254.8 275.5,256.1 273.7,258.6 272.7,261.3 272.3,262.8 271.5,265.3 270.3,267.3 269.8,267.8 268.3,268.6 266.8,269.2 265.1,269.6Z" fill="#0061ff" fill-rule="evenodd"/>
<path d="M264.3,268.8 263.1,268.9 261.6,268.8 259.1,268.0 257.8,267.4 256.8,266.7 255.9,265.8 255.2,264.8 254.4,263.3 253.4,260.1 252.8,258.8 252.1,257.7 249.6,254.9 248.3,253.3 247.1,251.3 246.1,249.1 245.4,246.6 245.1,243.8 245.2,241.1 245.7,238.3 246.3,237.6 247.3,236.8 249.8,235.2 252.1,234.2 255.3,232.9 258.1,231.6 259.3,230.8 262.5,228.1 266.0,224.3 268.5,220.8 272.5,214.1 274.6,211.1 277.5,207.8 280.6,205.1 283.6,203.0 285.1,202.2 286.1,201.9 287.8,201.5 289.3,201.3 291.1,201.4 292.4,201.8 293.8,202.6 294.6,203.3 295.6,204.6 296.3,206.1 297.3,209.1 298.2,214.1 298.6,220.1 298.5,221.8 298.6,223.1 298.3,225.8 298.3,227.1 297.4,231.8 296.6,234.1 295.1,237.1 292.6,240.1 290.8,242.6 285.7,251.3 284.8,251.7 282.3,252.0 279.3,252.8 277.8,253.5 276.3,254.6 275.0,255.8 273.2,258.3 272.4,260.1 271.7,262.8 271.0,264.6 270.7,265.3 270.1,266.3 269.1,267.1 267.6,267.9 266.1,268.5 264.3,268.8Z" fill="#007bff" fill-rule="evenodd"/>
<path d="M264.8,268.1 263.6,268.2 262.1,268.1 260.8,267.9 259.6,267.5 258.6,267.0 257.6,266.3 256.6,265.3 255.9,264.3 255.2,262.6 254.7,259.1 254.2,257.8 253.4,256.6 251.0,253.8 249.7,252.1 248.5,250.1 247.6,247.8 247.1,245.3 246.9,242.8 247.1,240.3 247.7,237.8 249.0,236.6 250.8,235.4 255.6,233.3 258.3,231.9 259.6,231.1 262.6,228.6 264.0,227.3 266.6,224.6 269.1,221.2 269.8,220.1 272.9,214.3 275.1,211.1 277.7,208.1 280.8,205.3 283.8,203.2 286.1,202.2 287.8,201.8 289.3,201.7 291.1,201.8 292.3,202.1 293.5,202.8 294.3,203.6 295.6,205.6 296.9,209.1 297.6,212.6 298.1,218.1 298.1,223.1 297.7,227.3 297.1,230.2 296.4,232.3 295.8,233.4 291.8,237.7 289.7,240.3 288.5,242.3 285.6,247.8 284.0,250.6 283.3,250.9 278.6,252.5 276.3,253.9 275.1,255.0 273.7,256.6 272.5,258.3 271.9,259.8 271.0,262.8 270.1,265.1 269.1,266.1 267.8,267.0 266.3,267.7 264.8,268.1Z" fill="#0097ff" fill-rule="evenodd"/>
<path d="M264.3,267.6 262.1,267.6 259.8,266.9 258.0,265.8 257.3,265.1 256.7,264.1 256.3,263.1 256.1,262.1 256.0,258.3 255.7,257.1 254.9,255.8 252.4,253.1 251.0,251.3 249.8,249.1 249.0,246.8 248.6,244.6 248.5,242.1 248.9,239.6 249.6,237.3 250.3,236.5 252.2,235.3 256.6,233.2 259.5,231.6 263.1,228.8 266.5,225.6 268.5,223.3 269.7,221.6 273.3,214.7 275.1,211.8 276.3,210.2 278.0,208.3 281.1,205.4 284.1,203.3 285.3,202.7 286.8,202.3 289.6,202.0 291.1,202.1 292.3,202.5 293.3,203.1 294.1,203.8 295.0,205.1 295.6,206.3 296.6,209.1 297.3,212.6 297.7,218.1 297.7,223.1 297.1,227.3 296.1,230.6 290.5,236.3 288.4,238.8 286.8,241.5 283.9,247.6 282.2,250.3 278.1,252.2 275.8,253.7 274.5,254.8 273.2,256.3 271.9,258.1 271.2,259.6 270.3,263.1 270.0,263.8 269.3,264.8 268.3,265.8 267.1,266.7 265.8,267.2 264.3,267.6Z" fill="#00b4ff" fill-rule="evenodd"/>
<path d="M263.8,267.1 261.8,267.0 259.8,266.3 259.0,265.8 258.1,265.1 257.2,263.6 256.9,262.6 256.8,261.6 257.4,257.8 257.2,256.6 256.5,255.3 253.8,252.6 252.2,250.6 251.0,248.3 250.2,245.8 249.9,243.6 250.0,241.3 250.4,239.1 251.1,237.1 251.5,236.6 252.5,235.8 258.2,232.8 259.7,231.8 263.4,229.1 267.6,225.6 268.8,224.8 269.6,224.1 270.8,222.3 271.8,219.3 272.9,216.6 273.8,214.8 275.4,212.1 276.6,210.5 278.1,208.7 281.1,205.8 284.1,203.6 286.3,202.7 287.8,202.4 289.6,202.3 290.8,202.4 292.1,202.8 292.8,203.1 293.6,203.8 294.8,205.3 295.4,206.6 296.2,208.8 296.8,211.6 297.3,216.1 297.3,220.3 297.1,223.6 296.4,227.3 296.1,228.3 293.8,230.8 288.8,235.4 287.1,237.5 285.5,240.1 282.5,247.1 280.5,250.3 277.8,251.7 275.3,253.5 273.8,254.8 271.5,257.3 270.5,258.8 269.6,262.8 269.1,263.8 268.4,264.8 267.6,265.6 266.3,266.4 265.1,266.9 263.8,267.1Z" fill="#00cefc" fill-rule="evenodd"/>
<path d="M263.8,266.6 262.1,266.5 260.3,266.0 258.8,264.9 257.9,263.6 257.6,262.3 257.6,261.1 258.0,259.8 258.9,257.3 259.0,256.6 258.9,256.1 258.2,255.1 255.1,252.1 253.6,250.2 252.2,247.8 251.4,245.3 251.2,243.3 251.2,241.3 251.6,239.3 252.3,237.3 252.7,236.6 253.6,235.8 258.8,232.8 265.8,227.9 266.3,227.5 269.6,226.3 270.4,225.8 271.3,225.1 272.1,224.0 272.7,222.6 273.1,220.6 273.5,217.1 274.3,215.1 275.8,212.3 276.8,210.8 279.3,207.8 281.3,205.9 284.3,203.8 286.3,203.0 287.8,202.7 289.6,202.6 290.8,202.7 292.1,203.1 292.8,203.6 293.6,204.2 294.8,206.1 295.9,208.8 296.4,211.6 296.9,216.1 296.9,220.3 296.7,223.3 295.8,226.5 294.6,228.0 293.1,229.5 287.8,233.8 285.9,235.8 285.0,237.1 284.3,238.6 282.3,244.1 281.3,246.3 279.4,249.6 278.5,250.6 275.1,253.0 272.3,255.3 270.6,256.3 269.7,257.1 269.3,257.6 269.1,258.3 269.1,261.1 268.9,262.3 268.2,264.1 267.3,265.1 266.3,265.8 265.1,266.3 263.8,266.6Z" fill="#00e5f8" fill-rule="evenodd"/>
<path d="M263.8,266.1 262.1,266.0 260.6,265.5 259.3,264.6 258.5,263.3 258.3,262.1 258.5,260.6 259.3,259.1 260.8,257.1 261.1,256.6 261.1,256.1 260.9,255.6 260.3,254.8 257.1,252.3 255.6,250.8 254.2,249.1 253.2,247.1 252.5,244.6 252.3,242.1 252.7,239.6 253.5,237.3 254.0,236.3 254.9,235.6 258.8,233.2 262.3,230.7 265.1,229.0 270.8,227.6 272.1,227.0 273.1,226.2 273.9,224.8 274.4,223.1 274.6,220.8 274.7,215.8 274.9,215.1 276.1,212.6 277.1,211.1 279.6,208.0 281.6,206.1 284.3,204.1 285.6,203.5 286.6,203.2 288.1,202.9 289.6,202.8 290.8,203.0 292.1,203.4 293.3,204.4 294.2,205.6 294.7,206.6 295.7,209.3 296.1,211.6 296.5,214.3 296.6,218.3 296.5,220.6 296.1,223.3 295.8,224.3 294.3,226.3 292.3,228.3 290.3,229.9 286.1,232.8 284.2,234.6 283.4,235.8 282.8,237.2 281.3,242.6 280.5,244.8 279.8,246.6 278.8,248.3 276.8,250.8 274.3,252.8 272.3,254.0 268.4,255.8 267.5,256.6 267.2,257.1 267.2,257.6 268.0,259.8 268.2,261.1 268.2,262.1 267.9,263.1 267.4,264.1 266.4,265.1 265.3,265.7 263.8,266.1Z" fill="#00f4e0" fill-rule="evenodd"/>
<path d="M266.8,254.6 265.6,254.8 264.3,254.7 263.1,254.4 261.6,253.8 259.6,252.6 258.1,251.6 256.6,250.3 255.6,249.0 254.8,247.8 254.1,246.3 253.6,244.8 253.4,243.3 253.3,241.8 253.5,240.3 253.9,238.8 254.4,237.3 255.1,236.1 255.7,235.6 262.3,231.2 264.3,230.1 266.3,229.6 272.8,228.9 274.1,228.5 275.1,227.8 275.8,226.6 276.1,224.8 275.9,214.6 276.5,212.8 277.4,211.3 278.8,209.3 280.8,207.1 282.3,205.8 284.6,204.2 285.8,203.6 288.1,203.2 289.8,203.1 290.8,203.3 291.8,203.6 293.1,204.5 294.0,205.8 295.1,208.3 295.7,210.8 296.0,212.8 296.2,216.3 296.0,220.6 295.6,222.4 293.7,225.1 291.3,227.4 288.6,229.2 283.6,231.8 282.8,232.3 282.1,233.1 281.6,233.9 281.2,235.1 280.3,241.1 279.5,244.1 278.1,247.1 276.3,249.6 274.5,251.3 272.3,252.7 269.8,253.8 266.8,254.6ZM263.8,265.6 262.1,265.5 261.3,265.3 260.4,264.8 259.5,263.8 259.1,263.1 259.0,262.3 259.3,260.8 259.7,260.1 260.3,259.3 261.8,258.2 262.6,257.9 263.6,257.7 264.3,257.7 265.1,258.0 266.3,259.0 267.1,260.3 267.4,261.8 267.2,263.1 266.4,264.3 265.3,265.1 263.8,265.6Z" fill="#00fbb5" fill-rule="evenodd"/>
<path d="M284.1,228.8 282.3,228.9 280.8,228.6 279.8,227.9 279.0,226.6 278.1,223.8 277.3,220.1 277.0,216.3 277.0,213.1 277.7,211.6 278.9,209.8 280.0,208.3 281.8,206.5 283.8,204.9 285.8,203.9 287.1,203.5 289.6,203.4 290.8,203.6 292.3,204.3 293.3,205.3 294.2,206.8 295.0,209.1 295.6,211.8 295.8,214.6 295.7,218.3 295.4,220.1 294.7,221.6 293.6,223.3 292.3,224.7 290.8,226.0 289.3,227.0 287.6,227.9 285.8,228.5 284.1,228.8ZM266.1,253.3 264.6,253.2 263.3,253.0 260.6,251.9 259.3,251.2 258.1,250.2 257.1,249.2 256.1,248.1 255.4,246.8 254.9,245.6 254.5,244.3 254.3,242.8 254.2,241.6 254.4,240.1 255.2,237.6 256.2,235.8 256.8,235.3 261.8,231.9 263.8,230.8 266.6,230.4 269.8,230.3 273.8,230.7 276.3,231.4 277.3,232.1 278.2,233.3 278.7,235.1 279.0,237.1 279.1,239.3 278.9,241.6 278.4,243.6 277.7,245.6 276.9,247.1 275.8,248.6 274.6,249.8 273.1,251.0 271.6,251.9 269.8,252.6 267.8,253.1 266.1,253.3ZM263.6,265.1 262.1,264.9 260.8,264.3 260.1,263.5 259.7,262.3 260.0,261.1 260.8,259.9 262.1,259.2 263.3,258.9 264.6,259.1 265.6,259.7 266.3,260.6 266.7,261.8 266.5,263.1 265.8,264.0 264.8,264.7 263.6,265.1Z" fill="#08ff88" fill-rule="evenodd"/>
<path d="M285.3,226.6 283.6,226.4 282.1,225.8 280.8,224.7 279.8,223.2 278.9,220.8 278.2,217.8 277.9,214.8 278.0,212.1 279.1,210.1 280.2,208.6 282.1,206.6 284.1,205.1 285.8,204.1 287.1,203.8 289.6,203.6 290.6,203.8 292.1,204.4 293.0,205.3 293.9,206.8 294.6,208.6 295.1,210.8 295.4,213.1 295.4,216.3 295.1,218.1 294.5,219.6 293.6,221.3 292.6,222.6 291.3,223.9 289.8,225.0 288.3,225.8 286.8,226.3 285.3,226.6ZM267.6,252.1 265.3,252.2 263.1,251.8 261.1,251.0 259.1,249.8 257.5,248.3 256.2,246.3 255.4,244.3 255.0,242.1 255.2,240.1 255.7,238.3 256.4,236.8 257.4,235.3 260.1,233.4 262.8,231.8 264.8,231.3 267.1,231.0 269.3,231.1 271.6,231.6 273.6,232.2 275.1,233.1 276.2,234.3 277.1,235.8 277.6,237.6 277.8,239.6 277.7,241.8 277.1,244.1 276.3,246.1 275.1,247.8 273.6,249.4 271.8,250.6 269.8,251.5 267.6,252.1ZM264.1,264.3 263.1,264.5 262.1,264.3 261.3,263.9 260.8,263.3 260.5,262.6 260.6,261.6 261.1,260.8 261.8,260.3 262.8,259.9 263.8,259.9 264.8,260.3 265.6,261.1 265.8,262.1 265.6,263.1 265.0,263.8 264.1,264.3Z" fill="#18ff58" fill-rule="evenodd"/>
<path d="M286.6,224.6 284.8,224.6 283.3,224.1 282.0,223.1 280.8,221.5 279.8,219.3 279.1,216.8 278.8,214.1 278.8,211.6 279.5,210.1 281.1,208.0 282.2,206.8 284.1,205.3 285.6,204.5 286.8,204.1 288.1,203.9 289.8,203.9 290.8,204.2 292.1,204.8 292.8,205.6 293.7,207.1 294.6,209.5 295.0,211.8 295.1,214.6 294.9,216.1 294.4,217.6 293.6,219.3 292.6,220.8 291.6,221.9 290.3,223.0 289.1,223.8 287.8,224.3 286.6,224.6ZM267.8,251.1 265.8,251.2 263.8,251.0 261.8,250.4 260.1,249.4 258.6,248.2 257.3,246.6 256.4,244.8 255.9,243.1 255.8,241.1 256.0,239.3 256.7,237.6 257.8,235.8 258.7,234.8 261.8,232.7 263.3,232.2 264.8,231.8 267.1,231.7 269.3,231.9 271.3,232.4 273.1,233.2 274.5,234.3 275.5,235.6 276.2,237.1 276.7,238.8 276.8,240.8 276.5,243.1 275.7,245.1 274.7,246.8 273.3,248.3 271.6,249.6 269.8,250.5 267.8,251.1ZM263.8,263.6 263.1,263.7 262.6,263.6 261.7,263.1 261.5,262.6 261.5,262.1 262.1,261.3 262.6,261.0 263.3,260.9 264.1,261.1 264.5,261.6 264.8,262.1 264.7,262.8 264.3,263.3 263.8,263.6Z" fill="#30ff30" fill-rule="evenodd"/>
<path d="M287.1,222.8 285.3,222.8 283.8,222.3 282.6,221.3 281.4,219.8 280.4,217.8 279.8,215.6 279.5,213.1 279.6,210.8 280.5,209.1 281.3,208.1 282.8,206.6 284.3,205.4 285.6,204.7 286.8,204.3 288.1,204.1 289.8,204.2 290.6,204.4 291.9,205.1 292.6,205.8 293.4,207.1 294.2,209.3 294.5,211.1 294.7,213.1 294.6,214.3 294.2,215.8 293.6,217.3 292.8,218.7 291.8,220.0 290.8,221.0 289.6,221.9 288.3,222.5 287.1,222.8ZM266.8,250.3 264.8,250.3 263.1,249.9 261.3,249.2 259.6,248.0 258.3,246.7 257.3,245.1 256.6,243.3 256.4,241.6 256.6,239.8 257.1,238.1 257.9,236.6 259.2,235.1 260.6,234.0 262.3,233.1 264.3,232.5 266.3,232.2 268.3,232.4 270.1,232.8 271.8,233.5 273.3,234.5 274.5,235.8 275.2,237.1 275.7,238.6 275.9,240.3 275.8,242.1 275.3,243.8 274.5,245.6 273.4,247.1 272.0,248.3 270.3,249.3 268.6,250.0 266.8,250.3Z" fill="#50ff10" fill-rule="evenodd"/>
<path d="M287.3,221.3 285.8,221.3 284.3,220.8 283.1,219.9 281.9,218.6 281.0,216.8 280.4,214.8 280.1,212.6 280.2,210.6 280.7,209.3 281.6,208.2 282.8,206.8 284.5,205.6 285.8,204.8 287.1,204.5 288.3,204.4 289.8,204.5 290.6,204.7 291.7,205.3 292.6,206.3 293.2,207.3 294.1,210.0 294.3,211.8 294.2,213.3 293.9,214.8 293.4,216.1 292.8,217.3 291.8,218.6 290.8,219.6 289.8,220.4 288.6,221.0 287.3,221.3ZM266.3,249.6 264.6,249.5 262.8,249.0 261.3,248.4 259.8,247.3 258.6,245.9 257.6,244.3 257.2,242.8 257.0,241.1 257.2,239.3 257.8,237.8 258.7,236.3 259.8,235.1 261.3,234.1 262.8,233.4 264.6,232.9 266.6,232.7 268.3,232.9 270.1,233.4 271.6,234.1 272.8,235.1 273.8,236.3 274.5,237.6 275.0,239.1 275.1,240.8 274.9,242.6 274.4,244.1 273.6,245.6 272.5,246.8 271.3,247.8 269.8,248.7 268.1,249.3 266.3,249.6Z" fill="#78ff00" fill-rule="evenodd"/>
<path d="M287.6,220.1 286.3,220.1 285.1,219.8 283.8,219.1 282.7,218.1 281.8,216.6 281.1,215.1 280.7,213.3 280.6,211.6 281.0,209.6 281.8,208.3 283.1,206.9 284.5,205.8 285.8,205.1 287.1,204.7 288.3,204.6 289.8,204.8 290.6,205.0 291.3,205.6 292.2,206.6 292.9,207.8 293.4,209.1 293.7,210.6 293.8,212.1 293.6,213.6 293.2,214.8 292.6,216.3 291.8,217.4 290.8,218.5 289.8,219.2 288.8,219.7 287.6,220.1ZM266.8,248.8 265.1,248.8 263.6,248.5 262.1,248.0 260.6,247.1 259.5,246.1 258.6,244.7 257.9,243.3 257.6,241.8 257.6,240.3 257.9,238.8 258.6,237.3 259.5,236.1 260.6,235.1 262.1,234.2 263.6,233.6 265.3,233.3 267.1,233.2 268.6,233.5 270.1,234.0 271.4,234.8 272.6,235.8 273.5,237.1 274.0,238.3 274.4,239.8 274.4,241.6 274.0,243.1 273.4,244.6 272.5,245.8 271.3,247.0 270.0,247.8 268.6,248.4 266.8,248.8Z" fill="#a8ff00" fill-rule="evenodd"/>
<path d="M287.8,219.1 286.6,219.1 285.3,218.8 284.1,218.1 283.1,217.2 282.3,216.1 281.6,214.6 281.3,213.1 281.2,211.3 281.3,210.1 281.6,209.1 282.5,207.8 283.2,207.1 284.6,206.0 285.8,205.3 287.1,205.0 288.3,204.9 289.7,205.1 290.1,205.2 291.1,206.0 292.0,207.1 292.6,208.1 293.0,209.3 293.3,210.6 293.3,211.8 293.2,213.1 292.9,214.3 292.3,215.6 291.7,216.6 290.8,217.5 289.8,218.3 288.8,218.8 287.8,219.1ZM267.3,248.1 265.8,248.2 264.3,248.1 262.8,247.6 261.6,247.0 260.3,246.1 259.4,245.1 258.7,243.8 258.2,242.3 258.1,240.8 258.2,239.6 258.6,238.3 259.3,237.1 260.3,235.9 261.6,234.9 262.8,234.3 264.3,233.8 265.8,233.7 267.3,233.7 268.8,234.1 270.3,234.7 271.6,235.6 272.6,236.7 273.3,238.1 273.7,239.3 273.8,240.8 273.6,242.3 273.0,243.8 272.3,245.0 271.3,246.1 270.1,247.0 268.8,247.7 267.3,248.1Z" fill="#d0ff00" fill-rule="evenodd"/>
<path d="M288.6,218.1 287.6,218.3 286.3,218.2 285.1,217.8 284.1,217.2 283.2,216.3 282.4,215.1 281.9,213.8 281.7,212.3 281.7,210.8 281.9,209.6 282.1,208.8 282.8,207.8 283.9,206.8 285.3,205.8 286.3,205.4 287.6,205.1 289.2,205.3 290.1,205.8 291.1,206.6 291.8,207.5 292.3,208.6 292.7,209.6 292.9,210.8 292.7,213.1 292.3,214.3 291.8,215.3 291.1,216.3 290.3,217.1 289.6,217.6 288.6,218.1ZM266.8,247.6 265.3,247.6 264.1,247.4 262.8,247.0 261.5,246.3 260.3,245.3 259.6,244.3 259.0,243.1 258.6,241.8 258.6,240.3 258.8,239.1 259.4,237.8 260.1,236.8 261.1,235.8 262.1,235.1 263.3,234.6 264.8,234.2 266.3,234.1 267.8,234.3 269.1,234.7 270.3,235.3 271.2,236.1 272.1,237.1 272.8,238.3 273.1,239.6 273.2,240.8 273.0,242.3 272.5,243.6 271.7,244.8 270.7,245.8 269.6,246.6 268.3,247.2 266.8,247.6Z" fill="#efff00" fill-rule="evenodd"/>
<path d="M287.6,217.6 286.6,217.5 285.6,217.3 284.6,216.7 283.8,216.0 283.1,215.1 282.6,214.1 282.2,212.8 282.1,211.6 282.3,209.6 282.7,208.6 283.2,207.8 284.3,206.8 285.6,206.0 286.6,205.6 287.6,205.4 288.3,205.5 289.3,205.8 290.3,206.5 291.1,207.2 291.6,208.1 292.1,209.1 292.4,210.1 292.5,211.3 292.4,212.6 292.1,213.6 291.7,214.6 291.1,215.5 290.3,216.3 289.6,216.9 288.6,217.3 287.6,217.6ZM266.3,247.1 264.8,247.0 263.6,246.7 262.3,246.2 261.3,245.5 260.4,244.6 259.7,243.6 259.2,242.3 259.0,241.1 259.1,239.8 259.5,238.6 260.0,237.6 260.8,236.6 261.8,235.8 263.1,235.1 264.3,234.7 265.6,234.5 267.1,234.6 268.3,234.9 269.6,235.4 270.5,236.1 271.5,237.1 272.1,238.1 272.4,239.1 272.6,240.3 272.6,241.6 272.2,242.8 271.7,243.8 271.0,244.8 270.1,245.6 268.8,246.4 267.6,246.8 266.3,247.1Z" fill="#ffef00" fill-rule="evenodd"/>
<path d="M288.1,216.8 287.1,216.9 286.1,216.8 285.1,216.3 284.4,215.8 283.7,215.1 283.1,214.1 282.5,212.1 282.5,210.8 282.7,209.8 283.0,208.8 283.6,207.9 284.1,207.3 285.1,206.5 286.0,206.1 286.8,205.8 287.8,205.8 288.6,206.0 289.6,206.4 290.3,207.0 291.4,208.6 291.8,209.6 292.0,210.6 291.9,212.6 291.6,213.6 291.1,214.6 290.6,215.3 289.8,216.0 289.1,216.5 288.1,216.8ZM267.6,246.3 266.3,246.5 265.1,246.5 263.8,246.3 262.8,245.9 261.8,245.2 261.0,244.6 260.3,243.6 259.8,242.6 259.6,241.6 259.5,240.3 259.7,239.3 260.1,238.3 260.7,237.3 261.6,236.4 262.6,235.8 263.6,235.3 264.8,235.0 266.1,234.9 267.3,235.0 268.6,235.4 269.7,236.1 270.6,236.8 271.4,237.8 271.8,238.8 272.1,239.8 272.1,241.1 271.8,242.3 271.4,243.3 270.7,244.3 269.8,245.2 268.8,245.8 267.6,246.3Z" fill="#ffd000" fill-rule="evenodd"/>
<path d="M287.6,216.3 286.6,216.3 285.8,216.1 285.1,215.6 284.3,215.0 283.8,214.3 283.3,213.3 283.0,212.3 282.9,211.3 283.0,210.3 283.3,209.3 284.1,207.8 284.8,207.1 285.6,206.6 286.3,206.4 287.3,206.2 288.9,206.6 289.6,206.9 290.3,207.6 291.2,209.1 291.5,210.1 291.7,211.1 291.6,212.1 291.4,213.1 290.6,214.6 289.9,215.3 289.2,215.8 288.3,216.2 287.6,216.3ZM265.8,246.1 264.6,245.9 263.6,245.7 262.6,245.2 261.6,244.4 260.8,243.6 260.3,242.6 260.0,241.6 260.0,240.6 260.1,239.6 260.4,238.6 261.0,237.6 261.8,236.8 262.8,236.1 263.8,235.6 264.8,235.4 266.1,235.3 267.3,235.4 268.3,235.8 269.3,236.3 270.1,236.9 270.6,237.6 271.2,238.6 271.5,239.6 271.6,240.6 271.5,241.8 271.1,242.8 270.6,243.7 269.8,244.5 269.1,245.1 268.1,245.6 267.1,245.9 265.8,246.1Z" fill="#ffb000" fill-rule="evenodd"/>
<path d="M288.3,215.6 287.6,215.8 286.6,215.7 285.1,215.1 284.0,213.8 283.4,212.1 283.4,210.3 283.7,209.3 284.1,208.6 284.7,207.8 285.3,207.3 286.1,206.9 286.8,206.7 288.3,206.8 289.6,207.4 290.6,208.6 290.9,209.3 291.2,210.3 291.2,212.1 290.7,213.6 289.7,214.8 288.3,215.6ZM266.1,245.6 265.1,245.5 264.1,245.3 263.1,244.9 262.1,244.3 261.4,243.6 260.9,242.8 260.5,241.8 260.4,240.8 260.5,239.8 260.8,238.8 261.8,237.3 262.6,236.7 263.6,236.1 264.6,235.8 265.6,235.7 267.6,235.9 268.5,236.3 269.3,236.8 270.0,237.6 270.6,238.3 271.0,239.3 271.1,240.3 271.1,241.3 270.8,242.2 270.4,243.1 269.8,243.8 269.1,244.5 268.1,245.1 267.1,245.4 266.1,245.6Z" fill="#ff9000" fill-rule="evenodd"/>
<path d="M288.3,215.1 287.6,215.2 286.8,215.2 285.6,214.7 284.4,213.6 283.8,212.1 283.8,210.3 284.4,208.8 285.0,208.1 285.6,207.6 286.8,207.1 288.1,207.2 289.4,207.8 290.3,208.9 290.8,210.3 290.8,211.8 290.3,213.3 289.5,214.3 288.3,215.1ZM266.3,245.1 265.3,245.1 264.3,244.9 263.4,244.6 262.6,244.1 261.5,242.8 261.1,242.1 260.9,241.1 260.9,240.1 261.0,239.3 261.9,237.8 263.3,236.7 265.1,236.1 266.8,236.2 268.6,236.8 269.9,238.1 270.3,238.8 270.6,239.8 270.6,240.8 270.5,241.6 270.1,242.6 269.6,243.3 268.8,244.1 268.1,244.5 266.3,245.1Z" fill="#ff7000" fill-rule="evenodd"/>
<path d="M288.1,214.6 286.8,214.6 285.6,214.1 284.7,213.1 284.2,211.8 284.3,210.3 284.8,209.1 285.7,208.1 286.8,207.6 288.1,207.6 289.1,208.1 289.9,209.1 290.4,210.3 290.4,211.8 289.9,213.1 289.1,214.1 288.1,214.6ZM266.3,244.6 264.6,244.5 263.1,243.8 262.4,243.3 261.9,242.6 261.3,241.1 261.4,239.6 261.7,238.8 262.2,238.1 263.6,237.0 265.1,236.5 266.8,236.6 268.3,237.2 269.5,238.3 270.1,239.8 270.1,241.3 269.8,242.1 269.3,242.9 268.1,244.0 267.3,244.3 266.3,244.6Z" fill="#ff5000" fill-rule="evenodd"/>
<path d="M287.8,214.1 286.8,214.1 285.8,213.6 285.1,212.7 284.7,211.6 284.7,210.3 285.1,209.3 286.1,208.4 287.1,208.0 288.1,208.1 288.9,208.6 289.6,209.3 290.0,210.6 289.9,211.8 289.5,212.8 288.8,213.6 287.8,214.1ZM266.6,244.1 265.1,244.1 263.8,243.7 262.6,242.8 261.9,241.6 261.8,240.1 262.2,238.8 263.3,237.7 264.6,237.0 266.1,236.9 267.6,237.3 268.8,238.2 269.5,239.6 269.6,241.1 269.1,242.4 268.1,243.4 266.6,244.1Z" fill="#ff3400" fill-rule="evenodd"/>
<path d="M288.1,213.4 287.1,213.5 286.3,213.2 285.6,212.6 285.3,211.8 285.2,210.8 285.4,209.8 286.0,209.1 286.8,208.6 287.6,208.6 288.3,208.8 289.1,209.5 289.4,210.3 289.5,211.3 289.3,212.1 288.8,212.9 288.1,213.4ZM266.3,243.6 265.1,243.6 263.8,243.1 262.9,242.3 262.4,241.3 262.3,240.1 262.8,238.8 263.6,238.0 264.8,237.4 266.3,237.4 267.5,237.8 268.6,238.7 269.0,239.8 269.1,241.1 268.6,242.2 267.6,243.1 266.3,243.6Z" fill="#ff1c00" fill-rule="evenodd"/>
<path d="M287.3,212.8 286.8,212.7 286.2,212.3 285.9,211.8 285.8,211.1 285.9,210.3 286.2,209.8 286.8,209.3 287.3,209.2 288.1,209.4 288.5,209.8 288.8,210.3 288.9,211.1 288.8,211.8 288.4,212.3 287.8,212.7 287.3,212.8ZM266.1,243.1 265.1,243.0 263.9,242.6 263.2,241.8 262.8,240.8 262.9,239.8 263.5,238.8 264.3,238.2 265.3,237.8 266.3,237.9 267.4,238.3 268.1,239.1 268.5,240.1 268.5,241.1 267.9,242.1 267.1,242.8 266.1,243.1Z" fill="#ff1000" fill-rule="evenodd"/>
</g>
<rect x="228.8" y="250.0" width="29.6" height="22.5" fill="#fdfdff" fill-opacity="0.86"/>
</g>
<path d="M276.4,158.3 V272.5 M228.8,230.8 H364.2" stroke="#000" stroke-width="2" fill="none"/>
<rect x="228.8" y="158.3" width="135.4" height="114.2" fill="none" stroke="#222" stroke-width="1.3"/>
<text x="231.4" y="173.8" font-size="11.6" font-weight="bold" textLength="23.4" lengthAdjust="spacingAndGlyphs">4.63</text>
<text x="357.7" y="173.8" font-size="11.6" text-anchor="end" font-weight="bold" textLength="23.6" lengthAdjust="spacingAndGlyphs">39.2</text>
<text x="231.1" y="263.8" font-size="11.6" font-weight="bold" textLength="24.0" lengthAdjust="spacingAndGlyphs">41.1</text>
<text x="358.0" y="263.8" font-size="11.6" text-anchor="end" font-weight="bold" textLength="23.4" lengthAdjust="spacingAndGlyphs">15.1</text>
<g clip-path="url(#cb6)">
<path d="M445.1,275.3 372.6,275.3 372.6,232.6 372.9,232.8 376.1,232.8 376.4,233.0 379.4,233.0 379.6,233.3 382.6,233.3 382.9,233.5 385.9,233.5 386.1,233.8 388.1,233.8 388.4,234.0 390.4,234.0 390.6,234.3 392.6,234.3 392.9,234.5 395.6,234.5 395.9,234.3 397.6,234.3 397.9,234.0 398.6,234.0 398.9,233.8 399.6,233.8 400.4,233.3 400.6,233.3 401.4,232.8 401.6,232.8 403.6,230.8 403.8,230.1 404.1,229.8 404.1,229.6 404.3,229.3 404.3,228.8 404.6,228.6 404.6,228.1 404.8,227.8 404.8,227.3 405.1,227.1 405.1,226.6 405.6,225.8 405.6,225.3 406.1,224.6 406.3,223.8 407.3,222.6 407.3,222.3 408.3,221.1 408.3,220.8 409.1,220.1 409.1,219.8 409.8,219.1 409.8,218.8 410.8,217.8 410.8,217.6 412.3,216.1 412.3,215.8 415.4,212.8 415.6,212.8 416.9,211.5 417.1,211.5 418.4,210.5 418.6,210.5 419.4,210.0 419.6,210.0 420.1,209.5 420.4,209.5 420.9,209.0 421.1,209.0 422.1,208.0 422.4,208.0 422.8,207.6 422.8,207.3 424.8,205.3 424.8,205.1 426.1,203.8 426.4,203.8 426.9,203.3 427.1,203.3 427.4,203.0 428.1,202.8 428.4,202.5 428.9,202.5 429.1,202.3 430.1,202.3 430.4,202.0 431.4,202.0 431.6,202.3 433.4,202.3 433.6,202.5 434.6,202.5 434.9,202.8 435.6,202.8 435.9,203.0 436.4,203.0 436.6,203.3 437.1,203.3 437.9,203.8 438.1,203.8 439.6,205.3 439.6,205.6 439.9,205.8 439.9,206.1 440.6,207.3 440.6,208.1 440.9,208.3 440.9,208.8 441.1,209.1 441.1,210.1 441.4,210.3 441.4,211.6 441.6,211.8 441.6,222.1 441.4,222.3 441.4,224.6 441.1,224.8 441.1,226.1 440.9,226.3 440.9,227.6 440.6,227.8 440.6,230.1 440.9,230.3 440.9,230.8 442.1,232.0 442.4,232.0 443.1,232.8 443.1,233.1 443.4,233.3 443.4,234.1 443.1,234.3 443.1,234.8 442.9,235.1 442.9,235.6 442.1,236.8 442.1,237.3 441.6,238.1 441.6,241.1 441.9,241.3 441.9,241.8 442.4,242.6 442.4,243.1 442.6,243.3 442.6,243.8 442.9,244.1 442.9,244.6 443.1,244.8 443.1,245.8 443.4,246.1 443.4,247.1 443.1,247.3 443.1,248.3 442.9,248.6 442.9,249.1 442.6,249.3 442.6,249.8 442.1,250.6 442.1,251.1 441.9,251.3 441.9,251.8 441.6,252.1 441.6,253.3 441.4,253.6 441.4,254.1 441.6,254.3 441.6,255.8 441.9,256.1 441.9,257.1 442.1,257.3 442.1,258.3 442.4,258.6 442.4,261.3 442.1,261.6 442.1,262.3 441.9,262.6 441.9,263.1 441.6,263.3 441.6,263.8 441.4,264.1 441.4,264.6 441.1,264.8 441.1,265.6 440.9,265.8 440.9,266.8 440.6,267.1 440.6,267.3 440.9,267.6 440.9,268.3 441.1,268.6 441.1,268.8 441.9,269.6 441.9,269.8 442.9,270.8 442.9,271.1 443.9,272.1 443.9,272.3 444.4,272.8 444.6,273.6 444.9,273.8 444.9,274.3 445.1,274.6 445.1,275.3ZM381.3,245.3 381.9,245.3 383.1,244.1 383.1,243.8 383.3,243.6 383.3,240.8 382.1,239.1 381.9,239.1 381.4,238.6 380.6,238.3 379.9,238.8 379.1,239.6 379.1,239.8 378.6,240.3 378.6,240.8 378.4,241.1 378.4,242.1 378.6,242.3 378.6,242.8 378.9,243.1 378.9,243.3 379.1,243.6 379.1,243.8 379.6,244.3 379.6,244.6 380.4,245.3 380.6,245.3 380.9,245.5 381.1,245.5 381.3,245.3Z" fill="#0a10d0" fill-rule="evenodd" filter="url(#bl2)"/>
<g filter="url(#bl)">
<path d="M441.6,275.3 372.6,275.3 372.6,236.3 374.9,236.3 375.9,236.4 377.1,236.4 377.3,236.6 376.5,237.3 375.6,238.7 375.1,240.1 374.9,241.1 375.0,242.6 375.5,244.1 376.3,245.6 377.1,246.6 378.4,247.7 379.9,248.3 381.4,248.2 382.9,247.6 383.6,247.1 384.9,245.6 385.4,244.5 385.5,243.6 385.6,240.6 385.5,239.8 385.1,238.9 384.3,237.6 383.3,236.6 383.3,236.3 384.9,236.1 385.6,236.2 387.1,236.1 388.1,236.2 389.6,236.0 390.4,236.1 391.9,236.0 392.6,236.1 395.6,235.8 396.6,235.5 397.9,235.4 399.4,234.8 399.9,234.7 402.2,233.6 404.4,231.4 405.2,229.8 406.3,227.1 407.5,224.6 409.6,221.4 413.6,216.3 415.9,213.8 416.4,213.5 417.4,212.5 418.9,211.4 420.1,210.7 423.0,208.6 423.9,207.6 426.6,204.8 428.9,203.7 430.9,203.3 434.1,203.9 436.9,204.9 437.4,205.2 438.2,206.1 439.0,207.6 439.8,209.8 440.4,212.6 440.6,221.6 440.4,222.3 440.3,224.1 440.1,224.6 440.1,225.6 439.9,226.1 439.9,227.1 439.6,227.8 439.6,230.3 439.9,231.6 441.1,233.1 441.7,233.6 441.7,233.8 440.1,238.1 439.9,241.6 440.9,245.6 441.0,246.6 440.8,247.6 439.4,251.3 439.1,253.3 439.0,254.3 439.7,259.6 439.7,260.3 438.4,265.1 438.0,266.6 438.0,267.6 438.3,269.3 438.6,270.3 441.0,273.8 441.6,274.9 441.7,275.3 441.6,275.3Z" fill="#0222f5" fill-rule="evenodd"/>
<path d="M437.9,275.3 384.0,275.3 382.4,271.6 381.0,267.3 380.0,263.1 379.2,258.3 379.0,255.1 378.9,251.6 381.9,250.4 383.6,249.3 384.6,248.3 386.1,246.3 386.7,244.8 386.9,243.6 387.0,240.3 386.9,239.3 386.5,238.1 386.6,237.9 391.6,237.2 392.6,237.2 395.9,236.7 396.6,236.4 398.1,236.1 400.1,235.4 402.6,234.0 404.9,231.8 405.9,230.1 407.1,227.3 408.2,225.1 412.8,218.6 416.1,214.6 418.4,212.6 422.1,210.1 422.9,209.4 423.4,209.1 424.4,207.9 426.9,205.5 428.4,204.7 429.9,204.2 430.9,204.2 432.6,204.4 434.9,205.0 436.9,206.0 437.4,206.6 438.3,208.1 438.9,209.8 439.6,212.8 439.9,221.3 439.7,222.1 439.7,223.8 439.0,227.6 438.9,230.3 439.3,232.1 440.7,234.1 439.2,237.8 438.9,241.6 439.5,245.3 439.5,246.6 438.0,251.1 437.7,253.1 437.6,254.6 438.0,260.1 436.7,264.8 436.2,267.6 436.5,270.3 436.9,271.8 437.8,274.3 438.0,275.1 438.0,275.3 437.9,275.3Z" fill="#0033ff" fill-rule="evenodd"/>
<path d="M430.1,275.3 391.9,275.3 390.3,272.8 388.9,270.1 387.8,267.3 386.8,264.3 386.0,261.1 385.5,258.1 385.2,254.8 385.1,251.6 385.2,250.6 387.1,247.1 387.8,245.1 388.1,243.8 388.4,239.2 389.1,238.9 391.4,238.3 392.6,238.2 398.1,236.7 400.5,235.8 403.1,234.3 405.4,232.1 406.5,230.3 407.7,227.6 408.9,225.3 413.2,219.1 414.7,217.1 416.6,214.9 418.9,212.9 423.8,209.3 424.7,208.3 427.4,205.9 429.4,205.0 430.9,204.8 432.4,205.0 433.6,205.4 436.4,206.5 436.9,207.1 437.6,208.3 438.3,210.1 438.9,212.8 439.3,221.1 439.1,222.1 439.1,223.6 438.4,227.6 438.3,230.3 438.7,232.3 439.9,234.3 438.7,237.1 438.5,238.1 438.0,241.8 438.3,246.6 436.9,250.6 436.4,253.1 436.2,254.6 436.3,259.8 436.1,260.6 434.4,267.1 433.9,268.3 432.1,272.1 430.1,275.3Z" fill="#0049ff" fill-rule="evenodd"/>
<path d="M425.6,275.3 396.5,275.3 394.5,272.8 392.6,269.8 391.2,266.8 389.9,263.3 389.0,259.8 388.5,256.1 388.3,252.3 388.4,248.6 388.5,247.1 389.2,244.6 389.6,241.3 389.9,240.5 391.3,239.6 398.1,237.3 400.6,236.3 403.5,234.6 405.9,232.3 407.1,230.3 409.3,225.8 413.7,219.3 416.9,215.3 418.4,213.8 419.7,212.8 424.1,209.6 425.0,208.6 427.6,206.3 429.4,205.5 430.9,205.4 432.4,205.6 433.6,206.0 436.0,207.1 437.0,208.6 438.0,211.3 438.4,212.8 438.5,214.3 438.9,221.1 438.7,222.1 438.7,223.6 437.9,227.6 437.8,230.6 438.2,232.3 439.1,234.3 439.1,234.6 438.2,236.8 437.9,237.8 437.2,241.8 437.2,244.6 437.0,246.6 435.5,250.6 433.2,259.8 432.2,263.3 431.0,266.6 429.4,269.8 427.4,273.1 425.6,275.3Z" fill="#0061ff" fill-rule="evenodd"/>
<path d="M422.6,275.3 400.5,275.3 399.6,274.5 397.4,272.2 395.3,269.3 393.5,266.1 392.2,262.6 391.2,258.8 390.7,254.8 390.5,250.8 390.8,246.8 391.3,243.6 392.1,240.7 393.9,239.6 400.9,236.6 403.8,234.8 405.7,233.1 406.4,232.3 407.5,230.6 409.8,226.1 414.2,219.6 417.1,215.7 418.6,214.2 424.1,210.1 425.4,208.8 427.9,206.7 429.6,206.0 430.9,205.9 433.4,206.5 435.7,207.6 436.5,208.8 437.5,211.6 437.9,213.1 438.1,214.8 438.4,220.8 438.2,223.6 437.5,227.6 437.4,230.6 437.7,232.6 438.5,234.6 437.5,237.3 436.1,244.1 434.4,247.1 433.2,250.1 430.7,259.8 429.3,264.1 427.9,267.3 425.7,271.3 424.0,273.8 422.9,275.2 422.6,275.3Z" fill="#007bff" fill-rule="evenodd"/>
<path d="M420.9,275.3 404.7,275.3 402.0,273.6 399.6,271.4 397.7,269.1 395.9,266.3 394.7,263.6 393.6,260.3 392.8,256.8 392.4,253.1 392.3,249.3 392.6,245.8 393.2,243.1 393.8,240.8 394.8,240.1 397.1,238.7 400.9,237.1 403.4,235.6 406.3,233.1 407.9,230.8 410.3,226.3 414.6,219.8 416.9,216.6 418.8,214.6 420.2,213.3 424.4,210.3 425.6,209.1 428.1,207.0 429.6,206.5 430.9,206.4 432.1,206.6 433.4,207.0 435.5,208.1 436.6,210.3 437.5,213.1 437.9,216.8 438.0,220.8 437.8,223.6 437.1,227.6 437.0,230.6 437.3,232.8 438.0,234.6 437.1,237.0 436.4,239.8 435.6,242.2 432.9,246.1 431.6,248.8 430.9,251.3 429.0,259.1 427.4,263.6 423.2,272.3 422.1,274.1 420.9,275.3Z" fill="#0097ff" fill-rule="evenodd"/>
<path d="M419.4,275.3 408.2,275.3 405.4,273.6 402.9,271.7 401.1,270.1 399.7,268.6 398.1,266.3 396.7,263.8 395.6,261.1 394.7,258.1 394.1,254.6 393.8,251.1 393.8,247.8 394.2,244.8 394.9,241.8 395.2,240.8 395.5,240.6 397.2,239.3 401.1,237.3 403.6,235.8 407.0,232.8 408.3,231.1 410.7,226.8 416.1,218.3 417.6,216.3 419.0,214.8 420.4,213.6 424.6,210.5 426.1,209.1 428.4,207.4 429.9,206.9 430.9,206.8 433.1,207.5 435.1,208.5 436.1,210.3 437.0,213.1 437.4,216.6 437.7,220.8 437.5,223.3 436.8,227.6 436.6,230.6 436.8,232.6 437.4,234.8 435.9,239.6 435.4,240.9 431.6,245.3 430.8,246.6 430.2,247.8 429.5,250.1 427.9,256.6 427.0,259.8 425.8,262.8 423.8,267.1 422.3,271.8 421.6,273.1 420.9,274.1 419.9,275.1 419.4,275.3Z" fill="#00b4ff" fill-rule="evenodd"/>
<path d="M418.1,275.3 410.2,275.3 408.3,274.1 403.5,270.1 401.7,268.3 400.2,266.6 398.8,264.3 397.6,261.9 396.6,259.3 395.8,256.3 395.3,253.1 395.0,249.8 395.1,247.1 395.4,244.3 396.3,241.3 396.5,240.8 396.9,240.3 397.5,239.8 403.9,236.0 406.6,233.7 407.5,232.8 409.3,230.3 416.5,218.6 417.9,216.6 419.1,215.2 420.6,213.9 425.1,210.6 426.4,209.4 428.6,207.8 429.6,207.4 430.9,207.3 433.1,208.0 434.6,208.8 435.6,210.6 436.6,213.3 437.1,216.8 437.3,220.8 437.1,223.3 436.4,227.6 436.2,230.6 436.5,232.8 436.9,234.8 435.4,239.4 433.9,241.3 430.3,244.8 429.1,246.8 428.3,249.1 426.6,255.6 425.7,258.8 424.7,261.3 422.6,266.1 422.3,267.3 421.9,270.1 421.5,271.6 420.9,272.8 420.1,273.9 418.9,275.0 418.3,275.3 418.1,275.3Z" fill="#00cefc" fill-rule="evenodd"/>
<path d="M416.9,275.3 411.9,275.3 410.1,274.4 408.7,273.3 403.6,268.3 402.1,266.6 400.9,264.8 399.6,262.6 398.4,260.1 397.5,257.3 396.8,254.6 396.3,251.8 396.1,249.1 396.2,246.6 396.5,244.1 396.9,242.3 397.6,240.6 399.4,239.2 404.4,236.0 407.3,233.6 409.0,231.6 411.1,228.7 412.7,226.8 414.9,222.3 416.8,218.8 418.0,217.1 419.4,215.5 420.9,214.1 425.1,210.9 427.1,209.3 429.1,208.0 430.1,207.8 430.9,207.8 431.9,208.1 433.4,208.8 434.6,209.9 435.6,211.8 436.3,214.1 436.7,217.1 436.9,220.6 436.8,223.3 436.1,227.3 435.8,230.3 436.3,235.1 435.4,237.9 434.3,239.6 432.9,241.1 429.4,244.1 428.5,245.1 427.9,246.1 427.1,248.3 425.5,254.6 424.5,257.8 423.6,260.3 421.4,265.1 421.1,266.6 421.1,270.1 420.7,271.8 420.0,273.1 419.1,274.1 417.9,274.9 416.9,275.3Z" fill="#00e5f8" fill-rule="evenodd"/>
<path d="M416.1,275.1 414.6,275.3 413.1,275.1 411.6,274.6 410.3,273.8 409.2,272.8 407.4,270.6 404.6,267.8 403.4,266.3 402.3,264.6 400.8,261.8 399.6,259.3 398.6,256.6 397.8,253.8 397.3,251.1 397.0,248.6 397.1,246.1 397.4,243.8 398.0,241.8 398.7,240.3 400.3,239.1 404.8,236.1 407.6,233.8 410.4,230.9 412.3,229.6 413.4,228.5 414.1,227.3 414.7,226.1 416.2,221.1 417.8,218.1 419.6,215.7 420.9,214.5 426.9,209.8 429.4,208.5 430.1,208.3 430.9,208.4 431.6,208.6 432.8,209.6 434.7,211.6 435.1,212.1 435.6,213.3 436.1,215.3 436.4,217.8 436.6,220.6 436.4,223.3 435.7,227.3 435.5,230.1 435.7,234.8 434.8,237.3 433.6,239.3 431.9,241.0 428.2,243.6 427.5,244.3 426.9,245.3 426.3,247.1 424.7,253.1 423.5,256.8 422.5,259.3 420.6,263.1 420.1,264.4 420.0,265.8 420.5,269.6 420.4,270.6 420.2,271.6 419.5,272.8 418.7,273.8 417.4,274.7 416.1,275.1Z" fill="#00f4e0" fill-rule="evenodd"/>
<path d="M415.1,274.8 413.9,274.8 412.6,274.5 411.6,274.0 410.6,273.3 409.6,272.3 407.8,270.1 405.4,267.6 403.9,265.3 400.2,257.6 398.7,253.1 398.1,250.6 397.9,248.3 397.9,246.1 398.2,243.8 399.1,241.1 399.5,240.3 400.0,239.8 404.9,236.4 407.8,234.1 409.9,232.2 413.0,230.8 413.9,230.1 414.6,229.3 415.2,228.3 415.8,226.8 417.5,219.6 418.6,217.6 419.9,215.9 421.1,214.7 427.1,210.1 428.9,209.2 430.1,208.9 432.1,210.1 433.9,211.9 435.4,214.2 435.8,216.1 436.2,220.6 436.1,223.1 435.3,227.3 435.2,229.1 435.1,230.8 435.2,233.3 435.0,234.8 434.1,237.3 432.9,239.1 431.1,240.6 427.4,242.8 426.6,243.5 426.1,244.3 425.4,246.1 424.0,251.6 422.8,255.3 421.4,258.6 419.4,262.5 418.9,263.8 418.8,264.8 418.8,265.6 419.8,269.3 419.8,270.6 419.6,271.6 418.9,272.8 417.9,273.8 416.6,274.5 415.1,274.8Z" fill="#00fbb5" fill-rule="evenodd"/>
<path d="M415.6,274.3 414.4,274.4 413.1,274.2 412.1,273.7 411.1,273.1 410.1,272.1 408.4,269.8 406.1,267.3 404.9,265.6 404.2,264.1 403.0,260.6 400.5,255.3 399.3,252.1 398.8,249.8 398.6,247.8 398.7,245.8 399.0,243.8 399.9,241.1 400.4,240.1 401.0,239.6 409.4,233.3 413.9,231.8 414.9,231.3 415.7,230.6 416.3,229.6 416.8,228.3 418.1,220.6 418.6,218.6 419.0,217.8 420.0,216.3 421.2,215.1 424.9,212.2 427.6,210.3 428.9,209.8 429.6,209.7 431.4,210.6 433.1,212.3 434.6,214.6 435.4,216.8 435.8,220.3 435.7,223.1 434.9,227.6 434.6,230.3 434.6,232.6 434.3,234.8 433.5,237.1 432.9,238.1 432.1,238.9 430.4,240.2 426.6,241.8 425.8,242.6 425.1,243.6 424.6,245.1 423.3,250.6 422.3,253.6 420.9,256.9 418.5,261.3 417.9,263.1 417.7,264.1 417.7,265.1 418.0,266.1 419.2,269.1 419.3,270.3 419.2,271.3 418.7,272.3 417.9,273.3 416.9,273.9 415.6,274.3Z" fill="#08ff88" fill-rule="evenodd"/>
<path d="M415.9,273.9 414.9,274.0 413.6,273.9 412.6,273.5 411.6,272.9 410.8,272.1 409.0,269.6 406.6,267.1 405.7,265.8 404.9,264.1 403.9,259.6 401.2,254.6 400.0,251.3 399.5,249.3 399.3,247.6 399.3,245.8 399.6,244.1 400.3,241.8 401.3,239.8 402.9,238.5 406.6,235.8 408.9,234.3 415.1,232.8 416.4,232.2 417.1,231.6 417.6,230.8 418.0,229.6 418.7,221.6 419.3,218.8 419.8,217.3 420.4,216.5 421.4,215.4 423.6,213.5 427.6,210.8 428.9,210.4 430.1,210.9 431.1,211.5 432.9,213.2 434.2,215.6 434.8,217.1 435.2,218.6 435.4,220.6 435.3,223.1 434.1,229.8 433.6,234.8 433.2,236.1 432.7,237.1 432.1,237.9 431.4,238.7 429.6,239.7 425.6,240.9 424.9,241.5 424.3,242.3 423.9,243.8 422.8,249.1 421.9,252.1 420.4,255.5 417.7,260.1 417.0,262.1 416.8,263.8 416.9,265.1 417.2,266.1 418.7,269.1 418.8,270.1 418.8,271.1 418.4,272.1 417.8,272.8 416.9,273.5 415.9,273.9Z" fill="#18ff58" fill-rule="evenodd"/>
<path d="M415.1,273.6 414.1,273.6 413.4,273.4 411.9,272.5 411.0,271.6 409.5,269.3 407.0,266.8 406.0,265.3 405.4,263.3 405.1,260.1 404.9,259.0 404.4,258.0 401.8,253.8 401.0,252.1 400.4,250.3 400.1,248.6 399.9,247.1 400.0,245.6 400.2,244.1 400.9,241.8 402.2,239.6 403.6,238.4 407.6,235.6 408.9,235.0 411.1,234.5 417.6,233.7 418.4,233.4 418.9,233.1 419.4,232.3 419.6,231.1 419.4,225.1 419.5,221.8 420.0,219.1 420.7,216.8 422.0,215.3 425.1,212.8 427.6,211.3 428.4,211.2 429.4,211.5 430.4,212.1 431.4,212.8 432.3,213.8 433.6,216.1 434.4,218.8 434.7,220.8 434.6,223.1 434.3,225.1 433.3,229.6 432.9,234.8 432.5,236.1 431.9,237.1 431.2,237.8 430.4,238.5 429.4,238.9 428.4,239.2 424.6,239.6 424.1,239.8 423.5,240.6 423.1,242.0 422.3,247.6 421.4,250.8 420.6,252.8 419.7,254.6 416.9,259.0 416.3,260.6 416.1,263.6 416.2,265.3 416.5,266.3 418.1,269.1 418.3,270.1 418.3,271.1 417.8,272.1 417.1,272.8 416.1,273.4 415.1,273.6Z" fill="#30ff30" fill-rule="evenodd"/>
<path d="M429.1,238.1 427.6,238.3 425.9,237.9 424.0,237.1 423.0,236.1 422.5,234.8 420.9,228.6 420.5,226.6 420.3,224.6 420.3,222.3 420.6,220.1 421.1,217.9 421.9,216.1 423.3,214.6 425.4,213.0 426.9,212.2 427.6,212.0 428.9,212.2 429.9,212.7 430.9,213.4 431.9,214.6 432.7,215.8 433.3,217.3 433.7,218.8 433.9,220.6 433.9,222.1 433.7,223.8 432.3,229.6 432.3,233.6 432.0,235.1 431.6,236.1 430.9,237.1 430.1,237.7 429.1,238.1ZM415.6,273.1 414.9,273.2 413.9,273.1 413.1,272.8 412.3,272.3 411.6,271.5 410.1,269.2 407.8,267.1 406.8,265.8 406.2,264.6 405.9,263.3 405.9,262.1 406.0,259.6 405.9,258.4 405.3,257.3 403.1,254.4 402.0,252.6 401.1,250.1 400.6,247.6 400.6,245.3 401.0,243.1 402.0,240.8 403.3,239.1 407.1,236.3 409.4,235.5 411.9,235.1 413.9,235.0 416.1,235.1 418.1,235.5 419.6,236.1 420.7,236.8 421.3,237.6 421.7,238.6 421.9,240.1 422.0,242.8 421.9,245.3 421.6,247.6 421.0,249.8 420.3,251.6 419.4,253.4 418.1,255.3 416.0,258.1 415.4,259.3 415.4,260.6 415.6,265.8 416.0,266.8 417.4,268.8 417.7,269.6 417.9,270.3 417.7,271.3 417.3,272.1 416.6,272.6 415.6,273.1Z" fill="#50ff10" fill-rule="evenodd"/>
<path d="M428.9,237.1 427.6,237.1 426.6,236.7 425.7,236.1 425.0,235.1 421.9,227.6 421.4,225.8 421.1,223.8 421.1,221.8 421.4,219.8 421.9,217.9 422.6,216.3 423.2,215.3 424.3,214.3 425.9,213.2 427.1,212.9 428.1,213.0 429.2,213.3 430.1,213.9 431.1,214.9 431.9,215.9 432.5,217.3 432.9,218.8 433.1,220.3 433.1,222.1 432.9,223.8 431.3,229.6 431.2,230.8 431.3,233.6 431.2,234.8 430.9,235.6 430.3,236.3 429.6,236.8 428.9,237.1ZM415.6,272.6 414.9,272.7 414.1,272.7 412.8,272.1 412.1,271.3 410.7,269.1 408.1,266.8 407.1,265.6 406.6,264.3 406.4,262.8 406.5,261.6 407.1,259.1 407.1,258.1 406.5,257.1 404.1,254.4 402.7,252.3 401.7,250.1 401.2,247.6 401.1,245.3 401.5,243.3 402.2,241.6 403.4,239.8 404.9,238.3 406.9,237.1 408.9,236.3 411.1,235.8 413.1,235.7 415.1,235.9 416.9,236.4 418.4,237.2 419.4,238.1 420.3,239.3 420.8,240.6 421.1,242.3 421.2,244.3 421.1,246.6 420.7,248.6 420.0,250.6 419.2,252.1 418.3,253.6 417.1,255.1 414.9,257.3 414.5,258.1 414.3,258.6 414.3,259.6 414.9,262.6 414.9,265.3 415.1,266.3 415.4,267.1 416.9,269.1 417.3,270.3 417.2,271.1 416.9,271.8 416.3,272.3 415.6,272.6Z" fill="#78ff00" fill-rule="evenodd"/>
<path d="M428.6,235.6 428.1,235.5 427.6,235.3 426.7,234.3 425.5,231.1 423.6,228.2 422.9,226.7 422.3,225.1 422.0,223.1 422.0,221.3 422.1,219.8 422.5,218.3 423.2,216.8 423.9,215.8 424.9,214.7 425.9,214.1 427.1,213.8 428.1,213.9 428.9,214.2 429.8,214.8 430.6,215.6 431.3,216.6 431.8,217.8 432.4,220.3 432.3,222.1 432.0,224.1 430.2,228.6 429.9,229.8 429.8,231.1 430.0,233.3 429.9,234.3 429.4,235.3 428.6,235.6ZM415.6,272.1 414.4,272.2 413.8,272.1 413.1,271.6 412.4,270.8 411.3,268.8 408.6,266.7 407.5,265.3 406.9,263.8 406.9,262.3 407.4,260.8 408.6,258.3 408.6,257.6 408.0,256.8 405.1,254.3 403.7,252.6 402.4,250.1 401.7,247.6 401.7,245.6 401.9,243.8 402.6,242.1 403.7,240.3 405.1,238.8 406.6,237.8 408.6,236.9 410.6,236.5 412.6,236.4 414.4,236.5 416.1,237.1 417.5,237.8 418.7,238.8 419.5,240.1 420.1,241.5 420.4,243.1 420.5,245.1 420.3,247.1 419.8,249.1 419.0,251.1 418.1,252.5 417.1,253.8 415.9,255.0 413.3,257.1 412.9,257.6 412.7,258.1 412.9,258.8 413.9,260.8 414.2,262.1 414.4,263.3 414.4,265.8 414.5,266.8 414.9,267.6 416.4,269.2 416.7,270.1 416.7,270.8 416.5,271.3 416.1,271.8 415.6,272.1Z" fill="#a8ff00" fill-rule="evenodd"/>
<path d="M427.6,228.6 426.9,228.6 426.1,228.3 425.1,227.6 424.4,226.8 423.8,225.8 423.2,224.6 422.8,222.1 422.9,220.6 423.1,219.3 423.5,218.1 424.0,217.1 424.6,216.2 425.4,215.5 426.1,215.1 427.1,214.9 427.9,214.9 428.6,215.2 429.4,215.6 430.1,216.4 430.7,217.3 431.1,218.3 431.5,220.6 431.4,222.9 430.5,225.3 429.1,227.5 428.4,228.2 427.6,228.6ZM412.1,256.1 410.6,256.3 409.1,255.9 407.1,254.9 405.4,253.4 404.0,251.8 403.0,250.1 402.4,248.3 402.2,246.3 402.3,244.6 402.8,242.8 403.6,241.2 404.8,239.8 406.1,238.7 407.9,237.7 409.6,237.2 411.6,236.9 413.4,237.0 414.9,237.4 416.4,238.0 417.6,238.9 418.6,240.1 419.2,241.3 419.7,242.8 419.9,244.6 419.8,246.6 419.4,248.3 418.7,250.1 417.9,251.6 416.7,253.1 415.4,254.3 413.6,255.4 412.1,256.1ZM414.9,271.6 414.1,271.5 413.5,271.1 413.0,270.3 412.4,268.5 411.8,268.1 409.1,266.6 408.3,265.8 407.7,264.8 407.3,263.3 407.4,262.3 407.7,261.6 408.6,260.1 409.9,259.2 410.9,259.1 411.9,259.5 412.9,260.4 413.5,261.6 413.8,262.6 413.9,263.6 413.6,266.8 413.7,267.6 414.0,268.1 415.5,269.3 415.9,269.8 416.0,270.3 415.8,271.1 415.4,271.4 414.9,271.6Z" fill="#d0ff00" fill-rule="evenodd"/>
<path d="M427.4,226.3 426.6,226.3 426.1,226.1 425.4,225.6 424.9,225.0 424.0,223.3 423.8,221.3 424.0,219.3 424.8,217.6 425.4,216.9 426.1,216.4 427.4,216.1 428.6,216.5 429.6,217.4 430.4,219.0 430.6,220.8 430.3,222.8 429.6,224.5 428.6,225.7 428.1,226.1 427.4,226.3ZM411.4,255.1 409.9,255.0 408.1,254.4 406.6,253.6 405.1,252.2 404.1,250.8 403.2,249.1 402.8,247.3 402.7,245.6 403.0,243.8 403.5,242.3 404.5,240.8 405.6,239.7 407.1,238.6 408.6,238.0 410.4,237.6 412.1,237.5 413.6,237.7 415.1,238.2 416.4,238.8 417.4,239.8 418.3,241.1 418.9,242.3 419.2,243.8 419.3,245.6 419.1,247.3 418.6,248.8 417.9,250.4 416.9,251.9 415.6,253.1 414.4,254.0 412.9,254.7 411.4,255.1ZM411.9,267.1 410.6,266.9 409.4,266.3 408.4,265.3 407.9,264.1 407.8,262.8 408.3,261.6 409.1,260.6 410.1,260.1 411.1,260.1 412.1,260.6 412.9,261.5 413.4,262.7 413.5,264.3 413.1,265.8 412.6,266.7 411.9,267.1Z" fill="#efff00" fill-rule="evenodd"/>
<path d="M427.6,224.1 426.6,224.1 425.9,223.6 425.2,222.6 425.0,221.3 425.1,220.1 425.5,218.8 426.2,218.1 427.1,217.7 427.9,217.8 428.6,218.3 429.1,219.2 429.4,220.3 429.4,221.5 429.1,222.6 428.4,223.6 427.6,224.1ZM412.1,254.1 410.6,254.2 409.1,254.0 407.6,253.3 406.4,252.5 405.1,251.2 404.2,249.8 403.6,248.3 403.2,246.6 403.2,245.1 403.6,243.6 404.2,242.1 405.1,240.8 406.4,239.7 407.6,238.9 409.1,238.4 410.9,238.0 412.4,238.1 413.9,238.3 415.1,238.8 416.4,239.7 417.2,240.6 418.0,241.8 418.4,243.1 418.7,244.6 418.7,246.1 418.4,247.6 417.9,249.1 417.0,250.6 416.0,251.8 414.9,252.8 413.6,253.5 412.1,254.1ZM411.6,266.3 410.6,266.3 409.6,265.9 408.9,265.2 408.4,264.2 408.3,263.1 408.6,262.1 409.2,261.3 410.1,260.9 411.1,260.9 411.9,261.2 412.4,261.8 412.9,262.8 413.0,263.8 412.8,265.1 412.4,265.9 411.6,266.3Z" fill="#ffef00" fill-rule="evenodd"/>
<path d="M411.9,253.3 410.4,253.4 409.1,253.2 407.6,252.5 406.4,251.7 405.4,250.6 404.5,249.3 404.0,247.8 403.7,246.3 403.8,244.8 404.1,243.6 404.6,242.3 405.6,241.0 406.7,240.1 407.9,239.3 409.4,238.8 410.9,238.6 412.4,238.6 413.6,238.9 414.9,239.4 415.9,240.1 416.8,241.1 417.4,242.1 417.9,243.3 418.1,244.8 418.1,246.3 417.8,247.6 417.2,249.1 416.5,250.3 415.6,251.3 414.4,252.3 413.1,253.0 411.9,253.3ZM411.6,265.6 410.9,265.8 410.1,265.6 409.4,265.1 408.9,264.3 408.7,263.6 408.9,262.8 409.3,262.1 409.9,261.7 410.6,261.5 411.4,261.7 411.9,262.1 412.3,262.8 412.5,263.6 412.4,264.6 412.1,265.1 411.6,265.6Z" fill="#ffd000" fill-rule="evenodd"/>
<path d="M412.1,252.6 410.9,252.7 409.6,252.6 408.4,252.2 407.1,251.5 406.1,250.6 405.2,249.3 404.6,248.1 404.2,246.6 404.2,245.1 404.5,243.8 405.1,242.6 405.8,241.6 406.8,240.6 407.9,239.9 409.1,239.4 410.4,239.1 411.6,239.0 412.9,239.2 414.1,239.6 415.1,240.2 416.0,241.1 416.8,242.1 417.2,243.1 417.5,244.3 417.6,245.6 417.4,247.1 417.0,248.3 416.3,249.6 415.4,250.7 414.4,251.5 413.4,252.1 412.1,252.6ZM411.4,264.9 410.9,265.0 410.4,265.0 409.9,264.7 409.6,264.3 409.4,263.8 409.4,263.3 409.6,262.8 410.1,262.4 410.6,262.3 411.1,262.4 411.7,263.1 411.8,264.1 411.4,264.9Z" fill="#ffb000" fill-rule="evenodd"/>
<path d="M412.1,251.9 410.9,252.0 409.6,251.9 408.4,251.5 407.4,250.9 406.4,250.1 405.7,249.1 405.2,248.1 404.8,246.8 404.7,245.6 404.9,244.3 405.2,243.3 405.9,242.2 406.7,241.3 407.6,240.6 408.9,240.0 410.1,239.6 411.4,239.6 412.6,239.7 413.6,240.0 414.6,240.6 415.5,241.3 416.1,242.1 416.6,243.1 416.9,244.3 417.0,245.6 416.9,246.8 416.5,248.1 415.9,249.1 415.1,250.1 414.3,250.8 413.4,251.4 412.1,251.9Z" fill="#ff9000" fill-rule="evenodd"/>
<path d="M411.4,251.3 410.1,251.3 409.1,251.1 408.1,250.6 407.3,250.1 406.5,249.3 405.9,248.3 405.5,247.3 405.2,246.1 405.3,244.8 405.6,243.8 406.1,242.8 406.6,242.1 407.6,241.2 408.6,240.6 409.6,240.3 410.9,240.1 412.1,240.2 413.1,240.4 414.1,240.9 414.9,241.5 415.5,242.3 416.0,243.1 416.3,244.1 416.5,245.1 416.4,246.3 416.1,247.3 415.7,248.3 415.1,249.2 414.4,250.0 413.4,250.7 412.4,251.1 411.4,251.3Z" fill="#ff7000" fill-rule="evenodd"/>
<path d="M411.9,250.6 410.9,250.7 409.9,250.6 408.9,250.3 408.1,249.9 407.3,249.3 406.6,248.4 406.1,247.6 405.9,246.6 405.8,245.6 405.9,244.6 406.2,243.6 406.7,242.8 407.3,242.1 408.1,241.5 409.1,241.0 410.1,240.7 411.1,240.6 412.1,240.7 413.1,241.0 413.9,241.4 414.6,242.1 415.2,242.8 415.5,243.6 415.8,244.6 415.9,245.6 415.7,246.6 415.0,248.3 414.4,249.1 413.6,249.8 412.9,250.2 411.9,250.6Z" fill="#ff5000" fill-rule="evenodd"/>
<path d="M412.1,249.8 411.4,250.0 410.4,250.0 409.4,249.8 408.6,249.5 407.9,248.9 407.3,248.3 406.5,246.8 406.4,246.1 406.4,245.1 406.9,243.6 407.4,242.8 408.1,242.1 409.6,241.4 411.4,241.2 412.9,241.6 414.2,242.6 414.7,243.3 415.1,244.1 415.2,244.8 415.3,245.8 415.0,246.8 414.7,247.6 413.6,249.0 412.1,249.8Z" fill="#ff3400" fill-rule="evenodd"/>
<path d="M411.1,249.3 409.6,249.2 408.4,248.5 407.4,247.3 407.0,245.8 407.2,244.3 408.0,243.1 409.1,242.2 410.6,241.8 412.1,241.9 413.4,242.6 414.3,243.8 414.6,245.1 414.4,246.6 413.8,247.8 412.6,248.8 411.1,249.3Z" fill="#ff1c00" fill-rule="evenodd"/>
<path d="M410.9,248.6 409.6,248.4 408.6,247.7 408.0,246.8 407.7,245.6 408.0,244.3 408.6,243.4 409.6,242.7 410.9,242.5 412.1,242.7 413.0,243.3 413.6,244.1 413.9,245.3 413.7,246.6 413.0,247.6 412.1,248.2 410.9,248.6Z" fill="#ff1000" fill-rule="evenodd"/>
</g>
<rect x="375.6" y="250.0" width="29.9" height="22.5" fill="#fdfdff" fill-opacity="0.86"/>
</g>
<path d="M423.2,158.3 V272.5 M375.6,230.8 H510.6" stroke="#000" stroke-width="2" fill="none"/>
<rect x="375.6" y="158.3" width="135.0" height="114.2" fill="none" stroke="#222" stroke-width="1.3"/>
<text x="378.2" y="173.8" font-size="11.6" font-weight="bold" textLength="23.4" lengthAdjust="spacingAndGlyphs">6.36</text>
<text x="504.1" y="173.8" font-size="11.6" text-anchor="end" font-weight="bold" textLength="23.6" lengthAdjust="spacingAndGlyphs">21.4</text>
<text x="377.9" y="263.8" font-size="11.6" font-weight="bold" textLength="24.0" lengthAdjust="spacingAndGlyphs">58.5</text>
<text x="504.4" y="263.8" font-size="11.6" text-anchor="end" font-weight="bold" textLength="23.4" lengthAdjust="spacingAndGlyphs">13.7</text>
<text x="0.3" y="343.3" font-size="24" font-weight="bold" textLength="14.2" lengthAdjust="spacingAndGlyphs" style="stroke-width:0.7px">B</text>
<path d="M82.3,330.6 V488.5" stroke="#000" stroke-width="2" fill="none"/>
<path d="M78.6,488.5 H82.3" stroke="#000" stroke-width="1.8"/>
<text x="77.2" y="493.4" font-size="13.4" text-anchor="end" textLength="7.7" lengthAdjust="spacingAndGlyphs">0</text>
<path d="M78.6,436.2 H82.3" stroke="#000" stroke-width="1.8"/>
<text x="77.2" y="441.1" font-size="13.4" text-anchor="end" textLength="23.1" lengthAdjust="spacingAndGlyphs">200</text>
<path d="M78.6,383.8 H82.3" stroke="#000" stroke-width="1.8"/>
<text x="77.2" y="388.7" font-size="13.4" text-anchor="end" textLength="23.1" lengthAdjust="spacingAndGlyphs">400</text>
<path d="M78.6,331.5 H82.3" stroke="#000" stroke-width="1.8"/>
<text x="77.2" y="336.4" font-size="13.4" text-anchor="end" textLength="23.1" lengthAdjust="spacingAndGlyphs">600</text>
<path d="M80.2,462.3 H82.3" stroke="#000" stroke-width="1.6"/>
<path d="M80.2,410.0 H82.3" stroke="#000" stroke-width="1.6"/>
<path d="M80.2,357.7 H82.3" stroke="#000" stroke-width="1.6"/>
<path d="M81.3,488.5 H506.2" stroke="#000" stroke-width="2.2" fill="none"/>
<path d="M108.8,488.5 V492.2" stroke="#000" stroke-width="1.6"/>
<path d="M161.7,488.5 V492.2" stroke="#000" stroke-width="1.6"/>
<path d="M214.5,488.5 V492.2" stroke="#000" stroke-width="1.6"/>
<path d="M267.4,488.5 V492.2" stroke="#000" stroke-width="1.6"/>
<path d="M320.2,488.5 V492.2" stroke="#000" stroke-width="1.6"/>
<path d="M373.1,488.5 V492.2" stroke="#000" stroke-width="1.6"/>
<path d="M426.0,488.5 V492.2" stroke="#000" stroke-width="1.6"/>
<path d="M478.8,488.5 V492.2" stroke="#000" stroke-width="1.6"/>
<rect x="89.6" y="355.3" width="10.4" height="133.2" fill="#000" stroke="#000" stroke-width="1.6"/>
<rect x="104.4" y="389.6" width="10.4" height="98.9" fill="#fff" stroke="#000" stroke-width="1.6"/>
<path d="M109.6,388.8 V380.8 M106.6,380.8 H112.6" stroke="#000" stroke-width="1.8"/>
<rect x="118.2" y="487.3" width="12.0" height="1.2" fill="#000"/>
<rect x="141.7" y="485.7" width="12.0" height="2.8" fill="#000"/>
<rect x="156.5" y="487.1" width="12.0" height="1.4" fill="#000"/>
<rect x="171.1" y="487.3" width="12.0" height="1.2" fill="#000"/>
<rect x="195.4" y="485.8" width="10.4" height="2.7" fill="#000" stroke="#000" stroke-width="1.6"/>
<rect x="210.1" y="484.8" width="10.4" height="3.7" fill="#fff" stroke="#000" stroke-width="1.6"/>
<rect x="223.9" y="487.3" width="12.0" height="1.2" fill="#000"/>
<rect x="248.2" y="483.8" width="10.4" height="4.7" fill="#000" stroke="#000" stroke-width="1.6"/>
<rect x="262.2" y="486.4" width="12.0" height="2.1" fill="#000"/>
<rect x="276.8" y="486.9" width="12.0" height="1.6" fill="#000"/>
<rect x="301.1" y="485.8" width="10.4" height="2.7" fill="#000" stroke="#000" stroke-width="1.6"/>
<rect x="315.0" y="486.7" width="12.0" height="1.8" fill="#000"/>
<rect x="329.6" y="486.9" width="12.0" height="1.6" fill="#000"/>
<rect x="354.0" y="484.3" width="10.4" height="4.2" fill="#000" stroke="#000" stroke-width="1.6"/>
<path d="M359.2,483.5 V480.0 M356.2,480.0 H362.2" stroke="#000" stroke-width="1.8"/>
<rect x="367.9" y="487.3" width="12.0" height="1.2" fill="#000"/>
<rect x="382.5" y="487.3" width="12.0" height="1.2" fill="#000"/>
<rect x="406.8" y="484.3" width="10.4" height="4.2" fill="#000" stroke="#000" stroke-width="1.6"/>
<rect x="421.6" y="485.3" width="10.4" height="3.2" fill="#fff" stroke="#000" stroke-width="1.6"/>
<rect x="436.2" y="485.8" width="10.4" height="2.7" fill="url(#pHatch)" stroke="#000" stroke-width="1.6"/>
<rect x="459.7" y="485.8" width="10.4" height="2.7" fill="#000" stroke="#000" stroke-width="1.6"/>
<rect x="473.6" y="486.3" width="12.0" height="2.2" fill="#000"/>
<rect x="488.2" y="486.5" width="12.0" height="2.0" fill="#000"/>
<text x="111.3" y="505.5" font-size="13.8" text-anchor="end" transform="rotate(-40 111.3 505.5)">EJM</text>
<text x="164.2" y="505.5" font-size="13.8" text-anchor="end" transform="rotate(-40 164.2 505.5)">astrocytes</text>
<text x="217.0" y="505.5" font-size="13.8" text-anchor="end" transform="rotate(-40 217.0 505.5)">bronchial smooth muscle</text>
<text x="269.9" y="505.5" font-size="13.8" text-anchor="end" transform="rotate(-40 269.9 505.5)">cardiac myocytes</text>
<text x="322.7" y="505.5" font-size="13.8" text-anchor="end" transform="rotate(-40 322.7 505.5)">dermal microvascular endothelium</text>
<text x="375.6" y="505.5" font-size="13.8" text-anchor="end" transform="rotate(-40 375.6 505.5)">hepatocytes</text>
<text x="428.5" y="505.5" font-size="13.8" text-anchor="end" transform="rotate(-40 428.5 505.5)">melanocytes</text>
<text x="481.3" y="505.5" font-size="13.8" text-anchor="end" transform="rotate(-40 481.3 505.5)">dermal fibroblasts</text>
<text transform="translate(18.5 407.8) scale(1.170 1) rotate(-90)" x="0" y="0" font-size="14.3" text-anchor="middle" textLength="81.5" lengthAdjust="spacingAndGlyphs">IFN&#947; release</text>
<text transform="translate(37.2 406.2) scale(1.160 1) rotate(-90)" x="0" y="0" font-size="14.25" text-anchor="middle" textLength="123.2" lengthAdjust="spacingAndGlyphs">(no. spots +/- SEM)</text>
<rect x="312.2" y="332.1" width="15.3" height="10.4" fill="#000" stroke="#000" stroke-width="1.4"/>
<rect x="312.4" y="350.4" width="14.9" height="9.6" fill="#fff" stroke="#000" stroke-width="1.9"/>
<rect x="312.4" y="369.1" width="14.9" height="9.7" fill="#fff" stroke="#000" stroke-width="1.9"/>
<path d="M316.2,369.1 V378.8 M319.85,369.1 V378.8 M323.5,369.1 V378.8" stroke="#000" stroke-width="1.3"/>
<text x="335.8" y="341.1" font-size="12.8" textLength="93.4" lengthAdjust="spacingAndGlyphs">patient product</text>
<text x="335.8" y="359.5" font-size="12.8" textLength="142.5" lengthAdjust="spacingAndGlyphs">a3a transduced T cells</text>
<text x="335.8" y="377.9" font-size="12.8" textLength="142.5" lengthAdjust="spacingAndGlyphs">non transduced T cells</text>
<text x="0.2" y="686.6" font-size="25" font-weight="bold" textLength="15.8" lengthAdjust="spacingAndGlyphs" style="stroke-width:0.7px">C</text>
<path d="M109.0,700.2 V800.7" stroke="#000" stroke-width="2.2" fill="none"/>
<path d="M109.0,810.5 V835.6" stroke="#000" stroke-width="2.2" fill="none"/>
<path d="M105.2,800.7 H112.6 M105.2,810.5 H112.6" stroke="#000" stroke-width="1.9"/>
<path d="M106.6,823.1 H109.0" stroke="#000" stroke-width="1.6"/>
<path d="M106.0,701.1 H109.0" stroke="#000" stroke-width="1.8"/>
<text x="102.6" y="707.5" font-size="19.2" text-anchor="end" textLength="46.6" lengthAdjust="spacingAndGlyphs" style="stroke-width:0.65px">6000</text>
<path d="M106.0,735.2 H109.0" stroke="#000" stroke-width="1.8"/>
<text x="102.6" y="741.6" font-size="19.2" text-anchor="end" textLength="46.6" lengthAdjust="spacingAndGlyphs" style="stroke-width:0.65px">4000</text>
<path d="M106.0,769.3 H109.0" stroke="#000" stroke-width="1.8"/>
<text x="102.6" y="775.7" font-size="19.2" text-anchor="end" textLength="46.6" lengthAdjust="spacingAndGlyphs" style="stroke-width:0.65px">2000</text>
<path d="M106.4,718.1 H109.0" stroke="#000" stroke-width="1.6"/>
<path d="M106.4,752.2 H109.0" stroke="#000" stroke-width="1.6"/>
<path d="M106.4,786.4 H109.0" stroke="#000" stroke-width="1.6"/>
<text x="104.0" y="816.9" font-size="19.2" text-anchor="end" textLength="24.2" lengthAdjust="spacingAndGlyphs" style="stroke-width:0.65px">50</text>
<path d="M106.0,835.6 H109.0" stroke="#000" stroke-width="1.8"/>
<text x="104.0" y="842.0" font-size="19.2" text-anchor="end" textLength="12.3" lengthAdjust="spacingAndGlyphs" style="stroke-width:0.65px">0</text>
<path d="M108.0,835.6 H444.8" stroke="#000" stroke-width="2.3" fill="none"/>
<path d="M164.6,835.6 V839.2" stroke="#000" stroke-width="1.6"/>
<path d="M276.4,835.6 V839.2" stroke="#000" stroke-width="1.6"/>
<path d="M388.2,835.6 V839.2" stroke="#000" stroke-width="1.6"/>
<rect x="119.3" y="834.0" width="17.3" height="1.6" fill="#000"/>
<rect x="168.1" y="833.4" width="17.3" height="2.2" fill="#000"/>
<rect x="192.5" y="782.2" width="17.3" height="53.4" fill="#000"/>
<rect x="231.1" y="834.4" width="17.3" height="1.2" fill="#000"/>
<rect x="256.3" y="833.1" width="15.7" height="2.5" fill="url(#pNtd)" stroke="#000" stroke-width="1.6"/>
<rect x="280.8" y="824.7" width="15.7" height="10.9" fill="url(#pWt)" stroke="#000" stroke-width="1.6"/>
<path d="M288.6,823.9 V821.4 M284.6,821.4 H292.6" stroke="#000" stroke-width="1.8"/>
<rect x="304.4" y="707.4" width="17.3" height="128.2" fill="#000"/>
<rect x="192.0" y="800.4" width="18.3" height="10.9" fill="#fff"/>
<rect x="303.9" y="800.4" width="18.3" height="10.9" fill="#fff"/>
<path d="M176.9,774 V766.2 H201 V774" stroke="#000" stroke-width="2.4" fill="none"/>
<text x="189.0" y="766.6" font-size="15" text-anchor="middle" font-weight="bold">*</text>
<path d="M288.8,698.2 V690.6 H312.6 V698.2" stroke="#000" stroke-width="2.4" fill="none"/>
<text x="300.2" y="691.2" font-size="15" text-anchor="middle" font-weight="bold">*</text>
<text x="140.0" y="862.0" font-size="17.4" textLength="51.4" lengthAdjust="spacingAndGlyphs" style="stroke-width:0.65px">iCells</text>
<text x="256.2" y="862.0" font-size="17.4" textLength="41.5" lengthAdjust="spacingAndGlyphs" style="stroke-width:0.65px">EJM</text>
<text x="351.0" y="861.6" font-size="17.4" textLength="74.2" lengthAdjust="spacingAndGlyphs" style="stroke-width:0.65px">colo205</text>
<text style="stroke-width:0.6px" transform="translate(34.4 762.9) scale(1.190 1) rotate(-90)" x="0" y="0" font-size="19.6" text-anchor="middle" textLength="107.7" lengthAdjust="spacingAndGlyphs">IFN&#947; (pg/ml)</text>
<rect x="367.2" y="669.4" width="18.3" height="15.0" fill="#fff" stroke="#333" stroke-width="1.3"/>
<rect x="367.4" y="688.0" width="18.6" height="15.0" fill="url(#pNtd)" stroke="#000" stroke-width="1.6"/>
<rect x="367.4" y="706.9" width="18.6" height="15.0" fill="url(#pWt)" stroke="#000" stroke-width="1.6"/>
<rect x="367.4" y="725.3" width="18.6" height="14.8" fill="#000" stroke="#000" stroke-width="1.6"/>
<text x="395.2" y="681.7" font-size="17.0" textLength="110.7" lengthAdjust="spacingAndGlyphs" style="stroke-width:0.6px">Targets alone</text>
<text x="398.7" y="700.6" font-size="16.0" textLength="40.9" lengthAdjust="spacingAndGlyphs" style="stroke-width:0.6px">+ ntd</text>
<text x="398.7" y="719.4" font-size="16.0" textLength="34.6" lengthAdjust="spacingAndGlyphs" style="stroke-width:0.6px">+ wt</text>
<text x="395.2" y="737.6" font-size="15.0" textLength="47.3" lengthAdjust="spacingAndGlyphs" style="stroke-width:0.6px">+ a3a</text>
</svg>
</body></html>
